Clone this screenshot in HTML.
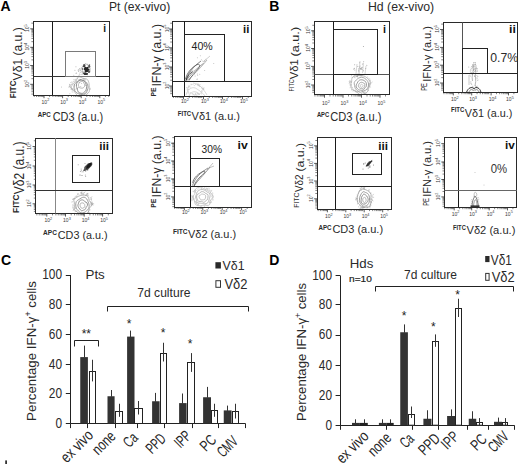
<!DOCTYPE html><html><head><meta charset="utf-8"><style>html,body{margin:0;padding:0;background:#fff;}svg{display:block;}text{font-family:"Liberation Sans",sans-serif;}</style></head><body>
<svg width="520" height="464" viewBox="0 0 520 464">
<rect width="520" height="464" fill="#fff"/>
<text x="0.40" y="10.90" font-size="14" font-weight="bold" fill="#000">A</text>
<text x="269.30" y="10.70" font-size="14" font-weight="bold" fill="#000">B</text>
<text x="0.90" y="264.70" font-size="14" font-weight="bold" fill="#000">C</text>
<text x="269.30" y="264.70" font-size="14" font-weight="bold" fill="#000">D</text>
<text x="109.00" y="11.20" font-size="12.4" textLength="61.20" lengthAdjust="spacingAndGlyphs" fill="#2a2a2a">Pt (ex-vivo)</text>
<text x="368.00" y="11.10" font-size="12.4" textLength="66.20" lengthAdjust="spacingAndGlyphs" fill="#2a2a2a">Hd (ex-vivo)</text>
<line x1="30.20" y1="28.80" x2="33.40" y2="28.80" stroke="#333" stroke-width="0.8"/>
<line x1="31.40" y1="23.17" x2="33.40" y2="23.17" stroke="#333" stroke-width="0.6"/>
<line x1="30.20" y1="47.30" x2="33.40" y2="47.30" stroke="#333" stroke-width="0.8"/>
<line x1="31.40" y1="41.67" x2="33.40" y2="41.67" stroke="#333" stroke-width="0.6"/>
<line x1="31.40" y1="38.38" x2="33.40" y2="38.38" stroke="#333" stroke-width="0.6"/>
<line x1="31.40" y1="36.04" x2="33.40" y2="36.04" stroke="#333" stroke-width="0.6"/>
<line x1="31.40" y1="34.23" x2="33.40" y2="34.23" stroke="#333" stroke-width="0.6"/>
<line x1="31.40" y1="32.75" x2="33.40" y2="32.75" stroke="#333" stroke-width="0.6"/>
<line x1="31.40" y1="31.50" x2="33.40" y2="31.50" stroke="#333" stroke-width="0.6"/>
<line x1="31.40" y1="30.41" x2="33.40" y2="30.41" stroke="#333" stroke-width="0.6"/>
<line x1="31.40" y1="29.46" x2="33.40" y2="29.46" stroke="#333" stroke-width="0.6"/>
<line x1="30.20" y1="65.50" x2="33.40" y2="65.50" stroke="#333" stroke-width="0.8"/>
<line x1="31.40" y1="59.87" x2="33.40" y2="59.87" stroke="#333" stroke-width="0.6"/>
<line x1="31.40" y1="56.58" x2="33.40" y2="56.58" stroke="#333" stroke-width="0.6"/>
<line x1="31.40" y1="54.24" x2="33.40" y2="54.24" stroke="#333" stroke-width="0.6"/>
<line x1="31.40" y1="52.43" x2="33.40" y2="52.43" stroke="#333" stroke-width="0.6"/>
<line x1="31.40" y1="50.95" x2="33.40" y2="50.95" stroke="#333" stroke-width="0.6"/>
<line x1="31.40" y1="49.70" x2="33.40" y2="49.70" stroke="#333" stroke-width="0.6"/>
<line x1="31.40" y1="48.61" x2="33.40" y2="48.61" stroke="#333" stroke-width="0.6"/>
<line x1="31.40" y1="47.66" x2="33.40" y2="47.66" stroke="#333" stroke-width="0.6"/>
<line x1="30.20" y1="84.30" x2="33.40" y2="84.30" stroke="#333" stroke-width="0.8"/>
<line x1="31.40" y1="78.67" x2="33.40" y2="78.67" stroke="#333" stroke-width="0.6"/>
<line x1="31.40" y1="75.38" x2="33.40" y2="75.38" stroke="#333" stroke-width="0.6"/>
<line x1="31.40" y1="73.04" x2="33.40" y2="73.04" stroke="#333" stroke-width="0.6"/>
<line x1="31.40" y1="71.23" x2="33.40" y2="71.23" stroke="#333" stroke-width="0.6"/>
<line x1="31.40" y1="69.75" x2="33.40" y2="69.75" stroke="#333" stroke-width="0.6"/>
<line x1="31.40" y1="68.50" x2="33.40" y2="68.50" stroke="#333" stroke-width="0.6"/>
<line x1="31.40" y1="67.41" x2="33.40" y2="67.41" stroke="#333" stroke-width="0.6"/>
<line x1="31.40" y1="66.46" x2="33.40" y2="66.46" stroke="#333" stroke-width="0.6"/>
<line x1="31.40" y1="94.08" x2="33.40" y2="94.08" stroke="#333" stroke-width="0.6"/>
<line x1="31.40" y1="91.74" x2="33.40" y2="91.74" stroke="#333" stroke-width="0.6"/>
<line x1="31.40" y1="89.93" x2="33.40" y2="89.93" stroke="#333" stroke-width="0.6"/>
<line x1="31.40" y1="88.45" x2="33.40" y2="88.45" stroke="#333" stroke-width="0.6"/>
<line x1="31.40" y1="87.20" x2="33.40" y2="87.20" stroke="#333" stroke-width="0.6"/>
<line x1="31.40" y1="86.11" x2="33.40" y2="86.11" stroke="#333" stroke-width="0.6"/>
<line x1="31.40" y1="85.16" x2="33.40" y2="85.16" stroke="#333" stroke-width="0.6"/>
<line x1="44.00" y1="95.00" x2="44.00" y2="98.20" stroke="#333" stroke-width="0.8"/>
<line x1="49.63" y1="95.00" x2="49.63" y2="97.00" stroke="#333" stroke-width="0.6"/>
<line x1="52.92" y1="95.00" x2="52.92" y2="97.00" stroke="#333" stroke-width="0.6"/>
<line x1="55.26" y1="95.00" x2="55.26" y2="97.00" stroke="#333" stroke-width="0.6"/>
<line x1="57.07" y1="95.00" x2="57.07" y2="97.00" stroke="#333" stroke-width="0.6"/>
<line x1="58.55" y1="95.00" x2="58.55" y2="97.00" stroke="#333" stroke-width="0.6"/>
<line x1="59.80" y1="95.00" x2="59.80" y2="97.00" stroke="#333" stroke-width="0.6"/>
<line x1="60.89" y1="95.00" x2="60.89" y2="97.00" stroke="#333" stroke-width="0.6"/>
<line x1="61.84" y1="95.00" x2="61.84" y2="97.00" stroke="#333" stroke-width="0.6"/>
<line x1="62.60" y1="95.00" x2="62.60" y2="98.20" stroke="#333" stroke-width="0.8"/>
<line x1="68.23" y1="95.00" x2="68.23" y2="97.00" stroke="#333" stroke-width="0.6"/>
<line x1="71.52" y1="95.00" x2="71.52" y2="97.00" stroke="#333" stroke-width="0.6"/>
<line x1="73.86" y1="95.00" x2="73.86" y2="97.00" stroke="#333" stroke-width="0.6"/>
<line x1="75.67" y1="95.00" x2="75.67" y2="97.00" stroke="#333" stroke-width="0.6"/>
<line x1="77.15" y1="95.00" x2="77.15" y2="97.00" stroke="#333" stroke-width="0.6"/>
<line x1="78.40" y1="95.00" x2="78.40" y2="97.00" stroke="#333" stroke-width="0.6"/>
<line x1="79.49" y1="95.00" x2="79.49" y2="97.00" stroke="#333" stroke-width="0.6"/>
<line x1="80.44" y1="95.00" x2="80.44" y2="97.00" stroke="#333" stroke-width="0.6"/>
<line x1="81.20" y1="95.00" x2="81.20" y2="98.20" stroke="#333" stroke-width="0.8"/>
<line x1="86.83" y1="95.00" x2="86.83" y2="97.00" stroke="#333" stroke-width="0.6"/>
<line x1="90.12" y1="95.00" x2="90.12" y2="97.00" stroke="#333" stroke-width="0.6"/>
<line x1="92.46" y1="95.00" x2="92.46" y2="97.00" stroke="#333" stroke-width="0.6"/>
<line x1="94.27" y1="95.00" x2="94.27" y2="97.00" stroke="#333" stroke-width="0.6"/>
<line x1="95.75" y1="95.00" x2="95.75" y2="97.00" stroke="#333" stroke-width="0.6"/>
<line x1="97.00" y1="95.00" x2="97.00" y2="97.00" stroke="#333" stroke-width="0.6"/>
<line x1="98.09" y1="95.00" x2="98.09" y2="97.00" stroke="#333" stroke-width="0.6"/>
<line x1="99.04" y1="95.00" x2="99.04" y2="97.00" stroke="#333" stroke-width="0.6"/>
<line x1="99.80" y1="95.00" x2="99.80" y2="98.20" stroke="#333" stroke-width="0.8"/>
<line x1="105.43" y1="95.00" x2="105.43" y2="97.00" stroke="#333" stroke-width="0.6"/>
<line x1="108.72" y1="95.00" x2="108.72" y2="97.00" stroke="#333" stroke-width="0.6"/>
<line x1="34.22" y1="95.00" x2="34.22" y2="97.00" stroke="#333" stroke-width="0.6"/>
<line x1="36.56" y1="95.00" x2="36.56" y2="97.00" stroke="#333" stroke-width="0.6"/>
<line x1="38.37" y1="95.00" x2="38.37" y2="97.00" stroke="#333" stroke-width="0.6"/>
<line x1="39.85" y1="95.00" x2="39.85" y2="97.00" stroke="#333" stroke-width="0.6"/>
<line x1="41.10" y1="95.00" x2="41.10" y2="97.00" stroke="#333" stroke-width="0.6"/>
<line x1="42.19" y1="95.00" x2="42.19" y2="97.00" stroke="#333" stroke-width="0.6"/>
<line x1="43.14" y1="95.00" x2="43.14" y2="97.00" stroke="#333" stroke-width="0.6"/>
<text x="41.60" y="103.60" font-size="5" fill="#3a3a3a">10<tspan font-size="3.8" dy="-2.2">2</tspan></text>
<text x="60.20" y="103.60" font-size="5" fill="#3a3a3a">10<tspan font-size="3.8" dy="-2.2">3</tspan></text>
<text x="78.80" y="103.60" font-size="5" fill="#3a3a3a">10<tspan font-size="3.8" dy="-2.2">4</tspan></text>
<text x="97.40" y="103.60" font-size="5" fill="#3a3a3a">10<tspan font-size="3.8" dy="-2.2">5</tspan></text>
<text transform="translate(28.90,32.10) rotate(-90)" font-size="5" fill="#3a3a3a">10<tspan font-size="3.8" dy="-2.2">5</tspan></text>
<text transform="translate(28.90,50.60) rotate(-90)" font-size="5" fill="#3a3a3a">10<tspan font-size="3.8" dy="-2.2">4</tspan></text>
<text transform="translate(28.90,68.80) rotate(-90)" font-size="5" fill="#3a3a3a">10<tspan font-size="3.8" dy="-2.2">3</tspan></text>
<text transform="translate(28.90,87.60) rotate(-90)" font-size="5" fill="#3a3a3a">10<tspan font-size="3.8" dy="-2.2">2</tspan></text>
<clipPath id="c1"><rect x="33.4" y="21.6" width="76.4" height="73.4"/></clipPath><g clip-path="url(#c1)">
<line x1="87.63" y1="92.99" x2="86.31" y2="94.21" stroke="#b4b4b4" stroke-width="0.55"/>
<line x1="79.56" y1="94.10" x2="79.84" y2="95.87" stroke="#b4b4b4" stroke-width="0.55"/>
<line x1="73.16" y1="79.65" x2="74.88" y2="80.18" stroke="#b4b4b4" stroke-width="0.55"/>
<line x1="90.10" y1="87.68" x2="90.48" y2="89.44" stroke="#b4b4b4" stroke-width="0.55"/>
<line x1="80.47" y1="79.33" x2="80.78" y2="81.10" stroke="#b4b4b4" stroke-width="0.55"/>
<line x1="79.33" y1="79.61" x2="77.56" y2="79.92" stroke="#b4b4b4" stroke-width="0.55"/>
<line x1="85.75" y1="82.94" x2="87.54" y2="83.08" stroke="#b4b4b4" stroke-width="0.55"/>
<line x1="69.28" y1="83.83" x2="69.94" y2="85.51" stroke="#b4b4b4" stroke-width="0.55"/>
<line x1="81.04" y1="94.56" x2="82.83" y2="94.72" stroke="#b4b4b4" stroke-width="0.55"/>
<line x1="81.64" y1="93.83" x2="81.66" y2="95.63" stroke="#b4b4b4" stroke-width="0.55"/>
<line x1="80.23" y1="93.74" x2="81.62" y2="94.88" stroke="#b4b4b4" stroke-width="0.55"/>
<line x1="70.49" y1="88.82" x2="72.28" y2="88.94" stroke="#b4b4b4" stroke-width="0.55"/>
<line x1="85.44" y1="79.25" x2="84.66" y2="80.88" stroke="#b4b4b4" stroke-width="0.55"/>
<line x1="85.09" y1="95.06" x2="83.46" y2="95.83" stroke="#b4b4b4" stroke-width="0.55"/>
<line x1="87.12" y1="91.54" x2="85.97" y2="92.92" stroke="#b4b4b4" stroke-width="0.55"/>
<line x1="77.19" y1="77.35" x2="77.62" y2="79.09" stroke="#b4b4b4" stroke-width="0.55"/>
<line x1="84.29" y1="78.90" x2="85.33" y2="80.37" stroke="#b4b4b4" stroke-width="0.55"/>
<line x1="71.77" y1="81.92" x2="70.18" y2="82.75" stroke="#b4b4b4" stroke-width="0.55"/>
<line x1="69.36" y1="86.63" x2="71.15" y2="86.82" stroke="#b4b4b4" stroke-width="0.55"/>
<line x1="80.23" y1="94.84" x2="80.71" y2="96.57" stroke="#b4b4b4" stroke-width="0.55"/>
<line x1="85.02" y1="93.46" x2="83.95" y2="94.91" stroke="#b4b4b4" stroke-width="0.55"/>
<line x1="75.65" y1="79.27" x2="75.99" y2="81.03" stroke="#b4b4b4" stroke-width="0.55"/>
<line x1="69.78" y1="85.64" x2="69.66" y2="87.44" stroke="#b4b4b4" stroke-width="0.55"/>
<line x1="71.68" y1="91.87" x2="73.48" y2="92.04" stroke="#b4b4b4" stroke-width="0.55"/>
<line x1="90.60" y1="89.24" x2="88.81" y2="89.34" stroke="#b4b4b4" stroke-width="0.55"/>
<line x1="71.56" y1="82.26" x2="73.11" y2="83.18" stroke="#b4b4b4" stroke-width="0.55"/>
<line x1="69.80" y1="86.28" x2="68.45" y2="87.47" stroke="#b4b4b4" stroke-width="0.55"/>
<line x1="69.13" y1="84.22" x2="70.47" y2="85.42" stroke="#b4b4b4" stroke-width="0.55"/>
<line x1="69.47" y1="85.34" x2="69.03" y2="87.09" stroke="#b4b4b4" stroke-width="0.55"/>
<line x1="71.58" y1="88.00" x2="71.31" y2="89.78" stroke="#b4b4b4" stroke-width="0.55"/>
<line x1="88.50" y1="84.62" x2="87.10" y2="85.75" stroke="#b4b4b4" stroke-width="0.55"/>
<line x1="85.16" y1="78.28" x2="83.93" y2="79.59" stroke="#b4b4b4" stroke-width="0.55"/>
<line x1="83.64" y1="78.62" x2="83.30" y2="80.39" stroke="#b4b4b4" stroke-width="0.55"/>
<line x1="73.46" y1="89.75" x2="71.81" y2="90.46" stroke="#b4b4b4" stroke-width="0.55"/>
<line x1="72.19" y1="83.00" x2="72.16" y2="84.80" stroke="#b4b4b4" stroke-width="0.55"/>
<line x1="70.53" y1="86.93" x2="71.37" y2="88.52" stroke="#b4b4b4" stroke-width="0.55"/>
<line x1="70.75" y1="84.17" x2="70.12" y2="85.86" stroke="#b4b4b4" stroke-width="0.55"/>
<line x1="71.45" y1="88.19" x2="72.80" y2="89.38" stroke="#b4b4b4" stroke-width="0.55"/>
<line x1="85.12" y1="93.98" x2="83.49" y2="94.74" stroke="#b4b4b4" stroke-width="0.55"/>
<line x1="83.86" y1="78.20" x2="82.35" y2="79.18" stroke="#b4b4b4" stroke-width="0.55"/>
<line x1="80.12" y1="95.05" x2="79.19" y2="96.59" stroke="#b4b4b4" stroke-width="0.55"/>
<line x1="86.14" y1="90.38" x2="87.94" y2="90.46" stroke="#b4b4b4" stroke-width="0.55"/>
<line x1="79.46" y1="79.30" x2="81.16" y2="79.91" stroke="#b4b4b4" stroke-width="0.55"/>
<line x1="72.71" y1="81.42" x2="74.47" y2="81.81" stroke="#b4b4b4" stroke-width="0.55"/>
<line x1="84.37" y1="93.35" x2="85.93" y2="94.25" stroke="#b4b4b4" stroke-width="0.55"/>
<circle cx="85.35" cy="85.35" r="0.5" fill="#bbb"/>
<circle cx="77.58" cy="88.59" r="0.5" fill="#bbb"/>
<circle cx="79.34" cy="82.39" r="0.5" fill="#bbb"/>
<circle cx="74.34" cy="84.99" r="0.5" fill="#bbb"/>
<circle cx="71.70" cy="84.62" r="0.5" fill="#bbb"/>
<circle cx="73.95" cy="86.85" r="0.5" fill="#bbb"/>
<circle cx="72.37" cy="89.69" r="0.5" fill="#bbb"/>
<circle cx="73.81" cy="75.21" r="0.5" fill="#bbb"/>
<circle cx="80.76" cy="86.43" r="0.5" fill="#bbb"/>
<circle cx="73.03" cy="89.07" r="0.5" fill="#bbb"/>
<circle cx="76.92" cy="88.21" r="0.5" fill="#bbb"/>
<circle cx="72.58" cy="88.77" r="0.5" fill="#bbb"/>
<circle cx="69.85" cy="93.77" r="0.5" fill="#bbb"/>
<circle cx="70.94" cy="87.17" r="0.5" fill="#bbb"/>
<circle cx="76.08" cy="88.88" r="0.5" fill="#bbb"/>
<circle cx="75.01" cy="89.93" r="0.5" fill="#bbb"/>
<circle cx="61.46" cy="87.06" r="0.5" fill="#bbb"/>
<circle cx="74.84" cy="85.75" r="0.5" fill="#bbb"/>
<circle cx="81.60" cy="83.57" r="0.5" fill="#bbb"/>
<circle cx="75.15" cy="79.33" r="0.5" fill="#bbb"/>
<circle cx="76.57" cy="80.96" r="0.5" fill="#bbb"/>
<circle cx="69.17" cy="96.95" r="0.5" fill="#bbb"/>
<circle cx="78.30" cy="87.44" r="0.5" fill="#bbb"/>
<circle cx="76.16" cy="81.66" r="0.5" fill="#bbb"/>
<circle cx="71.23" cy="89.18" r="0.5" fill="#bbb"/>
<path d="M89.29,87.50 C89.32,88.88 89.70,90.49 89.22,91.68 C88.73,92.87 87.42,93.74 86.39,94.64 C85.37,95.53 84.31,96.64 83.07,97.05 C81.82,97.46 80.08,97.63 78.92,97.11 C77.76,96.60 76.93,94.97 76.12,93.96 C75.31,92.94 74.91,92.10 74.08,91.02 C73.24,89.94 71.19,88.72 71.09,87.50 C70.99,86.28 72.69,84.81 73.48,83.68 C74.27,82.54 74.97,81.80 75.84,80.66 C76.71,79.53 77.51,77.25 78.70,76.86 C79.89,76.47 81.57,77.91 82.98,78.32 C84.40,78.73 86.17,78.48 87.18,79.32 C88.19,80.17 88.70,82.04 89.05,83.41 C89.40,84.77 89.26,86.12 89.29,87.50 Z" stroke="#a8a8a8" stroke-width="0.7" fill="none"/>
<path d="M88.13,87.00 C88.13,88.01 87.70,89.17 87.31,90.20 C86.91,91.22 86.50,92.45 85.77,93.12 C85.05,93.80 83.90,94.09 82.95,94.26 C82.00,94.43 81.03,94.31 80.08,94.12 C79.12,93.93 78.12,93.69 77.22,93.13 C76.32,92.57 75.19,91.78 74.67,90.76 C74.14,89.74 74.05,88.18 74.08,87.00 C74.11,85.82 74.31,84.60 74.86,83.71 C75.41,82.82 76.53,82.31 77.38,81.68 C78.22,81.05 79.00,80.16 79.93,79.93 C80.87,79.70 82.05,79.99 82.99,80.29 C83.93,80.60 84.86,81.10 85.58,81.74 C86.30,82.38 86.88,83.25 87.31,84.12 C87.74,85.00 88.13,85.99 88.13,87.00 Z" stroke="#8c8c8c" stroke-width="0.8" fill="none"/>
<path d="M86.60,86.50 C86.66,87.44 86.48,88.54 86.18,89.43 C85.87,90.32 85.35,91.18 84.76,91.82 C84.18,92.46 83.43,93.08 82.69,93.29 C81.95,93.50 81.10,93.31 80.34,93.08 C79.59,92.85 78.67,92.59 78.17,91.93 C77.67,91.26 77.61,90.01 77.33,89.11 C77.06,88.20 76.64,87.44 76.53,86.50 C76.42,85.56 76.38,84.35 76.68,83.48 C76.97,82.61 77.70,81.92 78.31,81.30 C78.91,80.68 79.61,79.88 80.32,79.76 C81.02,79.63 81.83,80.27 82.54,80.56 C83.26,80.84 84.06,80.90 84.60,81.44 C85.15,81.98 85.49,82.95 85.82,83.79 C86.15,84.64 86.54,85.56 86.60,86.50 Z" stroke="#7a7a7a" stroke-width="0.8" fill="none"/>
<path d="M84.71,85.00 C84.76,85.52 84.64,86.18 84.41,86.64 C84.19,87.09 83.74,87.46 83.36,87.73 C82.98,87.99 82.54,88.17 82.13,88.22 C81.72,88.26 81.34,88.07 80.91,88.00 C80.48,87.94 79.91,88.09 79.56,87.84 C79.21,87.59 79.02,86.98 78.82,86.51 C78.61,86.03 78.30,85.50 78.31,85.00 C78.32,84.50 78.68,84.01 78.88,83.53 C79.08,83.04 79.18,82.38 79.51,82.09 C79.84,81.79 80.42,81.90 80.87,81.77 C81.32,81.65 81.78,81.28 82.22,81.34 C82.65,81.40 83.15,81.75 83.47,82.11 C83.80,82.47 83.94,83.03 84.15,83.51 C84.35,83.99 84.67,84.48 84.71,85.00 Z" stroke="#999" stroke-width="0.7" fill="none"/>
<circle cx="80.23" cy="72.28" r="0.5" fill="#b0b0b0"/>
<circle cx="80.32" cy="70.21" r="0.5" fill="#b0b0b0"/>
<circle cx="78.21" cy="70.47" r="0.5" fill="#b0b0b0"/>
<circle cx="84.34" cy="72.06" r="0.5" fill="#b0b0b0"/>
<circle cx="84.11" cy="71.62" r="0.5" fill="#b0b0b0"/>
<circle cx="82.18" cy="71.46" r="0.5" fill="#b0b0b0"/>
<circle cx="76.00" cy="73.14" r="0.5" fill="#b0b0b0"/>
<circle cx="82.52" cy="72.25" r="0.5" fill="#b0b0b0"/>
<circle cx="75.93" cy="66.64" r="0.5" fill="#b0b0b0"/>
<circle cx="78.33" cy="69.83" r="0.5" fill="#b0b0b0"/>
<circle cx="81.92" cy="70.89" r="0.5" fill="#b0b0b0"/>
<circle cx="82.56" cy="69.39" r="0.5" fill="#b0b0b0"/>
<circle cx="81.93" cy="71.99" r="0.5" fill="#b0b0b0"/>
<circle cx="79.02" cy="75.29" r="0.5" fill="#b0b0b0"/>
<circle cx="82.67" cy="73.99" r="0.5" fill="#b0b0b0"/>
<circle cx="79.14" cy="69.15" r="0.5" fill="#b0b0b0"/>
<circle cx="79.97" cy="70.73" r="0.5" fill="#b0b0b0"/>
<circle cx="82.90" cy="71.62" r="0.5" fill="#b0b0b0"/>
<circle cx="79.66" cy="68.61" r="0.5" fill="#b0b0b0"/>
<circle cx="79.44" cy="74.05" r="0.5" fill="#b0b0b0"/>
<circle cx="78.58" cy="71.61" r="0.5" fill="#b0b0b0"/>
<circle cx="82.28" cy="67.28" r="0.5" fill="#b0b0b0"/>
<circle cx="81.15" cy="74.27" r="0.5" fill="#b0b0b0"/>
<circle cx="74.96" cy="70.20" r="0.5" fill="#b0b0b0"/>
<circle cx="80.68" cy="68.96" r="0.5" fill="#b0b0b0"/>
<circle cx="82.49" cy="70.84" r="0.5" fill="#b0b0b0"/>
<circle cx="76.61" cy="73.07" r="0.5" fill="#b0b0b0"/>
<circle cx="83.01" cy="73.36" r="0.5" fill="#b0b0b0"/>
<circle cx="85.32" cy="71.91" r="0.5" fill="#b0b0b0"/>
<circle cx="81.36" cy="67.75" r="0.5" fill="#b0b0b0"/>
<path d="M88.39,68.56 C88.69,69.03 89.71,69.38 89.76,69.75 C89.81,70.11 88.83,70.33 88.67,70.75 C88.52,71.18 89.03,72.08 88.83,72.28 C88.63,72.48 87.85,71.98 87.47,71.95 C87.09,71.93 86.95,72.06 86.56,72.15 C86.17,72.23 85.42,72.71 85.13,72.45 C84.84,72.20 85.04,71.12 84.82,70.63 C84.61,70.13 83.97,69.87 83.85,69.47 C83.73,69.07 83.98,68.59 84.11,68.21 C84.23,67.84 84.39,67.48 84.63,67.22 C84.86,66.96 85.17,66.65 85.51,66.64 C85.84,66.62 86.23,67.08 86.64,67.13 C87.05,67.18 87.68,66.70 87.97,66.94 C88.27,67.18 88.10,68.10 88.39,68.56 Z" stroke="none" stroke-width="0" fill="#262626"/>
<path d="M85.47,65.80 C85.46,66.05 85.39,66.34 85.28,66.52 C85.18,66.71 84.96,66.67 84.83,66.90 C84.71,67.14 84.69,67.92 84.55,67.94 C84.41,67.96 84.19,67.16 84.00,67.04 C83.80,66.91 83.60,67.25 83.39,67.21 C83.18,67.17 82.78,67.00 82.75,66.77 C82.72,66.53 83.19,66.10 83.23,65.80 C83.27,65.50 82.97,65.24 82.99,64.99 C83.01,64.74 83.17,64.37 83.33,64.29 C83.50,64.22 83.80,64.55 83.99,64.53 C84.18,64.51 84.28,64.22 84.47,64.17 C84.65,64.12 84.96,64.08 85.11,64.22 C85.25,64.37 85.28,64.78 85.34,65.04 C85.40,65.30 85.48,65.55 85.47,65.80 Z" stroke="none" stroke-width="0" fill="#404040"/>
<path d="M90.45,66.30 C90.49,66.49 90.31,66.75 90.24,66.96 C90.16,67.18 90.12,67.51 89.98,67.61 C89.85,67.71 89.60,67.49 89.42,67.58 C89.24,67.68 89.07,68.12 88.88,68.15 C88.70,68.19 88.45,67.98 88.31,67.79 C88.16,67.61 88.03,67.31 88.02,67.06 C88.01,66.81 88.23,66.54 88.24,66.30 C88.26,66.06 88.06,65.78 88.11,65.60 C88.15,65.41 88.38,65.28 88.53,65.18 C88.67,65.07 88.80,65.12 88.97,64.97 C89.14,64.83 89.34,64.37 89.54,64.32 C89.74,64.27 90.10,64.43 90.17,64.68 C90.25,64.92 89.94,65.52 89.99,65.80 C90.03,66.07 90.41,66.11 90.45,66.30 Z" stroke="none" stroke-width="0" fill="#555"/>
<path d="M87.83,73.80 C87.78,74.01 87.82,74.17 87.74,74.38 C87.66,74.60 87.66,74.97 87.38,75.08 C87.09,75.18 86.43,75.04 86.02,75.04 C85.62,75.04 85.31,75.10 84.96,75.07 C84.61,75.04 84.13,75.01 83.93,74.87 C83.72,74.73 83.89,74.44 83.75,74.26 C83.61,74.08 83.18,73.98 83.08,73.80 C82.99,73.62 83.06,73.39 83.17,73.19 C83.28,72.99 83.42,72.66 83.74,72.60 C84.06,72.55 84.72,72.83 85.10,72.84 C85.47,72.85 85.72,72.65 85.97,72.68 C86.23,72.71 86.28,72.96 86.63,73.03 C86.98,73.11 87.86,73.00 88.06,73.13 C88.26,73.26 87.89,73.59 87.83,73.80 Z" stroke="none" stroke-width="0" fill="#333"/>
<path d="M90.19,71.50 C90.20,71.68 90.19,71.88 90.12,72.04 C90.05,72.20 89.92,72.39 89.78,72.48 C89.63,72.56 89.41,72.56 89.24,72.57 C89.08,72.58 88.93,72.56 88.76,72.53 C88.60,72.51 88.41,72.50 88.27,72.41 C88.14,72.32 88.07,72.14 87.98,71.99 C87.88,71.84 87.73,71.67 87.71,71.50 C87.69,71.33 87.78,71.12 87.87,70.96 C87.96,70.80 88.09,70.65 88.23,70.54 C88.38,70.43 88.56,70.36 88.73,70.31 C88.90,70.27 89.12,70.23 89.28,70.28 C89.44,70.34 89.55,70.52 89.68,70.64 C89.82,70.76 89.98,70.84 90.07,70.99 C90.15,71.13 90.18,71.32 90.19,71.50 Z" stroke="none" stroke-width="0" fill="#555"/>
<path d="M83.44,69.00 C83.45,69.15 83.49,69.32 83.44,69.45 C83.39,69.59 83.27,69.72 83.15,69.82 C83.03,69.92 82.88,70.04 82.74,70.06 C82.60,70.07 82.43,69.96 82.29,69.90 C82.16,69.85 82.02,69.82 81.92,69.73 C81.81,69.65 81.73,69.52 81.68,69.40 C81.62,69.28 81.59,69.14 81.57,69.00 C81.54,68.86 81.49,68.66 81.55,68.54 C81.61,68.42 81.81,68.37 81.93,68.29 C82.05,68.20 82.15,68.05 82.28,68.02 C82.41,67.99 82.57,68.05 82.71,68.09 C82.84,68.13 82.98,68.18 83.09,68.26 C83.21,68.34 83.33,68.45 83.39,68.57 C83.44,68.70 83.43,68.85 83.44,69.00 Z" stroke="none" stroke-width="0" fill="#777"/>
<line x1="89.64" y1="71.68" x2="89.00" y2="72.92" stroke="#666" stroke-width="0.5"/>
<line x1="88.98" y1="66.79" x2="89.95" y2="67.80" stroke="#666" stroke-width="0.5"/>
<line x1="85.17" y1="63.22" x2="85.99" y2="64.36" stroke="#666" stroke-width="0.5"/>
<line x1="84.98" y1="64.11" x2="83.91" y2="65.01" stroke="#666" stroke-width="0.5"/>
<line x1="89.37" y1="71.89" x2="88.03" y2="72.32" stroke="#666" stroke-width="0.5"/>
<line x1="84.24" y1="72.21" x2="83.10" y2="73.02" stroke="#666" stroke-width="0.5"/>
<line x1="83.69" y1="65.02" x2="83.46" y2="66.40" stroke="#666" stroke-width="0.5"/>
<line x1="84.47" y1="64.52" x2="83.83" y2="65.77" stroke="#666" stroke-width="0.5"/>
<line x1="88.05" y1="72.14" x2="89.40" y2="72.50" stroke="#666" stroke-width="0.5"/>
<line x1="87.08" y1="73.82" x2="87.50" y2="75.15" stroke="#666" stroke-width="0.5"/>
<line x1="90.15" y1="68.04" x2="89.69" y2="69.37" stroke="#666" stroke-width="0.5"/>
<line x1="88.28" y1="64.97" x2="89.60" y2="65.45" stroke="#666" stroke-width="0.5"/>
<line x1="81.88" y1="65.86" x2="83.06" y2="66.62" stroke="#666" stroke-width="0.5"/>
<line x1="89.72" y1="71.42" x2="89.66" y2="72.82" stroke="#666" stroke-width="0.5"/>
<line x1="86.82" y1="73.18" x2="87.90" y2="74.07" stroke="#666" stroke-width="0.5"/>
<line x1="86.53" y1="64.01" x2="87.86" y2="64.45" stroke="#666" stroke-width="0.5"/>
<line x1="87.01" y1="64.47" x2="87.90" y2="65.55" stroke="#666" stroke-width="0.5"/>
<line x1="89.57" y1="69.69" x2="90.88" y2="70.18" stroke="#666" stroke-width="0.5"/>
</g>
<rect x="33.50" y="21.50" width="76.00" height="74.00" stroke="#2a2a2a" stroke-width="1" fill="none"/>
<line x1="52.50" y1="21.60" x2="52.50" y2="95.00" stroke="#1a1a1a" stroke-width="1"/>
<line x1="33.40" y1="76.50" x2="109.80" y2="76.50" stroke="#333" stroke-width="1"/>
<rect x="65.50" y="51.50" width="30.00" height="25.00" stroke="#7a7a7a" stroke-width="1" fill="none"/>
<text x="103.20" y="32.30" font-size="10.5" font-weight="bold" textLength="2.80" lengthAdjust="spacingAndGlyphs" fill="#111">i</text>
<text x="37.70" y="117.40" font-size="7.2" font-weight="bold" textLength="13.10" lengthAdjust="spacingAndGlyphs" fill="#2a2a2a">APC</text>
<text x="52.70" y="121.30" font-size="12.4" textLength="50.50" lengthAdjust="spacingAndGlyphs" fill="#2a2a2a">CD3 (a.u.)</text>
<text transform="translate(15.50,98.20) rotate(-90)" x="0" y="0" font-size="9.2" font-weight="bold" textLength="17.60" lengthAdjust="spacingAndGlyphs" fill="#2a2a2a">FITC</text>
<text transform="translate(21.50,80.40) rotate(-90)" x="0" y="0" font-size="13.5" textLength="53.10" lengthAdjust="spacingAndGlyphs" fill="#2a2a2a">Vδ1 (a.u.)</text>
<line x1="169.00" y1="29.00" x2="172.20" y2="29.00" stroke="#333" stroke-width="0.8"/>
<line x1="170.20" y1="23.22" x2="172.20" y2="23.22" stroke="#333" stroke-width="0.6"/>
<line x1="169.00" y1="47.80" x2="172.20" y2="47.80" stroke="#333" stroke-width="0.8"/>
<line x1="170.20" y1="42.02" x2="172.20" y2="42.02" stroke="#333" stroke-width="0.6"/>
<line x1="170.20" y1="38.64" x2="172.20" y2="38.64" stroke="#333" stroke-width="0.6"/>
<line x1="170.20" y1="36.24" x2="172.20" y2="36.24" stroke="#333" stroke-width="0.6"/>
<line x1="170.20" y1="34.38" x2="172.20" y2="34.38" stroke="#333" stroke-width="0.6"/>
<line x1="170.20" y1="32.86" x2="172.20" y2="32.86" stroke="#333" stroke-width="0.6"/>
<line x1="170.20" y1="31.57" x2="172.20" y2="31.57" stroke="#333" stroke-width="0.6"/>
<line x1="170.20" y1="30.46" x2="172.20" y2="30.46" stroke="#333" stroke-width="0.6"/>
<line x1="170.20" y1="29.48" x2="172.20" y2="29.48" stroke="#333" stroke-width="0.6"/>
<line x1="169.00" y1="67.00" x2="172.20" y2="67.00" stroke="#333" stroke-width="0.8"/>
<line x1="170.20" y1="61.22" x2="172.20" y2="61.22" stroke="#333" stroke-width="0.6"/>
<line x1="170.20" y1="57.84" x2="172.20" y2="57.84" stroke="#333" stroke-width="0.6"/>
<line x1="170.20" y1="55.44" x2="172.20" y2="55.44" stroke="#333" stroke-width="0.6"/>
<line x1="170.20" y1="53.58" x2="172.20" y2="53.58" stroke="#333" stroke-width="0.6"/>
<line x1="170.20" y1="52.06" x2="172.20" y2="52.06" stroke="#333" stroke-width="0.6"/>
<line x1="170.20" y1="50.77" x2="172.20" y2="50.77" stroke="#333" stroke-width="0.6"/>
<line x1="170.20" y1="49.66" x2="172.20" y2="49.66" stroke="#333" stroke-width="0.6"/>
<line x1="170.20" y1="48.68" x2="172.20" y2="48.68" stroke="#333" stroke-width="0.6"/>
<line x1="169.00" y1="86.00" x2="172.20" y2="86.00" stroke="#333" stroke-width="0.8"/>
<line x1="170.20" y1="80.22" x2="172.20" y2="80.22" stroke="#333" stroke-width="0.6"/>
<line x1="170.20" y1="76.84" x2="172.20" y2="76.84" stroke="#333" stroke-width="0.6"/>
<line x1="170.20" y1="74.44" x2="172.20" y2="74.44" stroke="#333" stroke-width="0.6"/>
<line x1="170.20" y1="72.58" x2="172.20" y2="72.58" stroke="#333" stroke-width="0.6"/>
<line x1="170.20" y1="71.06" x2="172.20" y2="71.06" stroke="#333" stroke-width="0.6"/>
<line x1="170.20" y1="69.77" x2="172.20" y2="69.77" stroke="#333" stroke-width="0.6"/>
<line x1="170.20" y1="68.66" x2="172.20" y2="68.66" stroke="#333" stroke-width="0.6"/>
<line x1="170.20" y1="67.68" x2="172.20" y2="67.68" stroke="#333" stroke-width="0.6"/>
<line x1="170.20" y1="93.64" x2="172.20" y2="93.64" stroke="#333" stroke-width="0.6"/>
<line x1="170.20" y1="91.78" x2="172.20" y2="91.78" stroke="#333" stroke-width="0.6"/>
<line x1="170.20" y1="90.26" x2="172.20" y2="90.26" stroke="#333" stroke-width="0.6"/>
<line x1="170.20" y1="88.97" x2="172.20" y2="88.97" stroke="#333" stroke-width="0.6"/>
<line x1="170.20" y1="87.86" x2="172.20" y2="87.86" stroke="#333" stroke-width="0.6"/>
<line x1="170.20" y1="86.88" x2="172.20" y2="86.88" stroke="#333" stroke-width="0.6"/>
<line x1="183.50" y1="96.00" x2="183.50" y2="99.20" stroke="#333" stroke-width="0.8"/>
<line x1="189.28" y1="96.00" x2="189.28" y2="98.00" stroke="#333" stroke-width="0.6"/>
<line x1="192.66" y1="96.00" x2="192.66" y2="98.00" stroke="#333" stroke-width="0.6"/>
<line x1="195.06" y1="96.00" x2="195.06" y2="98.00" stroke="#333" stroke-width="0.6"/>
<line x1="196.92" y1="96.00" x2="196.92" y2="98.00" stroke="#333" stroke-width="0.6"/>
<line x1="198.44" y1="96.00" x2="198.44" y2="98.00" stroke="#333" stroke-width="0.6"/>
<line x1="199.73" y1="96.00" x2="199.73" y2="98.00" stroke="#333" stroke-width="0.6"/>
<line x1="200.84" y1="96.00" x2="200.84" y2="98.00" stroke="#333" stroke-width="0.6"/>
<line x1="201.82" y1="96.00" x2="201.82" y2="98.00" stroke="#333" stroke-width="0.6"/>
<line x1="203.50" y1="96.00" x2="203.50" y2="99.20" stroke="#333" stroke-width="0.8"/>
<line x1="209.28" y1="96.00" x2="209.28" y2="98.00" stroke="#333" stroke-width="0.6"/>
<line x1="212.66" y1="96.00" x2="212.66" y2="98.00" stroke="#333" stroke-width="0.6"/>
<line x1="215.06" y1="96.00" x2="215.06" y2="98.00" stroke="#333" stroke-width="0.6"/>
<line x1="216.92" y1="96.00" x2="216.92" y2="98.00" stroke="#333" stroke-width="0.6"/>
<line x1="218.44" y1="96.00" x2="218.44" y2="98.00" stroke="#333" stroke-width="0.6"/>
<line x1="219.73" y1="96.00" x2="219.73" y2="98.00" stroke="#333" stroke-width="0.6"/>
<line x1="220.84" y1="96.00" x2="220.84" y2="98.00" stroke="#333" stroke-width="0.6"/>
<line x1="221.82" y1="96.00" x2="221.82" y2="98.00" stroke="#333" stroke-width="0.6"/>
<line x1="222.50" y1="96.00" x2="222.50" y2="99.20" stroke="#333" stroke-width="0.8"/>
<line x1="228.28" y1="96.00" x2="228.28" y2="98.00" stroke="#333" stroke-width="0.6"/>
<line x1="231.66" y1="96.00" x2="231.66" y2="98.00" stroke="#333" stroke-width="0.6"/>
<line x1="234.06" y1="96.00" x2="234.06" y2="98.00" stroke="#333" stroke-width="0.6"/>
<line x1="235.92" y1="96.00" x2="235.92" y2="98.00" stroke="#333" stroke-width="0.6"/>
<line x1="237.44" y1="96.00" x2="237.44" y2="98.00" stroke="#333" stroke-width="0.6"/>
<line x1="238.73" y1="96.00" x2="238.73" y2="98.00" stroke="#333" stroke-width="0.6"/>
<line x1="239.84" y1="96.00" x2="239.84" y2="98.00" stroke="#333" stroke-width="0.6"/>
<line x1="240.82" y1="96.00" x2="240.82" y2="98.00" stroke="#333" stroke-width="0.6"/>
<line x1="242.50" y1="96.00" x2="242.50" y2="99.20" stroke="#333" stroke-width="0.8"/>
<line x1="248.28" y1="96.00" x2="248.28" y2="98.00" stroke="#333" stroke-width="0.6"/>
<line x1="173.46" y1="96.00" x2="173.46" y2="98.00" stroke="#333" stroke-width="0.6"/>
<line x1="175.86" y1="96.00" x2="175.86" y2="98.00" stroke="#333" stroke-width="0.6"/>
<line x1="177.72" y1="96.00" x2="177.72" y2="98.00" stroke="#333" stroke-width="0.6"/>
<line x1="179.24" y1="96.00" x2="179.24" y2="98.00" stroke="#333" stroke-width="0.6"/>
<line x1="180.53" y1="96.00" x2="180.53" y2="98.00" stroke="#333" stroke-width="0.6"/>
<line x1="181.64" y1="96.00" x2="181.64" y2="98.00" stroke="#333" stroke-width="0.6"/>
<line x1="182.62" y1="96.00" x2="182.62" y2="98.00" stroke="#333" stroke-width="0.6"/>
<text x="181.10" y="103.00" font-size="5" fill="#3a3a3a">10<tspan font-size="3.8" dy="-2.2">2</tspan></text>
<text x="201.10" y="103.00" font-size="5" fill="#3a3a3a">10<tspan font-size="3.8" dy="-2.2">3</tspan></text>
<text x="220.10" y="103.00" font-size="5" fill="#3a3a3a">10<tspan font-size="3.8" dy="-2.2">4</tspan></text>
<text x="240.10" y="103.00" font-size="5" fill="#3a3a3a">10<tspan font-size="3.8" dy="-2.2">5</tspan></text>
<text transform="translate(168.60,32.30) rotate(-90)" font-size="5" fill="#3a3a3a">10<tspan font-size="3.8" dy="-2.2">5</tspan></text>
<text transform="translate(168.60,51.10) rotate(-90)" font-size="5" fill="#3a3a3a">10<tspan font-size="3.8" dy="-2.2">4</tspan></text>
<text transform="translate(168.60,70.30) rotate(-90)" font-size="5" fill="#3a3a3a">10<tspan font-size="3.8" dy="-2.2">3</tspan></text>
<text transform="translate(168.60,89.30) rotate(-90)" font-size="5" fill="#3a3a3a">10<tspan font-size="3.8" dy="-2.2">2</tspan></text>
<clipPath id="c2"><rect x="172.2" y="21.2" width="79.10000000000002" height="74.8"/></clipPath><g clip-path="url(#c2)">
<line x1="199.72" y1="93.14" x2="198.89" y2="94.96" stroke="#c4c4c4" stroke-width="0.55"/>
<line x1="188.54" y1="89.49" x2="186.95" y2="90.71" stroke="#c4c4c4" stroke-width="0.55"/>
<line x1="197.87" y1="83.81" x2="197.84" y2="85.81" stroke="#c4c4c4" stroke-width="0.55"/>
<line x1="195.20" y1="92.82" x2="195.99" y2="94.66" stroke="#c4c4c4" stroke-width="0.55"/>
<line x1="189.81" y1="86.67" x2="188.21" y2="87.88" stroke="#c4c4c4" stroke-width="0.55"/>
<line x1="194.83" y1="93.94" x2="196.81" y2="94.20" stroke="#c4c4c4" stroke-width="0.55"/>
<line x1="204.50" y1="89.04" x2="202.65" y2="89.80" stroke="#c4c4c4" stroke-width="0.55"/>
<line x1="189.35" y1="85.78" x2="190.38" y2="87.50" stroke="#c4c4c4" stroke-width="0.55"/>
<line x1="188.91" y1="89.42" x2="186.93" y2="89.72" stroke="#c4c4c4" stroke-width="0.55"/>
<line x1="190.98" y1="92.25" x2="189.30" y2="93.34" stroke="#c4c4c4" stroke-width="0.55"/>
<line x1="201.24" y1="92.50" x2="201.53" y2="94.48" stroke="#c4c4c4" stroke-width="0.55"/>
<line x1="187.73" y1="86.97" x2="187.83" y2="88.97" stroke="#c4c4c4" stroke-width="0.55"/>
<line x1="198.57" y1="93.06" x2="196.75" y2="93.88" stroke="#c4c4c4" stroke-width="0.55"/>
<line x1="195.03" y1="94.29" x2="196.62" y2="95.51" stroke="#c4c4c4" stroke-width="0.55"/>
<line x1="204.49" y1="87.71" x2="203.06" y2="89.11" stroke="#c4c4c4" stroke-width="0.55"/>
<line x1="196.32" y1="83.64" x2="195.00" y2="85.15" stroke="#c4c4c4" stroke-width="0.55"/>
<line x1="201.56" y1="92.44" x2="199.85" y2="93.47" stroke="#c4c4c4" stroke-width="0.55"/>
<line x1="198.67" y1="94.52" x2="196.79" y2="95.22" stroke="#c4c4c4" stroke-width="0.55"/>
<line x1="188.38" y1="91.09" x2="188.68" y2="93.07" stroke="#c4c4c4" stroke-width="0.55"/>
<line x1="187.73" y1="92.34" x2="188.43" y2="94.21" stroke="#c4c4c4" stroke-width="0.55"/>
<line x1="202.56" y1="89.46" x2="201.29" y2="91.01" stroke="#c4c4c4" stroke-width="0.55"/>
<line x1="202.96" y1="88.28" x2="203.01" y2="90.27" stroke="#c4c4c4" stroke-width="0.55"/>
<line x1="186.07" y1="87.18" x2="187.60" y2="88.47" stroke="#c4c4c4" stroke-width="0.55"/>
<line x1="189.07" y1="85.36" x2="188.32" y2="87.21" stroke="#c4c4c4" stroke-width="0.55"/>
<line x1="197.58" y1="92.70" x2="198.50" y2="94.47" stroke="#c4c4c4" stroke-width="0.55"/>
<line x1="202.15" y1="86.44" x2="201.54" y2="88.34" stroke="#c4c4c4" stroke-width="0.55"/>
<line x1="191.57" y1="93.42" x2="193.52" y2="93.83" stroke="#c4c4c4" stroke-width="0.55"/>
<line x1="197.99" y1="83.59" x2="198.76" y2="85.44" stroke="#c4c4c4" stroke-width="0.55"/>
<line x1="192.53" y1="84.38" x2="190.63" y2="85.00" stroke="#c4c4c4" stroke-width="0.55"/>
<line x1="203.51" y1="88.21" x2="201.51" y2="88.27" stroke="#c4c4c4" stroke-width="0.55"/>
<line x1="203.91" y1="87.91" x2="202.04" y2="88.63" stroke="#c4c4c4" stroke-width="0.55"/>
<line x1="186.60" y1="89.07" x2="188.02" y2="90.48" stroke="#c4c4c4" stroke-width="0.55"/>
<line x1="199.14" y1="86.13" x2="201.10" y2="86.56" stroke="#c4c4c4" stroke-width="0.55"/>
<line x1="197.89" y1="83.41" x2="198.00" y2="85.41" stroke="#c4c4c4" stroke-width="0.55"/>
<line x1="197.91" y1="85.08" x2="199.29" y2="86.53" stroke="#c4c4c4" stroke-width="0.55"/>
<line x1="192.20" y1="93.72" x2="193.92" y2="94.74" stroke="#c4c4c4" stroke-width="0.55"/>
<line x1="202.85" y1="91.20" x2="200.95" y2="91.82" stroke="#c4c4c4" stroke-width="0.55"/>
<line x1="203.48" y1="87.94" x2="203.61" y2="89.94" stroke="#c4c4c4" stroke-width="0.55"/>
<line x1="194.95" y1="94.19" x2="194.79" y2="96.18" stroke="#c4c4c4" stroke-width="0.55"/>
<line x1="193.29" y1="84.63" x2="194.87" y2="85.86" stroke="#c4c4c4" stroke-width="0.55"/>
<line x1="200.52" y1="84.51" x2="198.65" y2="85.24" stroke="#c4c4c4" stroke-width="0.55"/>
<line x1="188.96" y1="85.62" x2="188.46" y2="87.56" stroke="#c4c4c4" stroke-width="0.55"/>
<line x1="199.51" y1="84.68" x2="199.30" y2="86.67" stroke="#c4c4c4" stroke-width="0.55"/>
<line x1="192.60" y1="94.80" x2="194.59" y2="94.86" stroke="#c4c4c4" stroke-width="0.55"/>
<line x1="190.41" y1="84.21" x2="192.40" y2="84.36" stroke="#c4c4c4" stroke-width="0.55"/>
<path d="M186,95 C188,88 193,86 197,89 C200,91 203,93 205,96 M189,96 C191,91 196,90 200,95 M193,83 C199,84 203,88 207,95" stroke="#c0c0c0" stroke-width="0.6" fill="none"/>
<path d="M185.8,80.5 C188,73 193,67 201,61" stroke="#666" stroke-width="0.8" fill="none"/>
<path d="M186.5,80.5 C190,75 196,69 204,63" stroke="#7a7a7a" stroke-width="0.8" fill="none"/>
<path d="M187.5,80.5 C192,76 198,71 207,60" stroke="#999" stroke-width="0.7" fill="none"/>
<path d="M185.6,79 C187,73 191,68 197,64.5 C200,63.5 200.5,66 198,69 C195,72.5 191,76.5 189,80.5" stroke="#555" stroke-width="0.8" fill="none"/>
<path d="M186,80.5 C187.5,76.5 189.5,73.5 192.5,71.5" stroke="#3a3a3a" stroke-width="1.0" fill="none"/>
<path d="M203,62 L210,56" stroke="#b0b0b0" stroke-width="0.6" fill="none"/>
<circle cx="204.59" cy="61.57" r="0.5" fill="#bbb"/>
<circle cx="213.77" cy="63.61" r="0.5" fill="#bbb"/>
<circle cx="203.61" cy="63.39" r="0.5" fill="#bbb"/>
<circle cx="201.40" cy="59.75" r="0.5" fill="#bbb"/>
<circle cx="204.67" cy="60.61" r="0.5" fill="#bbb"/>
<circle cx="205.55" cy="61.34" r="0.5" fill="#bbb"/>
<circle cx="197.40" cy="57.87" r="0.5" fill="#bbb"/>
<circle cx="200.31" cy="55.75" r="0.5" fill="#bbb"/>
<circle cx="202.75" cy="61.09" r="0.5" fill="#bbb"/>
<circle cx="205.94" cy="59.28" r="0.5" fill="#bbb"/>
<circle cx="204.68" cy="70.57" r="0.5" fill="#bbb"/>
<circle cx="197.30" cy="73.95" r="0.5" fill="#bbb"/>
<circle cx="192.48" cy="72.70" r="0.5" fill="#bbb"/>
<circle cx="193.92" cy="74.60" r="0.5" fill="#bbb"/>
<circle cx="197.55" cy="79.05" r="0.5" fill="#bbb"/>
<circle cx="196.80" cy="79.33" r="0.5" fill="#bbb"/>
<circle cx="197.67" cy="75.26" r="0.5" fill="#bbb"/>
<circle cx="194.96" cy="70.95" r="0.5" fill="#bbb"/>
<circle cx="189.51" cy="74.48" r="0.5" fill="#bbb"/>
<circle cx="195.13" cy="76.07" r="0.5" fill="#bbb"/>
<circle cx="197.10" cy="69.78" r="0.5" fill="#bbb"/>
<circle cx="192.95" cy="70.34" r="0.5" fill="#bbb"/>
<circle cx="199.73" cy="74.31" r="0.5" fill="#bbb"/>
<circle cx="196.24" cy="71.17" r="0.5" fill="#bbb"/>
<circle cx="190.71" cy="72.43" r="0.5" fill="#bbb"/>
</g>
<rect x="172.50" y="21.50" width="79.00" height="75.00" stroke="#2a2a2a" stroke-width="1" fill="none"/>
<line x1="184.50" y1="21.20" x2="184.50" y2="96.00" stroke="#1a1a1a" stroke-width="1"/>
<line x1="172.20" y1="81.50" x2="251.30" y2="81.50" stroke="#222" stroke-width="1"/>
<rect x="184.50" y="34.50" width="40.00" height="47.00" stroke="#222" stroke-width="1" fill="none"/>
<text x="243.00" y="32.80" font-size="10.5" font-weight="bold" textLength="6.30" lengthAdjust="spacingAndGlyphs" fill="#111">ii</text>
<text x="191.50" y="49.90" font-size="11" textLength="21.20" lengthAdjust="spacingAndGlyphs" fill="#222">40%</text>
<text x="177.80" y="116.40" font-size="7.2" font-weight="bold" textLength="13.40" lengthAdjust="spacingAndGlyphs" fill="#2a2a2a">FITC</text>
<text x="191.60" y="119.80" font-size="11.6" textLength="48.40" lengthAdjust="spacingAndGlyphs" fill="#2a2a2a">Vδ1 (a.u.)</text>
<text transform="translate(156.40,96.60) rotate(-90)" x="0" y="0" font-size="8.0" font-weight="bold" textLength="9.00" lengthAdjust="spacingAndGlyphs" fill="#2a2a2a">PE</text>
<text transform="translate(160.80,86.60) rotate(-90)" x="0" y="0" font-size="12.2" textLength="62.70" lengthAdjust="spacingAndGlyphs" fill="#2a2a2a">IFN-γ (a.u.)</text>
<line x1="311.10" y1="30.80" x2="314.30" y2="30.80" stroke="#333" stroke-width="0.8"/>
<line x1="312.30" y1="25.29" x2="314.30" y2="25.29" stroke="#333" stroke-width="0.6"/>
<line x1="311.10" y1="48.50" x2="314.30" y2="48.50" stroke="#333" stroke-width="0.8"/>
<line x1="312.30" y1="42.99" x2="314.30" y2="42.99" stroke="#333" stroke-width="0.6"/>
<line x1="312.30" y1="39.77" x2="314.30" y2="39.77" stroke="#333" stroke-width="0.6"/>
<line x1="312.30" y1="37.48" x2="314.30" y2="37.48" stroke="#333" stroke-width="0.6"/>
<line x1="312.30" y1="35.71" x2="314.30" y2="35.71" stroke="#333" stroke-width="0.6"/>
<line x1="312.30" y1="34.26" x2="314.30" y2="34.26" stroke="#333" stroke-width="0.6"/>
<line x1="312.30" y1="33.03" x2="314.30" y2="33.03" stroke="#333" stroke-width="0.6"/>
<line x1="312.30" y1="31.97" x2="314.30" y2="31.97" stroke="#333" stroke-width="0.6"/>
<line x1="312.30" y1="31.04" x2="314.30" y2="31.04" stroke="#333" stroke-width="0.6"/>
<line x1="311.10" y1="66.40" x2="314.30" y2="66.40" stroke="#333" stroke-width="0.8"/>
<line x1="312.30" y1="60.89" x2="314.30" y2="60.89" stroke="#333" stroke-width="0.6"/>
<line x1="312.30" y1="57.67" x2="314.30" y2="57.67" stroke="#333" stroke-width="0.6"/>
<line x1="312.30" y1="55.38" x2="314.30" y2="55.38" stroke="#333" stroke-width="0.6"/>
<line x1="312.30" y1="53.61" x2="314.30" y2="53.61" stroke="#333" stroke-width="0.6"/>
<line x1="312.30" y1="52.16" x2="314.30" y2="52.16" stroke="#333" stroke-width="0.6"/>
<line x1="312.30" y1="50.93" x2="314.30" y2="50.93" stroke="#333" stroke-width="0.6"/>
<line x1="312.30" y1="49.87" x2="314.30" y2="49.87" stroke="#333" stroke-width="0.6"/>
<line x1="312.30" y1="48.94" x2="314.30" y2="48.94" stroke="#333" stroke-width="0.6"/>
<line x1="311.10" y1="85.00" x2="314.30" y2="85.00" stroke="#333" stroke-width="0.8"/>
<line x1="312.30" y1="79.49" x2="314.30" y2="79.49" stroke="#333" stroke-width="0.6"/>
<line x1="312.30" y1="76.27" x2="314.30" y2="76.27" stroke="#333" stroke-width="0.6"/>
<line x1="312.30" y1="73.98" x2="314.30" y2="73.98" stroke="#333" stroke-width="0.6"/>
<line x1="312.30" y1="72.21" x2="314.30" y2="72.21" stroke="#333" stroke-width="0.6"/>
<line x1="312.30" y1="70.76" x2="314.30" y2="70.76" stroke="#333" stroke-width="0.6"/>
<line x1="312.30" y1="69.53" x2="314.30" y2="69.53" stroke="#333" stroke-width="0.6"/>
<line x1="312.30" y1="68.47" x2="314.30" y2="68.47" stroke="#333" stroke-width="0.6"/>
<line x1="312.30" y1="67.54" x2="314.30" y2="67.54" stroke="#333" stroke-width="0.6"/>
<line x1="312.30" y1="92.28" x2="314.30" y2="92.28" stroke="#333" stroke-width="0.6"/>
<line x1="312.30" y1="90.51" x2="314.30" y2="90.51" stroke="#333" stroke-width="0.6"/>
<line x1="312.30" y1="89.06" x2="314.30" y2="89.06" stroke="#333" stroke-width="0.6"/>
<line x1="312.30" y1="87.83" x2="314.30" y2="87.83" stroke="#333" stroke-width="0.6"/>
<line x1="312.30" y1="86.77" x2="314.30" y2="86.77" stroke="#333" stroke-width="0.6"/>
<line x1="312.30" y1="85.84" x2="314.30" y2="85.84" stroke="#333" stroke-width="0.6"/>
<line x1="324.50" y1="94.50" x2="324.50" y2="97.70" stroke="#333" stroke-width="0.8"/>
<line x1="330.01" y1="94.50" x2="330.01" y2="96.50" stroke="#333" stroke-width="0.6"/>
<line x1="333.23" y1="94.50" x2="333.23" y2="96.50" stroke="#333" stroke-width="0.6"/>
<line x1="335.52" y1="94.50" x2="335.52" y2="96.50" stroke="#333" stroke-width="0.6"/>
<line x1="337.29" y1="94.50" x2="337.29" y2="96.50" stroke="#333" stroke-width="0.6"/>
<line x1="338.74" y1="94.50" x2="338.74" y2="96.50" stroke="#333" stroke-width="0.6"/>
<line x1="339.97" y1="94.50" x2="339.97" y2="96.50" stroke="#333" stroke-width="0.6"/>
<line x1="341.03" y1="94.50" x2="341.03" y2="96.50" stroke="#333" stroke-width="0.6"/>
<line x1="341.96" y1="94.50" x2="341.96" y2="96.50" stroke="#333" stroke-width="0.6"/>
<line x1="343.00" y1="94.50" x2="343.00" y2="97.70" stroke="#333" stroke-width="0.8"/>
<line x1="348.51" y1="94.50" x2="348.51" y2="96.50" stroke="#333" stroke-width="0.6"/>
<line x1="351.73" y1="94.50" x2="351.73" y2="96.50" stroke="#333" stroke-width="0.6"/>
<line x1="354.02" y1="94.50" x2="354.02" y2="96.50" stroke="#333" stroke-width="0.6"/>
<line x1="355.79" y1="94.50" x2="355.79" y2="96.50" stroke="#333" stroke-width="0.6"/>
<line x1="357.24" y1="94.50" x2="357.24" y2="96.50" stroke="#333" stroke-width="0.6"/>
<line x1="358.47" y1="94.50" x2="358.47" y2="96.50" stroke="#333" stroke-width="0.6"/>
<line x1="359.53" y1="94.50" x2="359.53" y2="96.50" stroke="#333" stroke-width="0.6"/>
<line x1="360.46" y1="94.50" x2="360.46" y2="96.50" stroke="#333" stroke-width="0.6"/>
<line x1="361.50" y1="94.50" x2="361.50" y2="97.70" stroke="#333" stroke-width="0.8"/>
<line x1="367.01" y1="94.50" x2="367.01" y2="96.50" stroke="#333" stroke-width="0.6"/>
<line x1="370.23" y1="94.50" x2="370.23" y2="96.50" stroke="#333" stroke-width="0.6"/>
<line x1="372.52" y1="94.50" x2="372.52" y2="96.50" stroke="#333" stroke-width="0.6"/>
<line x1="374.29" y1="94.50" x2="374.29" y2="96.50" stroke="#333" stroke-width="0.6"/>
<line x1="375.74" y1="94.50" x2="375.74" y2="96.50" stroke="#333" stroke-width="0.6"/>
<line x1="376.97" y1="94.50" x2="376.97" y2="96.50" stroke="#333" stroke-width="0.6"/>
<line x1="378.03" y1="94.50" x2="378.03" y2="96.50" stroke="#333" stroke-width="0.6"/>
<line x1="378.96" y1="94.50" x2="378.96" y2="96.50" stroke="#333" stroke-width="0.6"/>
<line x1="380.00" y1="94.50" x2="380.00" y2="97.70" stroke="#333" stroke-width="0.8"/>
<line x1="385.51" y1="94.50" x2="385.51" y2="96.50" stroke="#333" stroke-width="0.6"/>
<line x1="314.93" y1="94.50" x2="314.93" y2="96.50" stroke="#333" stroke-width="0.6"/>
<line x1="317.22" y1="94.50" x2="317.22" y2="96.50" stroke="#333" stroke-width="0.6"/>
<line x1="318.99" y1="94.50" x2="318.99" y2="96.50" stroke="#333" stroke-width="0.6"/>
<line x1="320.44" y1="94.50" x2="320.44" y2="96.50" stroke="#333" stroke-width="0.6"/>
<line x1="321.67" y1="94.50" x2="321.67" y2="96.50" stroke="#333" stroke-width="0.6"/>
<line x1="322.73" y1="94.50" x2="322.73" y2="96.50" stroke="#333" stroke-width="0.6"/>
<line x1="323.66" y1="94.50" x2="323.66" y2="96.50" stroke="#333" stroke-width="0.6"/>
<text x="322.10" y="104.90" font-size="5" fill="#3a3a3a">10<tspan font-size="3.8" dy="-2.2">2</tspan></text>
<text x="340.60" y="104.90" font-size="5" fill="#3a3a3a">10<tspan font-size="3.8" dy="-2.2">3</tspan></text>
<text x="359.10" y="104.90" font-size="5" fill="#3a3a3a">10<tspan font-size="3.8" dy="-2.2">4</tspan></text>
<text x="377.60" y="104.90" font-size="5" fill="#3a3a3a">10<tspan font-size="3.8" dy="-2.2">5</tspan></text>
<text transform="translate(309.80,34.10) rotate(-90)" font-size="5" fill="#3a3a3a">10<tspan font-size="3.8" dy="-2.2">5</tspan></text>
<text transform="translate(309.80,51.80) rotate(-90)" font-size="5" fill="#3a3a3a">10<tspan font-size="3.8" dy="-2.2">4</tspan></text>
<text transform="translate(309.80,69.70) rotate(-90)" font-size="5" fill="#3a3a3a">10<tspan font-size="3.8" dy="-2.2">3</tspan></text>
<text transform="translate(309.80,88.30) rotate(-90)" font-size="5" fill="#3a3a3a">10<tspan font-size="3.8" dy="-2.2">2</tspan></text>
<clipPath id="c3"><rect x="314.3" y="21.8" width="75.09999999999997" height="72.7"/></clipPath><g clip-path="url(#c3)">
<line x1="369.01" y1="83.76" x2="369.61" y2="85.46" stroke="#b0b0b0" stroke-width="0.55"/>
<line x1="356.06" y1="76.35" x2="357.75" y2="76.97" stroke="#b0b0b0" stroke-width="0.55"/>
<line x1="360.92" y1="93.23" x2="362.53" y2="94.03" stroke="#b0b0b0" stroke-width="0.55"/>
<line x1="359.07" y1="74.20" x2="360.70" y2="74.95" stroke="#b0b0b0" stroke-width="0.55"/>
<line x1="350.66" y1="81.17" x2="351.15" y2="82.90" stroke="#b0b0b0" stroke-width="0.55"/>
<line x1="368.38" y1="83.76" x2="370.18" y2="83.88" stroke="#b0b0b0" stroke-width="0.55"/>
<line x1="368.79" y1="80.25" x2="370.25" y2="81.30" stroke="#b0b0b0" stroke-width="0.55"/>
<line x1="356.75" y1="91.43" x2="354.97" y2="91.69" stroke="#b0b0b0" stroke-width="0.55"/>
<line x1="362.99" y1="91.11" x2="362.52" y2="92.85" stroke="#b0b0b0" stroke-width="0.55"/>
<line x1="350.43" y1="80.56" x2="348.85" y2="81.44" stroke="#b0b0b0" stroke-width="0.55"/>
<line x1="355.68" y1="90.02" x2="354.11" y2="90.91" stroke="#b0b0b0" stroke-width="0.55"/>
<line x1="369.68" y1="82.80" x2="368.46" y2="84.13" stroke="#b0b0b0" stroke-width="0.55"/>
<line x1="366.88" y1="76.51" x2="368.27" y2="77.65" stroke="#b0b0b0" stroke-width="0.55"/>
<line x1="362.85" y1="74.27" x2="364.32" y2="75.30" stroke="#b0b0b0" stroke-width="0.55"/>
<line x1="353.81" y1="77.50" x2="355.59" y2="77.74" stroke="#b0b0b0" stroke-width="0.55"/>
<line x1="355.32" y1="90.48" x2="355.90" y2="92.19" stroke="#b0b0b0" stroke-width="0.55"/>
<line x1="354.74" y1="76.00" x2="352.96" y2="76.21" stroke="#b0b0b0" stroke-width="0.55"/>
<line x1="372.57" y1="81.92" x2="371.14" y2="83.03" stroke="#b0b0b0" stroke-width="0.55"/>
<line x1="357.71" y1="90.79" x2="357.03" y2="92.46" stroke="#b0b0b0" stroke-width="0.55"/>
<line x1="349.55" y1="81.05" x2="351.27" y2="81.57" stroke="#b0b0b0" stroke-width="0.55"/>
<line x1="364.74" y1="92.63" x2="364.18" y2="94.34" stroke="#b0b0b0" stroke-width="0.55"/>
<line x1="357.26" y1="75.70" x2="357.82" y2="77.41" stroke="#b0b0b0" stroke-width="0.55"/>
<line x1="370.22" y1="78.94" x2="368.43" y2="78.99" stroke="#b0b0b0" stroke-width="0.55"/>
<line x1="364.46" y1="91.86" x2="363.00" y2="92.92" stroke="#b0b0b0" stroke-width="0.55"/>
<line x1="350.46" y1="86.45" x2="350.11" y2="88.21" stroke="#b0b0b0" stroke-width="0.55"/>
<line x1="367.88" y1="89.30" x2="366.09" y2="89.40" stroke="#b0b0b0" stroke-width="0.55"/>
<line x1="366.70" y1="88.79" x2="367.59" y2="90.35" stroke="#b0b0b0" stroke-width="0.55"/>
<line x1="357.91" y1="73.41" x2="358.05" y2="75.20" stroke="#b0b0b0" stroke-width="0.55"/>
<line x1="349.06" y1="83.42" x2="350.21" y2="84.80" stroke="#b0b0b0" stroke-width="0.55"/>
<line x1="353.68" y1="89.87" x2="352.94" y2="91.50" stroke="#b0b0b0" stroke-width="0.55"/>
<line x1="368.27" y1="85.51" x2="369.90" y2="86.26" stroke="#b0b0b0" stroke-width="0.55"/>
<line x1="359.75" y1="74.52" x2="357.96" y2="74.67" stroke="#b0b0b0" stroke-width="0.55"/>
<line x1="362.19" y1="75.11" x2="360.85" y2="76.32" stroke="#b0b0b0" stroke-width="0.55"/>
<line x1="369.10" y1="83.16" x2="370.90" y2="83.22" stroke="#b0b0b0" stroke-width="0.55"/>
<line x1="353.12" y1="89.47" x2="354.65" y2="90.41" stroke="#b0b0b0" stroke-width="0.55"/>
<line x1="369.84" y1="85.86" x2="368.20" y2="86.60" stroke="#b0b0b0" stroke-width="0.55"/>
<line x1="369.62" y1="86.33" x2="371.05" y2="87.42" stroke="#b0b0b0" stroke-width="0.55"/>
<line x1="363.79" y1="92.52" x2="364.85" y2="93.97" stroke="#b0b0b0" stroke-width="0.55"/>
<line x1="365.00" y1="91.39" x2="363.97" y2="92.86" stroke="#b0b0b0" stroke-width="0.55"/>
<line x1="349.28" y1="81.62" x2="349.82" y2="83.34" stroke="#b0b0b0" stroke-width="0.55"/>
<line x1="349.86" y1="81.66" x2="350.08" y2="83.45" stroke="#b0b0b0" stroke-width="0.55"/>
<line x1="357.64" y1="74.91" x2="359.28" y2="75.65" stroke="#b0b0b0" stroke-width="0.55"/>
<line x1="368.87" y1="90.19" x2="367.62" y2="91.48" stroke="#b0b0b0" stroke-width="0.55"/>
<line x1="370.62" y1="79.78" x2="370.17" y2="81.52" stroke="#b0b0b0" stroke-width="0.55"/>
<line x1="365.22" y1="92.28" x2="366.90" y2="92.93" stroke="#b0b0b0" stroke-width="0.55"/>
<line x1="352.22" y1="86.81" x2="352.88" y2="88.49" stroke="#b0b0b0" stroke-width="0.55"/>
<line x1="357.62" y1="91.53" x2="356.51" y2="92.95" stroke="#b0b0b0" stroke-width="0.55"/>
<line x1="352.28" y1="81.28" x2="350.89" y2="82.43" stroke="#b0b0b0" stroke-width="0.55"/>
<line x1="358.58" y1="74.07" x2="360.37" y2="74.25" stroke="#b0b0b0" stroke-width="0.55"/>
<line x1="351.48" y1="76.70" x2="352.71" y2="78.01" stroke="#b0b0b0" stroke-width="0.55"/>
<line x1="363.37" y1="92.59" x2="364.11" y2="94.22" stroke="#b0b0b0" stroke-width="0.55"/>
<line x1="351.27" y1="88.89" x2="351.91" y2="90.57" stroke="#b0b0b0" stroke-width="0.55"/>
<line x1="362.99" y1="91.00" x2="363.83" y2="92.60" stroke="#b0b0b0" stroke-width="0.55"/>
<line x1="358.09" y1="75.22" x2="356.73" y2="76.41" stroke="#b0b0b0" stroke-width="0.55"/>
<line x1="369.31" y1="86.52" x2="368.62" y2="88.18" stroke="#b0b0b0" stroke-width="0.55"/>
<line x1="351.46" y1="84.97" x2="349.70" y2="85.34" stroke="#b0b0b0" stroke-width="0.55"/>
<line x1="358.06" y1="91.93" x2="359.85" y2="92.12" stroke="#b0b0b0" stroke-width="0.55"/>
<line x1="351.09" y1="84.03" x2="351.24" y2="85.83" stroke="#b0b0b0" stroke-width="0.55"/>
<line x1="368.66" y1="83.43" x2="369.33" y2="85.10" stroke="#b0b0b0" stroke-width="0.55"/>
<line x1="361.82" y1="75.30" x2="360.08" y2="75.79" stroke="#b0b0b0" stroke-width="0.55"/>
<circle cx="362.14" cy="69.30" r="0.5" fill="#a0a0a0"/>
<circle cx="357.54" cy="76.11" r="0.5" fill="#a0a0a0"/>
<circle cx="354.42" cy="68.15" r="0.5" fill="#a0a0a0"/>
<circle cx="363.37" cy="70.81" r="0.5" fill="#a0a0a0"/>
<circle cx="362.35" cy="63.94" r="0.5" fill="#a0a0a0"/>
<circle cx="366.80" cy="65.19" r="0.5" fill="#a0a0a0"/>
<circle cx="359.91" cy="68.11" r="0.5" fill="#a0a0a0"/>
<circle cx="360.06" cy="65.92" r="0.5" fill="#a0a0a0"/>
<circle cx="365.66" cy="68.38" r="0.5" fill="#a0a0a0"/>
<circle cx="363.67" cy="61.65" r="0.5" fill="#a0a0a0"/>
<circle cx="362.25" cy="67.23" r="0.5" fill="#a0a0a0"/>
<circle cx="361.55" cy="68.99" r="0.5" fill="#a0a0a0"/>
<circle cx="361.69" cy="67.73" r="0.5" fill="#a0a0a0"/>
<circle cx="360.38" cy="68.68" r="0.5" fill="#a0a0a0"/>
<circle cx="360.93" cy="68.34" r="0.5" fill="#a0a0a0"/>
<circle cx="358.74" cy="69.91" r="0.5" fill="#a0a0a0"/>
<circle cx="357.05" cy="76.56" r="0.5" fill="#a0a0a0"/>
<circle cx="363.18" cy="74.38" r="0.5" fill="#a0a0a0"/>
<circle cx="359.67" cy="62.83" r="0.5" fill="#a0a0a0"/>
<circle cx="354.66" cy="64.86" r="0.5" fill="#a0a0a0"/>
<circle cx="357.84" cy="66.50" r="0.5" fill="#a0a0a0"/>
<circle cx="358.75" cy="70.63" r="0.5" fill="#a0a0a0"/>
<circle cx="351.61" cy="74.91" r="0.5" fill="#a0a0a0"/>
<circle cx="358.81" cy="68.68" r="0.5" fill="#a0a0a0"/>
<circle cx="353.66" cy="69.07" r="0.5" fill="#a0a0a0"/>
<circle cx="354.87" cy="70.09" r="0.5" fill="#a0a0a0"/>
<circle cx="361.06" cy="68.78" r="0.5" fill="#a0a0a0"/>
<circle cx="359.42" cy="66.93" r="0.5" fill="#a0a0a0"/>
<circle cx="358.89" cy="71.73" r="0.5" fill="#a0a0a0"/>
<circle cx="360.33" cy="69.02" r="0.5" fill="#a0a0a0"/>
<path d="M356,74 L357,64 M359,74 L360,61 M362.5,73 L363.5,63 M365,74 L366,66" stroke="#bbb" stroke-width="0.6" fill="none"/>
<path d="M354,74.6 L363,74.6" stroke="#666" stroke-width="1.2" fill="none"/>
<path d="M365.09,76.54 C366.34,77.17 367.51,78.22 368.43,79.34 C369.35,80.46 370.53,81.93 370.62,83.25 C370.70,84.56 369.38,85.88 368.92,87.20 C368.46,88.52 368.57,90.01 367.84,91.16 C367.11,92.30 365.87,93.49 364.55,94.08 C363.24,94.67 361.31,95.12 359.96,94.70 C358.60,94.28 357.66,92.40 356.42,91.56 C355.19,90.73 353.44,90.67 352.53,89.69 C351.61,88.71 351.11,87.03 350.94,85.69 C350.76,84.34 351.21,83.01 351.47,81.60 C351.73,80.19 351.60,78.20 352.50,77.24 C353.39,76.29 355.43,76.13 356.84,75.85 C358.26,75.57 359.60,75.45 360.98,75.57 C362.35,75.68 363.85,75.91 365.09,76.54 Z" stroke="#a8a8a8" stroke-width="0.7" fill="none"/>
<path d="M364.62,78.23 C365.51,78.75 366.33,79.49 366.97,80.33 C367.61,81.17 368.25,82.21 368.46,83.27 C368.68,84.33 368.57,85.62 368.25,86.69 C367.92,87.75 367.30,88.96 366.50,89.67 C365.70,90.38 364.46,90.51 363.43,90.94 C362.40,91.38 361.33,92.33 360.33,92.28 C359.34,92.23 358.28,91.28 357.45,90.64 C356.63,90.00 355.83,89.29 355.35,88.44 C354.88,87.59 354.76,86.55 354.58,85.56 C354.40,84.56 354.00,83.39 354.27,82.47 C354.55,81.55 355.52,80.75 356.24,80.03 C356.97,79.32 357.72,78.65 358.62,78.17 C359.51,77.70 360.63,77.20 361.63,77.21 C362.63,77.21 363.73,77.71 364.62,78.23 Z" stroke="#959595" stroke-width="0.8" fill="none"/>
<path d="M363.93,80.45 C364.56,80.79 365.24,81.24 365.65,81.83 C366.07,82.43 366.31,83.26 366.41,84.02 C366.51,84.79 366.57,85.74 366.27,86.44 C365.97,87.13 365.16,87.58 364.63,88.20 C364.09,88.81 363.73,89.79 363.08,90.12 C362.44,90.45 361.51,90.23 360.75,90.17 C360.00,90.10 359.21,90.06 358.57,89.73 C357.94,89.39 357.37,88.79 356.94,88.17 C356.52,87.55 356.02,86.75 356.01,86.01 C356.00,85.27 356.56,84.43 356.88,83.72 C357.20,83.01 357.46,82.35 357.92,81.75 C358.37,81.15 358.95,80.43 359.60,80.11 C360.26,79.79 361.13,79.76 361.85,79.81 C362.57,79.87 363.29,80.12 363.93,80.45 Z" stroke="#858585" stroke-width="0.8" fill="none"/>
<path d="M363.03,82.84 C363.46,83.03 364.06,83.10 364.37,83.44 C364.67,83.78 364.81,84.39 364.86,84.88 C364.91,85.38 364.85,85.96 364.68,86.43 C364.51,86.90 364.17,87.35 363.83,87.72 C363.49,88.10 363.06,88.57 362.63,88.66 C362.19,88.75 361.69,88.32 361.22,88.27 C360.76,88.22 360.21,88.53 359.85,88.36 C359.50,88.18 359.34,87.61 359.09,87.23 C358.83,86.86 358.38,86.51 358.30,86.09 C358.23,85.66 358.49,85.12 358.66,84.67 C358.82,84.22 358.99,83.74 359.29,83.39 C359.59,83.04 360.03,82.75 360.46,82.57 C360.88,82.39 361.39,82.25 361.82,82.29 C362.25,82.34 362.61,82.65 363.03,82.84 Z" stroke="#8a8a8a" stroke-width="0.7" fill="none"/>
<path d="M363.17,85.80 C363.15,85.99 362.92,86.16 362.82,86.35 C362.72,86.54 362.70,86.77 362.56,86.93 C362.42,87.08 362.18,87.22 361.96,87.28 C361.74,87.34 361.46,87.34 361.24,87.27 C361.02,87.21 360.83,87.04 360.66,86.90 C360.49,86.76 360.29,86.61 360.21,86.43 C360.12,86.24 360.14,86.01 360.15,85.80 C360.15,85.59 360.14,85.35 360.24,85.19 C360.34,85.02 360.58,84.94 360.75,84.81 C360.92,84.67 361.05,84.44 361.25,84.38 C361.45,84.31 361.74,84.34 361.94,84.40 C362.15,84.47 362.32,84.63 362.49,84.76 C362.65,84.90 362.80,85.04 362.91,85.21 C363.03,85.38 363.18,85.61 363.17,85.80 Z" stroke="#aaa" stroke-width="0.6" fill="none"/>
<circle cx="363.5" cy="46.5" r="0.6" fill="#aaa"/>
</g>
<rect x="314.50" y="21.50" width="75.00" height="73.00" stroke="#2a2a2a" stroke-width="1" fill="none"/>
<line x1="333.50" y1="21.80" x2="333.50" y2="94.50" stroke="#1a1a1a" stroke-width="1"/>
<line x1="314.30" y1="74.50" x2="389.40" y2="74.50" stroke="#555" stroke-width="1"/>
<rect x="333.50" y="29.50" width="44.00" height="45.00" stroke="#222" stroke-width="1" fill="none"/>
<text x="383.00" y="33.40" font-size="10.5" font-weight="bold" textLength="3.00" lengthAdjust="spacingAndGlyphs" fill="#111">i</text>
<text x="316.90" y="117.30" font-size="6.8" font-weight="bold" textLength="12.30" lengthAdjust="spacingAndGlyphs" fill="#2a2a2a">APC</text>
<text x="330.20" y="121.20" font-size="12.2" textLength="51.30" lengthAdjust="spacingAndGlyphs" fill="#2a2a2a">CD3 (a.u.)</text>
<text transform="translate(294.30,91.40) rotate(-90)" x="0" y="0" font-size="7.6" textLength="12.00" lengthAdjust="spacingAndGlyphs" fill="#2a2a2a">FITC</text>
<text transform="translate(298.40,79.20) rotate(-90)" x="0" y="0" font-size="10.5" textLength="20.00" lengthAdjust="spacingAndGlyphs" fill="#2a2a2a">Vδ1</text>
<text transform="translate(299.40,56.40) rotate(-90)" x="0" y="0" font-size="11.2" textLength="29.50" lengthAdjust="spacingAndGlyphs" fill="#2a2a2a">(a.u.)</text>
<line x1="440.00" y1="29.50" x2="443.20" y2="29.50" stroke="#333" stroke-width="0.8"/>
<line x1="441.20" y1="24.11" x2="443.20" y2="24.11" stroke="#333" stroke-width="0.6"/>
<line x1="440.00" y1="47.40" x2="443.20" y2="47.40" stroke="#333" stroke-width="0.8"/>
<line x1="441.20" y1="42.01" x2="443.20" y2="42.01" stroke="#333" stroke-width="0.6"/>
<line x1="441.20" y1="38.86" x2="443.20" y2="38.86" stroke="#333" stroke-width="0.6"/>
<line x1="441.20" y1="36.62" x2="443.20" y2="36.62" stroke="#333" stroke-width="0.6"/>
<line x1="441.20" y1="34.89" x2="443.20" y2="34.89" stroke="#333" stroke-width="0.6"/>
<line x1="441.20" y1="33.47" x2="443.20" y2="33.47" stroke="#333" stroke-width="0.6"/>
<line x1="441.20" y1="32.27" x2="443.20" y2="32.27" stroke="#333" stroke-width="0.6"/>
<line x1="441.20" y1="31.23" x2="443.20" y2="31.23" stroke="#333" stroke-width="0.6"/>
<line x1="441.20" y1="30.32" x2="443.20" y2="30.32" stroke="#333" stroke-width="0.6"/>
<line x1="440.00" y1="65.20" x2="443.20" y2="65.20" stroke="#333" stroke-width="0.8"/>
<line x1="441.20" y1="59.81" x2="443.20" y2="59.81" stroke="#333" stroke-width="0.6"/>
<line x1="441.20" y1="56.66" x2="443.20" y2="56.66" stroke="#333" stroke-width="0.6"/>
<line x1="441.20" y1="54.42" x2="443.20" y2="54.42" stroke="#333" stroke-width="0.6"/>
<line x1="441.20" y1="52.69" x2="443.20" y2="52.69" stroke="#333" stroke-width="0.6"/>
<line x1="441.20" y1="51.27" x2="443.20" y2="51.27" stroke="#333" stroke-width="0.6"/>
<line x1="441.20" y1="50.07" x2="443.20" y2="50.07" stroke="#333" stroke-width="0.6"/>
<line x1="441.20" y1="49.03" x2="443.20" y2="49.03" stroke="#333" stroke-width="0.6"/>
<line x1="441.20" y1="48.12" x2="443.20" y2="48.12" stroke="#333" stroke-width="0.6"/>
<line x1="440.00" y1="83.00" x2="443.20" y2="83.00" stroke="#333" stroke-width="0.8"/>
<line x1="441.20" y1="77.61" x2="443.20" y2="77.61" stroke="#333" stroke-width="0.6"/>
<line x1="441.20" y1="74.46" x2="443.20" y2="74.46" stroke="#333" stroke-width="0.6"/>
<line x1="441.20" y1="72.22" x2="443.20" y2="72.22" stroke="#333" stroke-width="0.6"/>
<line x1="441.20" y1="70.49" x2="443.20" y2="70.49" stroke="#333" stroke-width="0.6"/>
<line x1="441.20" y1="69.07" x2="443.20" y2="69.07" stroke="#333" stroke-width="0.6"/>
<line x1="441.20" y1="67.87" x2="443.20" y2="67.87" stroke="#333" stroke-width="0.6"/>
<line x1="441.20" y1="66.83" x2="443.20" y2="66.83" stroke="#333" stroke-width="0.6"/>
<line x1="441.20" y1="65.92" x2="443.20" y2="65.92" stroke="#333" stroke-width="0.6"/>
<line x1="441.20" y1="90.12" x2="443.20" y2="90.12" stroke="#333" stroke-width="0.6"/>
<line x1="441.20" y1="88.39" x2="443.20" y2="88.39" stroke="#333" stroke-width="0.6"/>
<line x1="441.20" y1="86.97" x2="443.20" y2="86.97" stroke="#333" stroke-width="0.6"/>
<line x1="441.20" y1="85.77" x2="443.20" y2="85.77" stroke="#333" stroke-width="0.6"/>
<line x1="441.20" y1="84.73" x2="443.20" y2="84.73" stroke="#333" stroke-width="0.6"/>
<line x1="441.20" y1="83.82" x2="443.20" y2="83.82" stroke="#333" stroke-width="0.6"/>
<line x1="453.30" y1="92.20" x2="453.30" y2="95.40" stroke="#333" stroke-width="0.8"/>
<line x1="458.69" y1="92.20" x2="458.69" y2="94.20" stroke="#333" stroke-width="0.6"/>
<line x1="461.84" y1="92.20" x2="461.84" y2="94.20" stroke="#333" stroke-width="0.6"/>
<line x1="464.08" y1="92.20" x2="464.08" y2="94.20" stroke="#333" stroke-width="0.6"/>
<line x1="465.81" y1="92.20" x2="465.81" y2="94.20" stroke="#333" stroke-width="0.6"/>
<line x1="467.23" y1="92.20" x2="467.23" y2="94.20" stroke="#333" stroke-width="0.6"/>
<line x1="468.43" y1="92.20" x2="468.43" y2="94.20" stroke="#333" stroke-width="0.6"/>
<line x1="469.47" y1="92.20" x2="469.47" y2="94.20" stroke="#333" stroke-width="0.6"/>
<line x1="470.38" y1="92.20" x2="470.38" y2="94.20" stroke="#333" stroke-width="0.6"/>
<line x1="471.70" y1="92.20" x2="471.70" y2="95.40" stroke="#333" stroke-width="0.8"/>
<line x1="477.09" y1="92.20" x2="477.09" y2="94.20" stroke="#333" stroke-width="0.6"/>
<line x1="480.24" y1="92.20" x2="480.24" y2="94.20" stroke="#333" stroke-width="0.6"/>
<line x1="482.48" y1="92.20" x2="482.48" y2="94.20" stroke="#333" stroke-width="0.6"/>
<line x1="484.21" y1="92.20" x2="484.21" y2="94.20" stroke="#333" stroke-width="0.6"/>
<line x1="485.63" y1="92.20" x2="485.63" y2="94.20" stroke="#333" stroke-width="0.6"/>
<line x1="486.83" y1="92.20" x2="486.83" y2="94.20" stroke="#333" stroke-width="0.6"/>
<line x1="487.87" y1="92.20" x2="487.87" y2="94.20" stroke="#333" stroke-width="0.6"/>
<line x1="488.78" y1="92.20" x2="488.78" y2="94.20" stroke="#333" stroke-width="0.6"/>
<line x1="491.10" y1="92.20" x2="491.10" y2="95.40" stroke="#333" stroke-width="0.8"/>
<line x1="496.49" y1="92.20" x2="496.49" y2="94.20" stroke="#333" stroke-width="0.6"/>
<line x1="499.64" y1="92.20" x2="499.64" y2="94.20" stroke="#333" stroke-width="0.6"/>
<line x1="501.88" y1="92.20" x2="501.88" y2="94.20" stroke="#333" stroke-width="0.6"/>
<line x1="503.61" y1="92.20" x2="503.61" y2="94.20" stroke="#333" stroke-width="0.6"/>
<line x1="505.03" y1="92.20" x2="505.03" y2="94.20" stroke="#333" stroke-width="0.6"/>
<line x1="506.23" y1="92.20" x2="506.23" y2="94.20" stroke="#333" stroke-width="0.6"/>
<line x1="507.27" y1="92.20" x2="507.27" y2="94.20" stroke="#333" stroke-width="0.6"/>
<line x1="508.18" y1="92.20" x2="508.18" y2="94.20" stroke="#333" stroke-width="0.6"/>
<line x1="508.50" y1="92.20" x2="508.50" y2="95.40" stroke="#333" stroke-width="0.8"/>
<line x1="513.89" y1="92.20" x2="513.89" y2="94.20" stroke="#333" stroke-width="0.6"/>
<line x1="443.94" y1="92.20" x2="443.94" y2="94.20" stroke="#333" stroke-width="0.6"/>
<line x1="446.18" y1="92.20" x2="446.18" y2="94.20" stroke="#333" stroke-width="0.6"/>
<line x1="447.91" y1="92.20" x2="447.91" y2="94.20" stroke="#333" stroke-width="0.6"/>
<line x1="449.33" y1="92.20" x2="449.33" y2="94.20" stroke="#333" stroke-width="0.6"/>
<line x1="450.53" y1="92.20" x2="450.53" y2="94.20" stroke="#333" stroke-width="0.6"/>
<line x1="451.57" y1="92.20" x2="451.57" y2="94.20" stroke="#333" stroke-width="0.6"/>
<line x1="452.48" y1="92.20" x2="452.48" y2="94.20" stroke="#333" stroke-width="0.6"/>
<text x="450.90" y="101.40" font-size="5" fill="#3a3a3a">10<tspan font-size="3.8" dy="-2.2">2</tspan></text>
<text x="469.30" y="101.40" font-size="5" fill="#3a3a3a">10<tspan font-size="3.8" dy="-2.2">3</tspan></text>
<text x="488.70" y="101.40" font-size="5" fill="#3a3a3a">10<tspan font-size="3.8" dy="-2.2">4</tspan></text>
<text x="506.10" y="101.40" font-size="5" fill="#3a3a3a">10<tspan font-size="3.8" dy="-2.2">5</tspan></text>
<text transform="translate(439.00,32.80) rotate(-90)" font-size="5" fill="#3a3a3a">10<tspan font-size="3.8" dy="-2.2">5</tspan></text>
<text transform="translate(439.00,50.70) rotate(-90)" font-size="5" fill="#3a3a3a">10<tspan font-size="3.8" dy="-2.2">4</tspan></text>
<text transform="translate(439.00,68.50) rotate(-90)" font-size="5" fill="#3a3a3a">10<tspan font-size="3.8" dy="-2.2">3</tspan></text>
<text transform="translate(439.00,86.30) rotate(-90)" font-size="5" fill="#3a3a3a">10<tspan font-size="3.8" dy="-2.2">2</tspan></text>
<clipPath id="c4"><rect x="443.2" y="22.4" width="74.00000000000006" height="69.80000000000001"/></clipPath><g clip-path="url(#c4)">
<line x1="470.95" y1="84.10" x2="472.33" y2="84.90" stroke="#a0a0a0" stroke-width="0.55"/>
<line x1="477.52" y1="70.01" x2="476.62" y2="71.33" stroke="#a0a0a0" stroke-width="0.55"/>
<line x1="471.34" y1="72.61" x2="470.28" y2="73.81" stroke="#a0a0a0" stroke-width="0.55"/>
<line x1="471.02" y1="70.29" x2="470.25" y2="71.69" stroke="#a0a0a0" stroke-width="0.55"/>
<line x1="475.12" y1="66.65" x2="476.54" y2="67.40" stroke="#a0a0a0" stroke-width="0.55"/>
<line x1="475.51" y1="86.95" x2="476.89" y2="87.75" stroke="#a0a0a0" stroke-width="0.55"/>
<line x1="471.17" y1="66.58" x2="472.74" y2="66.88" stroke="#a0a0a0" stroke-width="0.55"/>
<line x1="475.37" y1="66.60" x2="473.91" y2="67.24" stroke="#a0a0a0" stroke-width="0.55"/>
<line x1="476.26" y1="67.16" x2="475.21" y2="68.38" stroke="#a0a0a0" stroke-width="0.55"/>
<line x1="474.06" y1="65.73" x2="473.25" y2="67.10" stroke="#a0a0a0" stroke-width="0.55"/>
<line x1="477.25" y1="85.80" x2="476.36" y2="87.13" stroke="#a0a0a0" stroke-width="0.55"/>
<line x1="476.57" y1="75.03" x2="477.44" y2="76.37" stroke="#a0a0a0" stroke-width="0.55"/>
<line x1="470.69" y1="68.09" x2="472.04" y2="68.96" stroke="#a0a0a0" stroke-width="0.55"/>
<line x1="476.48" y1="67.76" x2="477.41" y2="69.06" stroke="#a0a0a0" stroke-width="0.55"/>
<line x1="476.01" y1="86.24" x2="476.47" y2="87.77" stroke="#a0a0a0" stroke-width="0.55"/>
<line x1="471.93" y1="66.00" x2="472.45" y2="67.51" stroke="#a0a0a0" stroke-width="0.55"/>
<line x1="476.98" y1="77.66" x2="477.19" y2="79.24" stroke="#a0a0a0" stroke-width="0.55"/>
<line x1="474.09" y1="64.80" x2="472.98" y2="65.95" stroke="#a0a0a0" stroke-width="0.55"/>
<line x1="470.60" y1="72.99" x2="469.85" y2="74.40" stroke="#a0a0a0" stroke-width="0.55"/>
<line x1="471.86" y1="86.46" x2="473.42" y2="86.79" stroke="#a0a0a0" stroke-width="0.55"/>
<line x1="478.50" y1="79.97" x2="477.02" y2="80.58" stroke="#a0a0a0" stroke-width="0.55"/>
<line x1="474.41" y1="65.71" x2="473.64" y2="67.11" stroke="#a0a0a0" stroke-width="0.55"/>
<line x1="477.09" y1="85.93" x2="476.34" y2="87.34" stroke="#a0a0a0" stroke-width="0.55"/>
<line x1="473.79" y1="63.83" x2="474.19" y2="65.38" stroke="#a0a0a0" stroke-width="0.55"/>
<line x1="475.73" y1="65.32" x2="476.89" y2="66.42" stroke="#a0a0a0" stroke-width="0.55"/>
<line x1="470.97" y1="81.25" x2="470.11" y2="82.60" stroke="#a0a0a0" stroke-width="0.55"/>
<line x1="471.88" y1="83.21" x2="470.29" y2="83.38" stroke="#a0a0a0" stroke-width="0.55"/>
<line x1="473.92" y1="87.15" x2="473.04" y2="88.48" stroke="#a0a0a0" stroke-width="0.55"/>
<line x1="472.92" y1="89.56" x2="473.76" y2="90.92" stroke="#a0a0a0" stroke-width="0.55"/>
<line x1="477.75" y1="71.44" x2="476.25" y2="72.01" stroke="#a0a0a0" stroke-width="0.55"/>
<line x1="473.40" y1="63.67" x2="474.65" y2="64.66" stroke="#a0a0a0" stroke-width="0.55"/>
<line x1="474.87" y1="85.42" x2="476.22" y2="86.28" stroke="#a0a0a0" stroke-width="0.55"/>
<line x1="471.89" y1="67.43" x2="473.06" y2="68.51" stroke="#a0a0a0" stroke-width="0.55"/>
<line x1="470.73" y1="71.91" x2="471.55" y2="73.29" stroke="#a0a0a0" stroke-width="0.55"/>
<line x1="473.75" y1="89.23" x2="475.24" y2="89.81" stroke="#a0a0a0" stroke-width="0.55"/>
<line x1="478.10" y1="76.18" x2="477.11" y2="77.44" stroke="#a0a0a0" stroke-width="0.55"/>
<line x1="471.49" y1="73.04" x2="469.89" y2="73.19" stroke="#a0a0a0" stroke-width="0.55"/>
<line x1="476.22" y1="68.78" x2="477.81" y2="68.93" stroke="#a0a0a0" stroke-width="0.55"/>
<line x1="470.98" y1="69.03" x2="470.31" y2="70.48" stroke="#a0a0a0" stroke-width="0.55"/>
<line x1="469.68" y1="75.56" x2="471.03" y2="76.40" stroke="#a0a0a0" stroke-width="0.55"/>
<circle cx="473.71" cy="69.14" r="0.5" fill="#aaa"/>
<circle cx="473.78" cy="73.51" r="0.5" fill="#aaa"/>
<circle cx="473.74" cy="62.51" r="0.5" fill="#aaa"/>
<circle cx="474.66" cy="68.66" r="0.5" fill="#aaa"/>
<circle cx="473.57" cy="70.58" r="0.5" fill="#aaa"/>
<circle cx="474.46" cy="75.82" r="0.5" fill="#aaa"/>
<circle cx="475.31" cy="70.55" r="0.5" fill="#aaa"/>
<circle cx="472.52" cy="64.93" r="0.5" fill="#aaa"/>
<circle cx="474.49" cy="76.56" r="0.5" fill="#aaa"/>
<circle cx="474.08" cy="69.47" r="0.5" fill="#aaa"/>
<circle cx="475.06" cy="62.73" r="0.5" fill="#aaa"/>
<circle cx="473.38" cy="72.45" r="0.5" fill="#aaa"/>
<circle cx="475.75" cy="68.80" r="0.5" fill="#aaa"/>
<circle cx="474.75" cy="71.24" r="0.5" fill="#aaa"/>
<circle cx="475.56" cy="64.43" r="0.5" fill="#aaa"/>
<circle cx="475.14" cy="62.43" r="0.5" fill="#aaa"/>
<circle cx="468.76" cy="66.97" r="0.5" fill="#aaa"/>
<circle cx="472.17" cy="74.38" r="0.5" fill="#aaa"/>
<circle cx="475.33" cy="63.90" r="0.5" fill="#aaa"/>
<circle cx="475.69" cy="64.99" r="0.5" fill="#aaa"/>
<path d="M469,85 L469,75" stroke="#bbb" stroke-width="0.8" fill="none"/>
<path d="M466.5,92.5 C468,87 473,86.5 474,89 C475,86.5 480,87 481,92.5" stroke="#333" stroke-width="1.0" fill="none"/>
<path d="M469,92 C470,89 472.5,89 473.5,91 M474.5,91 C475.5,89 478,89 479,92" stroke="#666" stroke-width="0.7" fill="none"/>
<path d="M475,86 C477,80 474,74 476,68 M472.5,81 C471,76 474.5,71 473,64" stroke="#999" stroke-width="0.7" fill="none"/>
</g>
<rect x="443.50" y="22.50" width="74.00" height="70.00" stroke="#2a2a2a" stroke-width="1" fill="none"/>
<line x1="462.50" y1="22.40" x2="462.50" y2="92.20" stroke="#555" stroke-width="1"/>
<line x1="443.20" y1="73.50" x2="517.20" y2="73.50" stroke="#222" stroke-width="1"/>
<rect x="462.50" y="48.50" width="25.00" height="25.00" stroke="#222" stroke-width="1" fill="none"/>
<text x="509.00" y="33.40" font-size="10.5" font-weight="bold" textLength="6.80" lengthAdjust="spacingAndGlyphs" fill="#111">ii</text>
<text x="490.30" y="61.50" font-size="13" textLength="27.90" lengthAdjust="spacingAndGlyphs" fill="#2a2a2a">0.7%</text>
<text x="451.00" y="112.00" font-size="6.5" font-weight="bold" textLength="13.40" lengthAdjust="spacingAndGlyphs" fill="#2a2a2a">FITC</text>
<text x="464.80" y="117.20" font-size="11.2" textLength="47.50" lengthAdjust="spacingAndGlyphs" fill="#2a2a2a">Vδ1 (a.u.)</text>
<text transform="translate(426.60,90.80) rotate(-90)" x="0" y="0" font-size="8.5" textLength="7.80" lengthAdjust="spacingAndGlyphs" fill="#2a2a2a">PE</text>
<text transform="translate(430.80,81.80) rotate(-90)" x="0" y="0" font-size="11" textLength="55.80" lengthAdjust="spacingAndGlyphs" fill="#2a2a2a">IFN-γ (a.u.)</text>
<line x1="32.60" y1="146.50" x2="35.80" y2="146.50" stroke="#333" stroke-width="0.8"/>
<line x1="33.80" y1="140.78" x2="35.80" y2="140.78" stroke="#333" stroke-width="0.6"/>
<line x1="32.60" y1="166.00" x2="35.80" y2="166.00" stroke="#333" stroke-width="0.8"/>
<line x1="33.80" y1="160.28" x2="35.80" y2="160.28" stroke="#333" stroke-width="0.6"/>
<line x1="33.80" y1="156.93" x2="35.80" y2="156.93" stroke="#333" stroke-width="0.6"/>
<line x1="33.80" y1="154.56" x2="35.80" y2="154.56" stroke="#333" stroke-width="0.6"/>
<line x1="33.80" y1="152.72" x2="35.80" y2="152.72" stroke="#333" stroke-width="0.6"/>
<line x1="33.80" y1="151.22" x2="35.80" y2="151.22" stroke="#333" stroke-width="0.6"/>
<line x1="33.80" y1="149.94" x2="35.80" y2="149.94" stroke="#333" stroke-width="0.6"/>
<line x1="33.80" y1="148.84" x2="35.80" y2="148.84" stroke="#333" stroke-width="0.6"/>
<line x1="33.80" y1="147.87" x2="35.80" y2="147.87" stroke="#333" stroke-width="0.6"/>
<line x1="32.60" y1="185.00" x2="35.80" y2="185.00" stroke="#333" stroke-width="0.8"/>
<line x1="33.80" y1="179.28" x2="35.80" y2="179.28" stroke="#333" stroke-width="0.6"/>
<line x1="33.80" y1="175.93" x2="35.80" y2="175.93" stroke="#333" stroke-width="0.6"/>
<line x1="33.80" y1="173.56" x2="35.80" y2="173.56" stroke="#333" stroke-width="0.6"/>
<line x1="33.80" y1="171.72" x2="35.80" y2="171.72" stroke="#333" stroke-width="0.6"/>
<line x1="33.80" y1="170.22" x2="35.80" y2="170.22" stroke="#333" stroke-width="0.6"/>
<line x1="33.80" y1="168.94" x2="35.80" y2="168.94" stroke="#333" stroke-width="0.6"/>
<line x1="33.80" y1="167.84" x2="35.80" y2="167.84" stroke="#333" stroke-width="0.6"/>
<line x1="33.80" y1="166.87" x2="35.80" y2="166.87" stroke="#333" stroke-width="0.6"/>
<line x1="32.60" y1="203.80" x2="35.80" y2="203.80" stroke="#333" stroke-width="0.8"/>
<line x1="33.80" y1="198.08" x2="35.80" y2="198.08" stroke="#333" stroke-width="0.6"/>
<line x1="33.80" y1="194.73" x2="35.80" y2="194.73" stroke="#333" stroke-width="0.6"/>
<line x1="33.80" y1="192.36" x2="35.80" y2="192.36" stroke="#333" stroke-width="0.6"/>
<line x1="33.80" y1="190.52" x2="35.80" y2="190.52" stroke="#333" stroke-width="0.6"/>
<line x1="33.80" y1="189.02" x2="35.80" y2="189.02" stroke="#333" stroke-width="0.6"/>
<line x1="33.80" y1="187.74" x2="35.80" y2="187.74" stroke="#333" stroke-width="0.6"/>
<line x1="33.80" y1="186.64" x2="35.80" y2="186.64" stroke="#333" stroke-width="0.6"/>
<line x1="33.80" y1="185.67" x2="35.80" y2="185.67" stroke="#333" stroke-width="0.6"/>
<line x1="33.80" y1="211.36" x2="35.80" y2="211.36" stroke="#333" stroke-width="0.6"/>
<line x1="33.80" y1="209.52" x2="35.80" y2="209.52" stroke="#333" stroke-width="0.6"/>
<line x1="33.80" y1="208.02" x2="35.80" y2="208.02" stroke="#333" stroke-width="0.6"/>
<line x1="33.80" y1="206.74" x2="35.80" y2="206.74" stroke="#333" stroke-width="0.6"/>
<line x1="33.80" y1="205.64" x2="35.80" y2="205.64" stroke="#333" stroke-width="0.6"/>
<line x1="33.80" y1="204.67" x2="35.80" y2="204.67" stroke="#333" stroke-width="0.6"/>
<line x1="46.80" y1="213.40" x2="46.80" y2="216.60" stroke="#333" stroke-width="0.8"/>
<line x1="52.52" y1="213.40" x2="52.52" y2="215.40" stroke="#333" stroke-width="0.6"/>
<line x1="55.87" y1="213.40" x2="55.87" y2="215.40" stroke="#333" stroke-width="0.6"/>
<line x1="58.24" y1="213.40" x2="58.24" y2="215.40" stroke="#333" stroke-width="0.6"/>
<line x1="60.08" y1="213.40" x2="60.08" y2="215.40" stroke="#333" stroke-width="0.6"/>
<line x1="61.58" y1="213.40" x2="61.58" y2="215.40" stroke="#333" stroke-width="0.6"/>
<line x1="62.86" y1="213.40" x2="62.86" y2="215.40" stroke="#333" stroke-width="0.6"/>
<line x1="63.96" y1="213.40" x2="63.96" y2="215.40" stroke="#333" stroke-width="0.6"/>
<line x1="64.93" y1="213.40" x2="64.93" y2="215.40" stroke="#333" stroke-width="0.6"/>
<line x1="65.50" y1="213.40" x2="65.50" y2="216.60" stroke="#333" stroke-width="0.8"/>
<line x1="71.22" y1="213.40" x2="71.22" y2="215.40" stroke="#333" stroke-width="0.6"/>
<line x1="74.57" y1="213.40" x2="74.57" y2="215.40" stroke="#333" stroke-width="0.6"/>
<line x1="76.94" y1="213.40" x2="76.94" y2="215.40" stroke="#333" stroke-width="0.6"/>
<line x1="78.78" y1="213.40" x2="78.78" y2="215.40" stroke="#333" stroke-width="0.6"/>
<line x1="80.28" y1="213.40" x2="80.28" y2="215.40" stroke="#333" stroke-width="0.6"/>
<line x1="81.56" y1="213.40" x2="81.56" y2="215.40" stroke="#333" stroke-width="0.6"/>
<line x1="82.66" y1="213.40" x2="82.66" y2="215.40" stroke="#333" stroke-width="0.6"/>
<line x1="83.63" y1="213.40" x2="83.63" y2="215.40" stroke="#333" stroke-width="0.6"/>
<line x1="84.20" y1="213.40" x2="84.20" y2="216.60" stroke="#333" stroke-width="0.8"/>
<line x1="89.92" y1="213.40" x2="89.92" y2="215.40" stroke="#333" stroke-width="0.6"/>
<line x1="93.27" y1="213.40" x2="93.27" y2="215.40" stroke="#333" stroke-width="0.6"/>
<line x1="95.64" y1="213.40" x2="95.64" y2="215.40" stroke="#333" stroke-width="0.6"/>
<line x1="97.48" y1="213.40" x2="97.48" y2="215.40" stroke="#333" stroke-width="0.6"/>
<line x1="98.98" y1="213.40" x2="98.98" y2="215.40" stroke="#333" stroke-width="0.6"/>
<line x1="100.26" y1="213.40" x2="100.26" y2="215.40" stroke="#333" stroke-width="0.6"/>
<line x1="101.36" y1="213.40" x2="101.36" y2="215.40" stroke="#333" stroke-width="0.6"/>
<line x1="102.33" y1="213.40" x2="102.33" y2="215.40" stroke="#333" stroke-width="0.6"/>
<line x1="102.60" y1="213.40" x2="102.60" y2="216.60" stroke="#333" stroke-width="0.8"/>
<line x1="108.32" y1="213.40" x2="108.32" y2="215.40" stroke="#333" stroke-width="0.6"/>
<line x1="36.87" y1="213.40" x2="36.87" y2="215.40" stroke="#333" stroke-width="0.6"/>
<line x1="39.24" y1="213.40" x2="39.24" y2="215.40" stroke="#333" stroke-width="0.6"/>
<line x1="41.08" y1="213.40" x2="41.08" y2="215.40" stroke="#333" stroke-width="0.6"/>
<line x1="42.58" y1="213.40" x2="42.58" y2="215.40" stroke="#333" stroke-width="0.6"/>
<line x1="43.86" y1="213.40" x2="43.86" y2="215.40" stroke="#333" stroke-width="0.6"/>
<line x1="44.96" y1="213.40" x2="44.96" y2="215.40" stroke="#333" stroke-width="0.6"/>
<line x1="45.93" y1="213.40" x2="45.93" y2="215.40" stroke="#333" stroke-width="0.6"/>
<text x="44.40" y="222.30" font-size="5" fill="#3a3a3a">10<tspan font-size="3.8" dy="-2.2">2</tspan></text>
<text x="63.10" y="222.30" font-size="5" fill="#3a3a3a">10<tspan font-size="3.8" dy="-2.2">3</tspan></text>
<text x="81.80" y="222.30" font-size="5" fill="#3a3a3a">10<tspan font-size="3.8" dy="-2.2">4</tspan></text>
<text x="100.20" y="222.30" font-size="5" fill="#3a3a3a">10<tspan font-size="3.8" dy="-2.2">5</tspan></text>
<text transform="translate(31.20,149.80) rotate(-90)" font-size="5" fill="#3a3a3a">10<tspan font-size="3.8" dy="-2.2">5</tspan></text>
<text transform="translate(31.20,169.30) rotate(-90)" font-size="5" fill="#3a3a3a">10<tspan font-size="3.8" dy="-2.2">4</tspan></text>
<text transform="translate(31.20,188.30) rotate(-90)" font-size="5" fill="#3a3a3a">10<tspan font-size="3.8" dy="-2.2">3</tspan></text>
<text transform="translate(31.20,207.10) rotate(-90)" font-size="5" fill="#3a3a3a">10<tspan font-size="3.8" dy="-2.2">2</tspan></text>
<clipPath id="c5"><rect x="35.8" y="138.2" width="76.2" height="75.20000000000002"/></clipPath><g clip-path="url(#c5)">
<line x1="82.10" y1="213.06" x2="83.67" y2="213.94" stroke="#a8a8a8" stroke-width="0.55"/>
<line x1="86.43" y1="194.32" x2="86.13" y2="196.10" stroke="#a8a8a8" stroke-width="0.55"/>
<line x1="91.63" y1="199.08" x2="89.84" y2="199.26" stroke="#a8a8a8" stroke-width="0.55"/>
<line x1="81.74" y1="192.60" x2="81.03" y2="194.25" stroke="#a8a8a8" stroke-width="0.55"/>
<line x1="75.60" y1="198.56" x2="73.80" y2="198.58" stroke="#a8a8a8" stroke-width="0.55"/>
<line x1="74.35" y1="209.60" x2="72.74" y2="210.40" stroke="#a8a8a8" stroke-width="0.55"/>
<line x1="91.11" y1="204.25" x2="91.23" y2="206.04" stroke="#a8a8a8" stroke-width="0.55"/>
<line x1="86.21" y1="194.36" x2="85.57" y2="196.04" stroke="#a8a8a8" stroke-width="0.55"/>
<line x1="76.45" y1="211.34" x2="74.70" y2="211.75" stroke="#a8a8a8" stroke-width="0.55"/>
<line x1="83.81" y1="193.83" x2="82.50" y2="195.06" stroke="#a8a8a8" stroke-width="0.55"/>
<line x1="72.73" y1="206.78" x2="72.90" y2="208.57" stroke="#a8a8a8" stroke-width="0.55"/>
<line x1="92.33" y1="196.69" x2="90.80" y2="197.63" stroke="#a8a8a8" stroke-width="0.55"/>
<line x1="87.55" y1="192.91" x2="87.03" y2="194.63" stroke="#a8a8a8" stroke-width="0.55"/>
<line x1="87.35" y1="212.81" x2="87.55" y2="214.60" stroke="#a8a8a8" stroke-width="0.55"/>
<line x1="91.53" y1="203.63" x2="92.00" y2="205.36" stroke="#a8a8a8" stroke-width="0.55"/>
<line x1="84.94" y1="214.03" x2="86.63" y2="214.65" stroke="#a8a8a8" stroke-width="0.55"/>
<line x1="89.68" y1="197.27" x2="91.21" y2="198.23" stroke="#a8a8a8" stroke-width="0.55"/>
<line x1="75.77" y1="210.83" x2="77.45" y2="211.48" stroke="#a8a8a8" stroke-width="0.55"/>
<line x1="84.21" y1="193.03" x2="82.41" y2="193.13" stroke="#a8a8a8" stroke-width="0.55"/>
<line x1="88.36" y1="193.97" x2="86.56" y2="193.99" stroke="#a8a8a8" stroke-width="0.55"/>
<line x1="91.63" y1="198.28" x2="91.41" y2="200.06" stroke="#a8a8a8" stroke-width="0.55"/>
<line x1="73.10" y1="201.67" x2="71.35" y2="202.08" stroke="#a8a8a8" stroke-width="0.55"/>
<line x1="86.67" y1="193.78" x2="88.47" y2="193.94" stroke="#a8a8a8" stroke-width="0.55"/>
<line x1="75.43" y1="206.82" x2="74.95" y2="208.56" stroke="#a8a8a8" stroke-width="0.55"/>
<line x1="74.84" y1="198.20" x2="73.21" y2="198.98" stroke="#a8a8a8" stroke-width="0.55"/>
<line x1="84.34" y1="213.19" x2="83.85" y2="214.92" stroke="#a8a8a8" stroke-width="0.55"/>
<line x1="84.11" y1="214.48" x2="85.88" y2="214.78" stroke="#a8a8a8" stroke-width="0.55"/>
<line x1="73.40" y1="204.85" x2="72.87" y2="206.57" stroke="#a8a8a8" stroke-width="0.55"/>
<line x1="92.93" y1="202.04" x2="91.24" y2="202.67" stroke="#a8a8a8" stroke-width="0.55"/>
<line x1="79.09" y1="212.66" x2="80.70" y2="213.46" stroke="#a8a8a8" stroke-width="0.55"/>
<line x1="77.27" y1="195.42" x2="75.87" y2="196.55" stroke="#a8a8a8" stroke-width="0.55"/>
<line x1="90.54" y1="209.81" x2="88.76" y2="210.04" stroke="#a8a8a8" stroke-width="0.55"/>
<line x1="92.91" y1="203.48" x2="91.96" y2="205.00" stroke="#a8a8a8" stroke-width="0.55"/>
<line x1="81.04" y1="192.54" x2="81.04" y2="194.34" stroke="#a8a8a8" stroke-width="0.55"/>
<line x1="91.63" y1="200.42" x2="90.56" y2="201.87" stroke="#a8a8a8" stroke-width="0.55"/>
<line x1="77.46" y1="193.29" x2="77.59" y2="195.08" stroke="#a8a8a8" stroke-width="0.55"/>
<line x1="92.15" y1="203.95" x2="93.30" y2="205.33" stroke="#a8a8a8" stroke-width="0.55"/>
<line x1="85.38" y1="191.69" x2="84.01" y2="192.86" stroke="#a8a8a8" stroke-width="0.55"/>
<line x1="73.56" y1="209.00" x2="74.20" y2="210.69" stroke="#a8a8a8" stroke-width="0.55"/>
<line x1="78.79" y1="211.94" x2="77.95" y2="213.54" stroke="#a8a8a8" stroke-width="0.55"/>
<line x1="78.46" y1="193.29" x2="78.97" y2="195.02" stroke="#a8a8a8" stroke-width="0.55"/>
<line x1="82.38" y1="193.19" x2="81.79" y2="194.89" stroke="#a8a8a8" stroke-width="0.55"/>
<line x1="91.77" y1="203.44" x2="90.12" y2="204.17" stroke="#a8a8a8" stroke-width="0.55"/>
<line x1="83.60" y1="212.86" x2="85.38" y2="213.16" stroke="#a8a8a8" stroke-width="0.55"/>
<line x1="82.46" y1="193.92" x2="84.24" y2="194.19" stroke="#a8a8a8" stroke-width="0.55"/>
<line x1="81.54" y1="214.04" x2="80.25" y2="215.29" stroke="#a8a8a8" stroke-width="0.55"/>
<line x1="92.41" y1="203.52" x2="94.17" y2="203.92" stroke="#a8a8a8" stroke-width="0.55"/>
<line x1="73.65" y1="203.94" x2="72.25" y2="205.07" stroke="#a8a8a8" stroke-width="0.55"/>
<line x1="88.49" y1="211.34" x2="89.66" y2="212.70" stroke="#a8a8a8" stroke-width="0.55"/>
<line x1="81.96" y1="191.39" x2="81.45" y2="193.11" stroke="#a8a8a8" stroke-width="0.55"/>
<line x1="92.29" y1="202.74" x2="92.66" y2="204.50" stroke="#a8a8a8" stroke-width="0.55"/>
<line x1="80.39" y1="192.43" x2="82.09" y2="193.03" stroke="#a8a8a8" stroke-width="0.55"/>
<line x1="74.35" y1="198.98" x2="72.60" y2="199.39" stroke="#a8a8a8" stroke-width="0.55"/>
<line x1="75.75" y1="196.12" x2="74.41" y2="197.32" stroke="#a8a8a8" stroke-width="0.55"/>
<line x1="88.37" y1="211.98" x2="87.92" y2="213.72" stroke="#a8a8a8" stroke-width="0.55"/>
<line x1="76.98" y1="195.84" x2="76.85" y2="197.63" stroke="#a8a8a8" stroke-width="0.55"/>
<line x1="76.09" y1="208.25" x2="74.32" y2="208.58" stroke="#a8a8a8" stroke-width="0.55"/>
<line x1="86.96" y1="195.16" x2="88.71" y2="195.58" stroke="#a8a8a8" stroke-width="0.55"/>
<line x1="90.89" y1="201.70" x2="90.85" y2="203.50" stroke="#a8a8a8" stroke-width="0.55"/>
<line x1="73.28" y1="198.30" x2="72.43" y2="199.88" stroke="#a8a8a8" stroke-width="0.55"/>
<path d="M91.98,204.50 C91.98,205.79 89.99,207.00 89.34,208.37 C88.69,209.75 88.91,211.77 88.09,212.74 C87.26,213.71 85.66,213.79 84.38,214.21 C83.10,214.64 81.59,215.63 80.41,215.28 C79.23,214.94 78.37,213.14 77.32,212.14 C76.26,211.14 74.51,210.55 74.07,209.28 C73.63,208.00 74.72,206.10 74.70,204.50 C74.67,202.90 73.50,200.92 73.93,199.65 C74.37,198.37 76.17,197.54 77.31,196.84 C78.45,196.15 79.58,195.78 80.75,195.49 C81.92,195.20 83.12,194.95 84.32,195.11 C85.52,195.27 87.14,195.51 87.97,196.44 C88.80,197.36 88.63,199.30 89.30,200.65 C89.97,201.99 91.97,203.21 91.98,204.50 Z" stroke="#999" stroke-width="0.7" fill="none"/>
<path d="M89.12,205.00 C89.22,206.10 89.15,207.49 88.72,208.46 C88.29,209.43 87.31,210.14 86.52,210.82 C85.74,211.51 84.92,212.23 84.00,212.56 C83.07,212.89 81.88,213.10 80.95,212.82 C80.03,212.54 79.19,211.62 78.43,210.88 C77.68,210.14 76.87,209.36 76.42,208.38 C75.98,207.40 75.78,206.14 75.76,205.00 C75.74,203.86 75.81,202.46 76.31,201.56 C76.81,200.65 77.94,200.15 78.75,199.57 C79.55,198.99 80.24,198.49 81.13,198.07 C82.02,197.66 83.13,196.97 84.06,197.11 C84.99,197.24 86.03,198.11 86.71,198.90 C87.39,199.70 87.73,200.85 88.13,201.87 C88.53,202.89 89.02,203.90 89.12,205.00 Z" stroke="#888" stroke-width="0.8" fill="none"/>
<path d="M87.45,205.30 C87.31,206.03 86.55,206.62 86.20,207.28 C85.85,207.94 85.79,208.78 85.34,209.26 C84.89,209.74 84.16,209.91 83.50,210.15 C82.84,210.40 82.01,210.89 81.39,210.71 C80.77,210.54 80.26,209.64 79.77,209.10 C79.29,208.55 78.81,208.07 78.50,207.44 C78.19,206.81 77.91,206.01 77.92,205.30 C77.93,204.59 78.31,203.91 78.56,203.19 C78.81,202.48 78.94,201.54 79.42,201.00 C79.89,200.47 80.72,200.12 81.41,199.98 C82.10,199.84 82.96,199.86 83.56,200.16 C84.15,200.47 84.43,201.36 85.01,201.81 C85.59,202.26 86.62,202.29 87.03,202.88 C87.44,203.46 87.58,204.57 87.45,205.30 Z" stroke="#777" stroke-width="0.8" fill="none"/>
<path d="M84.75,205.50 C84.80,205.89 85.13,206.44 85.00,206.75 C84.86,207.06 84.25,207.12 83.93,207.36 C83.61,207.60 83.43,208.03 83.09,208.18 C82.75,208.33 82.27,208.33 81.90,208.24 C81.52,208.15 81.11,207.93 80.85,207.65 C80.59,207.38 80.48,206.93 80.35,206.57 C80.23,206.22 80.13,205.88 80.09,205.50 C80.05,205.12 80.01,204.69 80.13,204.31 C80.24,203.94 80.47,203.48 80.77,203.24 C81.07,203.00 81.54,202.92 81.92,202.87 C82.30,202.82 82.71,202.83 83.06,202.94 C83.41,203.05 83.74,203.28 84.02,203.52 C84.29,203.76 84.58,204.07 84.70,204.40 C84.82,204.73 84.71,205.11 84.75,205.50 Z" stroke="#999" stroke-width="0.7" fill="none"/>
<circle cx="87.76" cy="170.32" r="0.5" fill="#999"/>
<circle cx="80.40" cy="171.50" r="0.5" fill="#999"/>
<circle cx="84.99" cy="163.57" r="0.5" fill="#999"/>
<circle cx="82.09" cy="171.87" r="0.5" fill="#999"/>
<circle cx="83.21" cy="171.66" r="0.5" fill="#999"/>
<circle cx="78.16" cy="164.87" r="0.5" fill="#999"/>
<circle cx="85.34" cy="175.07" r="0.5" fill="#999"/>
<circle cx="85.68" cy="176.59" r="0.5" fill="#999"/>
<circle cx="81.23" cy="170.14" r="0.5" fill="#999"/>
<circle cx="85.71" cy="171.28" r="0.5" fill="#999"/>
<circle cx="85.57" cy="170.07" r="0.5" fill="#999"/>
<circle cx="81.12" cy="168.89" r="0.5" fill="#999"/>
<path d="M89.40,168.20 C88.85,168.79 88.27,169.72 87.74,170.07 C87.21,170.42 86.76,170.16 86.22,170.32 C85.68,170.48 84.99,170.96 84.49,171.04 C83.98,171.12 83.23,171.18 83.17,170.80 C83.12,170.42 83.95,169.37 84.15,168.75 C84.35,168.13 84.00,167.70 84.36,167.09 C84.72,166.48 85.65,165.75 86.31,165.11 C86.96,164.47 87.70,163.55 88.28,163.25 C88.86,162.95 89.20,163.44 89.78,163.28 C90.36,163.12 91.34,162.28 91.75,162.28 C92.16,162.28 92.16,162.89 92.24,163.28 C92.33,163.68 92.43,164.11 92.24,164.65 C92.04,165.20 91.54,165.96 91.07,166.56 C90.59,167.15 89.96,167.62 89.40,168.20 Z" stroke="none" stroke-width="0" fill="#555"/>
<path d="M89.89,166.89 C89.56,167.22 89.08,167.40 88.66,167.68 C88.25,167.96 87.82,168.36 87.41,168.56 C87.01,168.77 86.41,169.02 86.25,168.88 C86.09,168.74 86.47,168.03 86.46,167.74 C86.45,167.44 86.13,167.41 86.19,167.11 C86.25,166.81 86.56,166.33 86.83,165.94 C87.10,165.56 87.45,165.21 87.81,164.81 C88.16,164.40 88.55,163.85 88.97,163.51 C89.38,163.17 89.93,162.89 90.31,162.78 C90.70,162.67 91.06,162.70 91.25,162.83 C91.44,162.97 91.37,163.36 91.45,163.61 C91.53,163.86 91.89,163.98 91.75,164.32 C91.61,164.67 90.93,165.24 90.62,165.67 C90.31,166.10 90.21,166.55 89.89,166.89 Z" stroke="none" stroke-width="0" fill="#1a1a1a"/>
<circle cx="80" cy="175" r="0.6" fill="#777"/><circle cx="82" cy="175.5" r="0.6" fill="#888"/>
</g>
<rect x="35.50" y="138.50" width="77.00" height="75.00" stroke="#2a2a2a" stroke-width="1" fill="none"/>
<line x1="55.50" y1="138.20" x2="55.50" y2="213.40" stroke="#888" stroke-width="1"/>
<line x1="35.80" y1="190.50" x2="112.00" y2="190.50" stroke="#333" stroke-width="1"/>
<rect x="72.50" y="155.50" width="27.00" height="27.00" stroke="#222" stroke-width="1" fill="none"/>
<text x="99.30" y="150.40" font-size="10.5" font-weight="bold" textLength="9.70" lengthAdjust="spacingAndGlyphs" fill="#111">iii</text>
<text x="43.10" y="235.10" font-size="6.8" font-weight="bold" textLength="13.80" lengthAdjust="spacingAndGlyphs" fill="#2a2a2a">APC</text>
<text x="57.80" y="238.60" font-size="11.4" textLength="49.90" lengthAdjust="spacingAndGlyphs" fill="#2a2a2a">CD3 (a.u.)</text>
<text transform="translate(19.20,212.90) rotate(-90)" x="0" y="0" font-size="8.7" font-weight="bold" textLength="18.30" lengthAdjust="spacingAndGlyphs" fill="#2a2a2a">FITC</text>
<text transform="translate(23.50,194.20) rotate(-90)" x="0" y="0" font-size="14" textLength="52.70" lengthAdjust="spacingAndGlyphs" fill="#2a2a2a">Vδ2 (a.u.)</text>
<line x1="171.10" y1="143.20" x2="174.30" y2="143.20" stroke="#333" stroke-width="0.8"/>
<line x1="172.30" y1="137.60" x2="174.30" y2="137.60" stroke="#333" stroke-width="0.6"/>
<line x1="171.10" y1="161.00" x2="174.30" y2="161.00" stroke="#333" stroke-width="0.8"/>
<line x1="172.30" y1="155.40" x2="174.30" y2="155.40" stroke="#333" stroke-width="0.6"/>
<line x1="172.30" y1="152.13" x2="174.30" y2="152.13" stroke="#333" stroke-width="0.6"/>
<line x1="172.30" y1="149.80" x2="174.30" y2="149.80" stroke="#333" stroke-width="0.6"/>
<line x1="172.30" y1="148.00" x2="174.30" y2="148.00" stroke="#333" stroke-width="0.6"/>
<line x1="172.30" y1="146.53" x2="174.30" y2="146.53" stroke="#333" stroke-width="0.6"/>
<line x1="172.30" y1="145.28" x2="174.30" y2="145.28" stroke="#333" stroke-width="0.6"/>
<line x1="172.30" y1="144.20" x2="174.30" y2="144.20" stroke="#333" stroke-width="0.6"/>
<line x1="172.30" y1="143.25" x2="174.30" y2="143.25" stroke="#333" stroke-width="0.6"/>
<line x1="171.10" y1="179.00" x2="174.30" y2="179.00" stroke="#333" stroke-width="0.8"/>
<line x1="172.30" y1="173.40" x2="174.30" y2="173.40" stroke="#333" stroke-width="0.6"/>
<line x1="172.30" y1="170.13" x2="174.30" y2="170.13" stroke="#333" stroke-width="0.6"/>
<line x1="172.30" y1="167.80" x2="174.30" y2="167.80" stroke="#333" stroke-width="0.6"/>
<line x1="172.30" y1="166.00" x2="174.30" y2="166.00" stroke="#333" stroke-width="0.6"/>
<line x1="172.30" y1="164.53" x2="174.30" y2="164.53" stroke="#333" stroke-width="0.6"/>
<line x1="172.30" y1="163.28" x2="174.30" y2="163.28" stroke="#333" stroke-width="0.6"/>
<line x1="172.30" y1="162.20" x2="174.30" y2="162.20" stroke="#333" stroke-width="0.6"/>
<line x1="172.30" y1="161.25" x2="174.30" y2="161.25" stroke="#333" stroke-width="0.6"/>
<line x1="171.10" y1="196.90" x2="174.30" y2="196.90" stroke="#333" stroke-width="0.8"/>
<line x1="172.30" y1="191.30" x2="174.30" y2="191.30" stroke="#333" stroke-width="0.6"/>
<line x1="172.30" y1="188.03" x2="174.30" y2="188.03" stroke="#333" stroke-width="0.6"/>
<line x1="172.30" y1="185.70" x2="174.30" y2="185.70" stroke="#333" stroke-width="0.6"/>
<line x1="172.30" y1="183.90" x2="174.30" y2="183.90" stroke="#333" stroke-width="0.6"/>
<line x1="172.30" y1="182.43" x2="174.30" y2="182.43" stroke="#333" stroke-width="0.6"/>
<line x1="172.30" y1="181.18" x2="174.30" y2="181.18" stroke="#333" stroke-width="0.6"/>
<line x1="172.30" y1="180.10" x2="174.30" y2="180.10" stroke="#333" stroke-width="0.6"/>
<line x1="172.30" y1="179.15" x2="174.30" y2="179.15" stroke="#333" stroke-width="0.6"/>
<line x1="172.30" y1="206.63" x2="174.30" y2="206.63" stroke="#333" stroke-width="0.6"/>
<line x1="172.30" y1="204.30" x2="174.30" y2="204.30" stroke="#333" stroke-width="0.6"/>
<line x1="172.30" y1="202.50" x2="174.30" y2="202.50" stroke="#333" stroke-width="0.6"/>
<line x1="172.30" y1="201.03" x2="174.30" y2="201.03" stroke="#333" stroke-width="0.6"/>
<line x1="172.30" y1="199.78" x2="174.30" y2="199.78" stroke="#333" stroke-width="0.6"/>
<line x1="172.30" y1="198.70" x2="174.30" y2="198.70" stroke="#333" stroke-width="0.6"/>
<line x1="172.30" y1="197.75" x2="174.30" y2="197.75" stroke="#333" stroke-width="0.6"/>
<line x1="184.40" y1="207.00" x2="184.40" y2="210.20" stroke="#333" stroke-width="0.8"/>
<line x1="190.00" y1="207.00" x2="190.00" y2="209.00" stroke="#333" stroke-width="0.6"/>
<line x1="193.27" y1="207.00" x2="193.27" y2="209.00" stroke="#333" stroke-width="0.6"/>
<line x1="195.60" y1="207.00" x2="195.60" y2="209.00" stroke="#333" stroke-width="0.6"/>
<line x1="197.40" y1="207.00" x2="197.40" y2="209.00" stroke="#333" stroke-width="0.6"/>
<line x1="198.87" y1="207.00" x2="198.87" y2="209.00" stroke="#333" stroke-width="0.6"/>
<line x1="200.12" y1="207.00" x2="200.12" y2="209.00" stroke="#333" stroke-width="0.6"/>
<line x1="201.20" y1="207.00" x2="201.20" y2="209.00" stroke="#333" stroke-width="0.6"/>
<line x1="202.15" y1="207.00" x2="202.15" y2="209.00" stroke="#333" stroke-width="0.6"/>
<line x1="202.80" y1="207.00" x2="202.80" y2="210.20" stroke="#333" stroke-width="0.8"/>
<line x1="208.40" y1="207.00" x2="208.40" y2="209.00" stroke="#333" stroke-width="0.6"/>
<line x1="211.67" y1="207.00" x2="211.67" y2="209.00" stroke="#333" stroke-width="0.6"/>
<line x1="214.00" y1="207.00" x2="214.00" y2="209.00" stroke="#333" stroke-width="0.6"/>
<line x1="215.80" y1="207.00" x2="215.80" y2="209.00" stroke="#333" stroke-width="0.6"/>
<line x1="217.27" y1="207.00" x2="217.27" y2="209.00" stroke="#333" stroke-width="0.6"/>
<line x1="218.52" y1="207.00" x2="218.52" y2="209.00" stroke="#333" stroke-width="0.6"/>
<line x1="219.60" y1="207.00" x2="219.60" y2="209.00" stroke="#333" stroke-width="0.6"/>
<line x1="220.55" y1="207.00" x2="220.55" y2="209.00" stroke="#333" stroke-width="0.6"/>
<line x1="222.20" y1="207.00" x2="222.20" y2="210.20" stroke="#333" stroke-width="0.8"/>
<line x1="227.80" y1="207.00" x2="227.80" y2="209.00" stroke="#333" stroke-width="0.6"/>
<line x1="231.07" y1="207.00" x2="231.07" y2="209.00" stroke="#333" stroke-width="0.6"/>
<line x1="233.40" y1="207.00" x2="233.40" y2="209.00" stroke="#333" stroke-width="0.6"/>
<line x1="235.20" y1="207.00" x2="235.20" y2="209.00" stroke="#333" stroke-width="0.6"/>
<line x1="236.67" y1="207.00" x2="236.67" y2="209.00" stroke="#333" stroke-width="0.6"/>
<line x1="237.92" y1="207.00" x2="237.92" y2="209.00" stroke="#333" stroke-width="0.6"/>
<line x1="239.00" y1="207.00" x2="239.00" y2="209.00" stroke="#333" stroke-width="0.6"/>
<line x1="239.95" y1="207.00" x2="239.95" y2="209.00" stroke="#333" stroke-width="0.6"/>
<line x1="241.60" y1="207.00" x2="241.60" y2="210.20" stroke="#333" stroke-width="0.8"/>
<line x1="247.20" y1="207.00" x2="247.20" y2="209.00" stroke="#333" stroke-width="0.6"/>
<line x1="174.67" y1="207.00" x2="174.67" y2="209.00" stroke="#333" stroke-width="0.6"/>
<line x1="177.00" y1="207.00" x2="177.00" y2="209.00" stroke="#333" stroke-width="0.6"/>
<line x1="178.80" y1="207.00" x2="178.80" y2="209.00" stroke="#333" stroke-width="0.6"/>
<line x1="180.27" y1="207.00" x2="180.27" y2="209.00" stroke="#333" stroke-width="0.6"/>
<line x1="181.52" y1="207.00" x2="181.52" y2="209.00" stroke="#333" stroke-width="0.6"/>
<line x1="182.60" y1="207.00" x2="182.60" y2="209.00" stroke="#333" stroke-width="0.6"/>
<line x1="183.55" y1="207.00" x2="183.55" y2="209.00" stroke="#333" stroke-width="0.6"/>
<text x="182.00" y="214.00" font-size="5" fill="#3a3a3a">10<tspan font-size="3.8" dy="-2.2">2</tspan></text>
<text x="200.40" y="214.00" font-size="5" fill="#3a3a3a">10<tspan font-size="3.8" dy="-2.2">3</tspan></text>
<text x="219.80" y="214.00" font-size="5" fill="#3a3a3a">10<tspan font-size="3.8" dy="-2.2">4</tspan></text>
<text x="239.20" y="214.00" font-size="5" fill="#3a3a3a">10<tspan font-size="3.8" dy="-2.2">5</tspan></text>
<text transform="translate(169.50,146.50) rotate(-90)" font-size="5" fill="#3a3a3a">10<tspan font-size="3.8" dy="-2.2">5</tspan></text>
<text transform="translate(169.50,164.30) rotate(-90)" font-size="5" fill="#3a3a3a">10<tspan font-size="3.8" dy="-2.2">4</tspan></text>
<text transform="translate(169.50,182.30) rotate(-90)" font-size="5" fill="#3a3a3a">10<tspan font-size="3.8" dy="-2.2">3</tspan></text>
<text transform="translate(169.50,200.20) rotate(-90)" font-size="5" fill="#3a3a3a">10<tspan font-size="3.8" dy="-2.2">2</tspan></text>
<clipPath id="c6"><rect x="174.3" y="136.2" width="77.0" height="70.80000000000001"/></clipPath><g clip-path="url(#c6)">
<line x1="193.16" y1="196.75" x2="191.51" y2="197.88" stroke="#c0c0c0" stroke-width="0.55"/>
<line x1="199.01" y1="203.87" x2="197.87" y2="205.51" stroke="#c0c0c0" stroke-width="0.55"/>
<line x1="192.67" y1="196.79" x2="193.25" y2="198.70" stroke="#c0c0c0" stroke-width="0.55"/>
<line x1="198.58" y1="203.19" x2="197.77" y2="205.02" stroke="#c0c0c0" stroke-width="0.55"/>
<line x1="211.21" y1="190.20" x2="210.39" y2="192.03" stroke="#c0c0c0" stroke-width="0.55"/>
<line x1="196.48" y1="204.08" x2="198.28" y2="204.96" stroke="#c0c0c0" stroke-width="0.55"/>
<line x1="200.64" y1="187.83" x2="201.86" y2="189.42" stroke="#c0c0c0" stroke-width="0.55"/>
<line x1="212.95" y1="195.90" x2="210.95" y2="196.03" stroke="#c0c0c0" stroke-width="0.55"/>
<line x1="194.94" y1="189.53" x2="194.15" y2="191.37" stroke="#c0c0c0" stroke-width="0.55"/>
<line x1="206.42" y1="204.90" x2="207.80" y2="206.36" stroke="#c0c0c0" stroke-width="0.55"/>
<line x1="194.08" y1="201.20" x2="196.05" y2="201.57" stroke="#c0c0c0" stroke-width="0.55"/>
<line x1="196.40" y1="201.75" x2="197.10" y2="203.62" stroke="#c0c0c0" stroke-width="0.55"/>
<line x1="209.03" y1="187.66" x2="209.50" y2="189.61" stroke="#c0c0c0" stroke-width="0.55"/>
<line x1="208.95" y1="202.19" x2="210.91" y2="202.58" stroke="#c0c0c0" stroke-width="0.55"/>
<line x1="204.96" y1="205.20" x2="204.24" y2="207.07" stroke="#c0c0c0" stroke-width="0.55"/>
<line x1="212.03" y1="197.79" x2="212.51" y2="199.73" stroke="#c0c0c0" stroke-width="0.55"/>
<line x1="195.04" y1="200.85" x2="195.70" y2="202.74" stroke="#c0c0c0" stroke-width="0.55"/>
<line x1="211.41" y1="201.80" x2="210.50" y2="203.59" stroke="#c0c0c0" stroke-width="0.55"/>
<line x1="196.78" y1="190.53" x2="194.80" y2="190.80" stroke="#c0c0c0" stroke-width="0.55"/>
<line x1="195.93" y1="202.10" x2="196.70" y2="203.94" stroke="#c0c0c0" stroke-width="0.55"/>
<line x1="210.89" y1="192.11" x2="209.42" y2="193.47" stroke="#c0c0c0" stroke-width="0.55"/>
<line x1="212.62" y1="192.24" x2="212.84" y2="194.23" stroke="#c0c0c0" stroke-width="0.55"/>
<line x1="192.54" y1="199.30" x2="191.31" y2="200.88" stroke="#c0c0c0" stroke-width="0.55"/>
<line x1="205.99" y1="188.44" x2="205.32" y2="190.32" stroke="#c0c0c0" stroke-width="0.55"/>
<line x1="201.02" y1="188.12" x2="202.61" y2="189.34" stroke="#c0c0c0" stroke-width="0.55"/>
<line x1="207.75" y1="188.32" x2="208.31" y2="190.24" stroke="#c0c0c0" stroke-width="0.55"/>
<line x1="192.55" y1="197.04" x2="193.98" y2="198.44" stroke="#c0c0c0" stroke-width="0.55"/>
<line x1="209.22" y1="201.98" x2="211.01" y2="202.86" stroke="#c0c0c0" stroke-width="0.55"/>
<line x1="211.84" y1="189.86" x2="211.28" y2="191.78" stroke="#c0c0c0" stroke-width="0.55"/>
<line x1="210.30" y1="201.51" x2="212.07" y2="202.45" stroke="#c0c0c0" stroke-width="0.55"/>
<line x1="196.35" y1="201.78" x2="196.36" y2="203.78" stroke="#c0c0c0" stroke-width="0.55"/>
<line x1="210.07" y1="200.16" x2="211.56" y2="201.50" stroke="#c0c0c0" stroke-width="0.55"/>
<line x1="191.71" y1="198.18" x2="191.22" y2="200.12" stroke="#c0c0c0" stroke-width="0.55"/>
<line x1="204.76" y1="186.60" x2="204.56" y2="188.59" stroke="#c0c0c0" stroke-width="0.55"/>
<line x1="209.49" y1="199.82" x2="211.31" y2="200.64" stroke="#c0c0c0" stroke-width="0.55"/>
<line x1="194.01" y1="195.91" x2="192.05" y2="196.34" stroke="#c0c0c0" stroke-width="0.55"/>
<line x1="205.70" y1="203.70" x2="204.84" y2="205.51" stroke="#c0c0c0" stroke-width="0.55"/>
<line x1="195.25" y1="191.27" x2="196.19" y2="193.04" stroke="#c0c0c0" stroke-width="0.55"/>
<line x1="192.96" y1="199.74" x2="191.43" y2="201.02" stroke="#c0c0c0" stroke-width="0.55"/>
<line x1="210.56" y1="190.31" x2="208.60" y2="190.70" stroke="#c0c0c0" stroke-width="0.55"/>
<line x1="192.39" y1="198.14" x2="194.20" y2="198.99" stroke="#c0c0c0" stroke-width="0.55"/>
<line x1="208.00" y1="187.88" x2="207.29" y2="189.75" stroke="#c0c0c0" stroke-width="0.55"/>
<line x1="212.24" y1="194.89" x2="213.36" y2="196.55" stroke="#c0c0c0" stroke-width="0.55"/>
<line x1="197.83" y1="186.92" x2="199.52" y2="187.98" stroke="#c0c0c0" stroke-width="0.55"/>
<line x1="210.71" y1="193.61" x2="212.58" y2="194.30" stroke="#c0c0c0" stroke-width="0.55"/>
<line x1="191.64" y1="195.50" x2="191.70" y2="197.50" stroke="#c0c0c0" stroke-width="0.55"/>
<line x1="200.25" y1="206.34" x2="202.14" y2="206.97" stroke="#c0c0c0" stroke-width="0.55"/>
<line x1="198.29" y1="188.47" x2="197.60" y2="190.35" stroke="#c0c0c0" stroke-width="0.55"/>
<line x1="192.37" y1="196.04" x2="193.97" y2="197.24" stroke="#c0c0c0" stroke-width="0.55"/>
<line x1="206.10" y1="188.20" x2="207.36" y2="189.75" stroke="#c0c0c0" stroke-width="0.55"/>
<line x1="192.50" y1="191.40" x2="194.42" y2="191.95" stroke="#c0c0c0" stroke-width="0.55"/>
<line x1="194.60" y1="198.42" x2="193.10" y2="199.75" stroke="#c0c0c0" stroke-width="0.55"/>
<line x1="213.24" y1="198.80" x2="212.87" y2="200.77" stroke="#c0c0c0" stroke-width="0.55"/>
<line x1="191.80" y1="195.31" x2="193.08" y2="196.84" stroke="#c0c0c0" stroke-width="0.55"/>
<line x1="193.46" y1="198.50" x2="194.33" y2="200.30" stroke="#c0c0c0" stroke-width="0.55"/>
<line x1="193.46" y1="190.88" x2="194.51" y2="192.58" stroke="#c0c0c0" stroke-width="0.55"/>
<line x1="195.17" y1="189.84" x2="193.64" y2="191.14" stroke="#c0c0c0" stroke-width="0.55"/>
<line x1="211.64" y1="196.67" x2="213.36" y2="197.69" stroke="#c0c0c0" stroke-width="0.55"/>
<line x1="206.64" y1="187.65" x2="207.00" y2="189.62" stroke="#c0c0c0" stroke-width="0.55"/>
<line x1="193.96" y1="190.65" x2="195.55" y2="191.86" stroke="#c0c0c0" stroke-width="0.55"/>
<path d="M213.22,197.00 C213.09,198.23 210.88,199.18 210.22,200.52 C209.56,201.86 210.22,204.27 209.26,205.03 C208.30,205.79 205.92,204.98 204.45,205.08 C202.97,205.19 201.84,205.72 200.41,205.68 C198.98,205.65 196.89,205.70 195.87,204.88 C194.85,204.05 194.79,202.05 194.31,200.74 C193.83,199.42 192.89,198.21 192.98,197.00 C193.06,195.79 194.35,194.83 194.81,193.49 C195.27,192.16 194.88,190.08 195.76,188.99 C196.64,187.90 198.64,186.93 200.08,186.95 C201.52,186.96 203.13,188.45 204.41,189.09 C205.68,189.73 206.66,190.09 207.75,190.76 C208.85,191.43 210.08,192.09 210.99,193.13 C211.90,194.17 213.35,195.77 213.22,197.00 Z" stroke="#b8b8b8" stroke-width="0.7" fill="none"/>
<path d="M209.90,197.00 C209.75,198.03 209.30,198.89 208.92,199.89 C208.55,200.89 208.43,202.36 207.64,203.01 C206.84,203.66 205.27,203.78 204.16,203.80 C203.06,203.82 202.10,203.31 201.00,203.15 C199.89,202.98 198.30,203.37 197.54,202.80 C196.78,202.23 196.77,200.69 196.43,199.73 C196.10,198.76 195.54,197.91 195.54,197.00 C195.54,196.09 196.08,195.21 196.43,194.27 C196.79,193.33 196.97,192.14 197.68,191.36 C198.39,190.58 199.60,189.84 200.69,189.61 C201.78,189.39 203.18,189.61 204.21,189.99 C205.24,190.37 205.93,191.27 206.86,191.89 C207.80,192.51 209.31,192.86 209.82,193.71 C210.32,194.56 210.05,195.97 209.90,197.00 Z" stroke="#a8a8a8" stroke-width="0.7" fill="none"/>
<path d="M207.97,197.00 C207.92,197.77 207.96,198.60 207.61,199.24 C207.26,199.87 206.48,200.30 205.85,200.82 C205.22,201.34 204.59,202.28 203.85,202.37 C203.11,202.45 202.28,201.48 201.42,201.31 C200.56,201.14 199.36,201.71 198.67,201.37 C197.98,201.03 197.65,200.00 197.30,199.28 C196.96,198.55 196.62,197.77 196.60,197.00 C196.58,196.23 196.73,195.28 197.18,194.67 C197.64,194.07 198.65,193.86 199.32,193.37 C199.98,192.88 200.44,191.99 201.18,191.75 C201.92,191.51 203.03,191.67 203.77,191.95 C204.51,192.22 204.95,192.97 205.64,193.42 C206.33,193.87 207.50,194.05 207.89,194.64 C208.27,195.24 208.01,196.23 207.97,197.00 Z" stroke="#9a9a9a" stroke-width="0.7" fill="none"/>
<path d="M205.73,197.00 C205.69,197.43 205.49,197.81 205.32,198.24 C205.15,198.66 205.08,199.26 204.73,199.54 C204.38,199.81 203.72,199.82 203.22,199.89 C202.73,199.95 202.23,200.03 201.76,199.94 C201.29,199.86 200.77,199.66 200.42,199.37 C200.06,199.09 199.86,198.65 199.64,198.25 C199.42,197.86 199.16,197.45 199.09,197.00 C199.02,196.55 198.98,195.92 199.24,195.57 C199.50,195.22 200.23,195.15 200.65,194.90 C201.07,194.64 201.33,194.14 201.75,194.03 C202.18,193.92 202.71,194.15 203.19,194.24 C203.67,194.33 204.24,194.33 204.63,194.57 C205.03,194.80 205.38,195.25 205.56,195.66 C205.74,196.07 205.77,196.57 205.73,197.00 Z" stroke="#aaa" stroke-width="0.7" fill="none"/>
<path d="M192.5,185.5 C195,178 200,173 208,168 M194,186 C198,180 203,176 210,167" stroke="#777" stroke-width="0.8" fill="none"/>
<path d="M192.8,183 C193,178 199,173 204,171 C206,171 204,174 200,177 C197,180 195,183 194,186" stroke="#555" stroke-width="0.8" fill="none"/>
<path d="M207,170 L213,163 M209,168 L214,166" stroke="#999" stroke-width="0.6" fill="none"/>
</g>
<rect x="174.50" y="136.50" width="77.00" height="71.00" stroke="#2a2a2a" stroke-width="1" fill="none"/>
<line x1="190.50" y1="136.20" x2="190.50" y2="207.00" stroke="#1a1a1a" stroke-width="1"/>
<line x1="174.30" y1="186.50" x2="251.30" y2="186.50" stroke="#222" stroke-width="1"/>
<rect x="190.50" y="158.50" width="29.00" height="28.00" stroke="#222" stroke-width="1" fill="none"/>
<text x="237.50" y="148.60" font-size="10.5" font-weight="bold" textLength="10.20" lengthAdjust="spacingAndGlyphs" fill="#111">iv</text>
<text x="201.60" y="153.30" font-size="10.6" textLength="20.40" lengthAdjust="spacingAndGlyphs" fill="#222">30%</text>
<text x="173.00" y="234.00" font-size="7.0" font-weight="bold" textLength="14.60" lengthAdjust="spacingAndGlyphs" fill="#2a2a2a">FITC</text>
<text x="188.00" y="237.80" font-size="11.4" textLength="48.10" lengthAdjust="spacingAndGlyphs" fill="#2a2a2a">Vδ2 (a.u.)</text>
<text transform="translate(156.20,207.80) rotate(-90)" x="0" y="0" font-size="8.0" font-weight="bold" textLength="9.10" lengthAdjust="spacingAndGlyphs" fill="#2a2a2a">PE</text>
<text transform="translate(161.40,197.40) rotate(-90)" x="0" y="0" font-size="12" textLength="62.00" lengthAdjust="spacingAndGlyphs" fill="#2a2a2a">IFN-γ (a.u.)</text>
<line x1="314.10" y1="145.80" x2="317.30" y2="145.80" stroke="#333" stroke-width="0.8"/>
<line x1="315.30" y1="140.47" x2="317.30" y2="140.47" stroke="#333" stroke-width="0.6"/>
<line x1="314.10" y1="163.40" x2="317.30" y2="163.40" stroke="#333" stroke-width="0.8"/>
<line x1="315.30" y1="158.07" x2="317.30" y2="158.07" stroke="#333" stroke-width="0.6"/>
<line x1="315.30" y1="154.95" x2="317.30" y2="154.95" stroke="#333" stroke-width="0.6"/>
<line x1="315.30" y1="152.74" x2="317.30" y2="152.74" stroke="#333" stroke-width="0.6"/>
<line x1="315.30" y1="151.03" x2="317.30" y2="151.03" stroke="#333" stroke-width="0.6"/>
<line x1="315.30" y1="149.63" x2="317.30" y2="149.63" stroke="#333" stroke-width="0.6"/>
<line x1="315.30" y1="148.44" x2="317.30" y2="148.44" stroke="#333" stroke-width="0.6"/>
<line x1="315.30" y1="147.42" x2="317.30" y2="147.42" stroke="#333" stroke-width="0.6"/>
<line x1="315.30" y1="146.51" x2="317.30" y2="146.51" stroke="#333" stroke-width="0.6"/>
<line x1="314.10" y1="181.00" x2="317.30" y2="181.00" stroke="#333" stroke-width="0.8"/>
<line x1="315.30" y1="175.67" x2="317.30" y2="175.67" stroke="#333" stroke-width="0.6"/>
<line x1="315.30" y1="172.55" x2="317.30" y2="172.55" stroke="#333" stroke-width="0.6"/>
<line x1="315.30" y1="170.34" x2="317.30" y2="170.34" stroke="#333" stroke-width="0.6"/>
<line x1="315.30" y1="168.63" x2="317.30" y2="168.63" stroke="#333" stroke-width="0.6"/>
<line x1="315.30" y1="167.23" x2="317.30" y2="167.23" stroke="#333" stroke-width="0.6"/>
<line x1="315.30" y1="166.04" x2="317.30" y2="166.04" stroke="#333" stroke-width="0.6"/>
<line x1="315.30" y1="165.02" x2="317.30" y2="165.02" stroke="#333" stroke-width="0.6"/>
<line x1="315.30" y1="164.11" x2="317.30" y2="164.11" stroke="#333" stroke-width="0.6"/>
<line x1="314.10" y1="198.80" x2="317.30" y2="198.80" stroke="#333" stroke-width="0.8"/>
<line x1="315.30" y1="193.47" x2="317.30" y2="193.47" stroke="#333" stroke-width="0.6"/>
<line x1="315.30" y1="190.35" x2="317.30" y2="190.35" stroke="#333" stroke-width="0.6"/>
<line x1="315.30" y1="188.14" x2="317.30" y2="188.14" stroke="#333" stroke-width="0.6"/>
<line x1="315.30" y1="186.43" x2="317.30" y2="186.43" stroke="#333" stroke-width="0.6"/>
<line x1="315.30" y1="185.03" x2="317.30" y2="185.03" stroke="#333" stroke-width="0.6"/>
<line x1="315.30" y1="183.84" x2="317.30" y2="183.84" stroke="#333" stroke-width="0.6"/>
<line x1="315.30" y1="182.82" x2="317.30" y2="182.82" stroke="#333" stroke-width="0.6"/>
<line x1="315.30" y1="181.91" x2="317.30" y2="181.91" stroke="#333" stroke-width="0.6"/>
<line x1="315.30" y1="208.05" x2="317.30" y2="208.05" stroke="#333" stroke-width="0.6"/>
<line x1="315.30" y1="205.84" x2="317.30" y2="205.84" stroke="#333" stroke-width="0.6"/>
<line x1="315.30" y1="204.13" x2="317.30" y2="204.13" stroke="#333" stroke-width="0.6"/>
<line x1="315.30" y1="202.73" x2="317.30" y2="202.73" stroke="#333" stroke-width="0.6"/>
<line x1="315.30" y1="201.54" x2="317.30" y2="201.54" stroke="#333" stroke-width="0.6"/>
<line x1="315.30" y1="200.52" x2="317.30" y2="200.52" stroke="#333" stroke-width="0.6"/>
<line x1="315.30" y1="199.61" x2="317.30" y2="199.61" stroke="#333" stroke-width="0.6"/>
<line x1="327.40" y1="209.10" x2="327.40" y2="212.30" stroke="#333" stroke-width="0.8"/>
<line x1="332.73" y1="209.10" x2="332.73" y2="211.10" stroke="#333" stroke-width="0.6"/>
<line x1="335.85" y1="209.10" x2="335.85" y2="211.10" stroke="#333" stroke-width="0.6"/>
<line x1="338.06" y1="209.10" x2="338.06" y2="211.10" stroke="#333" stroke-width="0.6"/>
<line x1="339.77" y1="209.10" x2="339.77" y2="211.10" stroke="#333" stroke-width="0.6"/>
<line x1="341.17" y1="209.10" x2="341.17" y2="211.10" stroke="#333" stroke-width="0.6"/>
<line x1="342.36" y1="209.10" x2="342.36" y2="211.10" stroke="#333" stroke-width="0.6"/>
<line x1="343.38" y1="209.10" x2="343.38" y2="211.10" stroke="#333" stroke-width="0.6"/>
<line x1="344.29" y1="209.10" x2="344.29" y2="211.10" stroke="#333" stroke-width="0.6"/>
<line x1="345.80" y1="209.10" x2="345.80" y2="212.30" stroke="#333" stroke-width="0.8"/>
<line x1="351.13" y1="209.10" x2="351.13" y2="211.10" stroke="#333" stroke-width="0.6"/>
<line x1="354.25" y1="209.10" x2="354.25" y2="211.10" stroke="#333" stroke-width="0.6"/>
<line x1="356.46" y1="209.10" x2="356.46" y2="211.10" stroke="#333" stroke-width="0.6"/>
<line x1="358.17" y1="209.10" x2="358.17" y2="211.10" stroke="#333" stroke-width="0.6"/>
<line x1="359.57" y1="209.10" x2="359.57" y2="211.10" stroke="#333" stroke-width="0.6"/>
<line x1="360.76" y1="209.10" x2="360.76" y2="211.10" stroke="#333" stroke-width="0.6"/>
<line x1="361.78" y1="209.10" x2="361.78" y2="211.10" stroke="#333" stroke-width="0.6"/>
<line x1="362.69" y1="209.10" x2="362.69" y2="211.10" stroke="#333" stroke-width="0.6"/>
<line x1="364.20" y1="209.10" x2="364.20" y2="212.30" stroke="#333" stroke-width="0.8"/>
<line x1="369.53" y1="209.10" x2="369.53" y2="211.10" stroke="#333" stroke-width="0.6"/>
<line x1="372.65" y1="209.10" x2="372.65" y2="211.10" stroke="#333" stroke-width="0.6"/>
<line x1="374.86" y1="209.10" x2="374.86" y2="211.10" stroke="#333" stroke-width="0.6"/>
<line x1="376.57" y1="209.10" x2="376.57" y2="211.10" stroke="#333" stroke-width="0.6"/>
<line x1="377.97" y1="209.10" x2="377.97" y2="211.10" stroke="#333" stroke-width="0.6"/>
<line x1="379.16" y1="209.10" x2="379.16" y2="211.10" stroke="#333" stroke-width="0.6"/>
<line x1="380.18" y1="209.10" x2="380.18" y2="211.10" stroke="#333" stroke-width="0.6"/>
<line x1="381.09" y1="209.10" x2="381.09" y2="211.10" stroke="#333" stroke-width="0.6"/>
<line x1="382.70" y1="209.10" x2="382.70" y2="212.30" stroke="#333" stroke-width="0.8"/>
<line x1="388.03" y1="209.10" x2="388.03" y2="211.10" stroke="#333" stroke-width="0.6"/>
<line x1="318.15" y1="209.10" x2="318.15" y2="211.10" stroke="#333" stroke-width="0.6"/>
<line x1="320.36" y1="209.10" x2="320.36" y2="211.10" stroke="#333" stroke-width="0.6"/>
<line x1="322.07" y1="209.10" x2="322.07" y2="211.10" stroke="#333" stroke-width="0.6"/>
<line x1="323.47" y1="209.10" x2="323.47" y2="211.10" stroke="#333" stroke-width="0.6"/>
<line x1="324.66" y1="209.10" x2="324.66" y2="211.10" stroke="#333" stroke-width="0.6"/>
<line x1="325.68" y1="209.10" x2="325.68" y2="211.10" stroke="#333" stroke-width="0.6"/>
<line x1="326.59" y1="209.10" x2="326.59" y2="211.10" stroke="#333" stroke-width="0.6"/>
<text x="325.00" y="217.80" font-size="5" fill="#3a3a3a">10<tspan font-size="3.8" dy="-2.2">2</tspan></text>
<text x="343.40" y="217.80" font-size="5" fill="#3a3a3a">10<tspan font-size="3.8" dy="-2.2">3</tspan></text>
<text x="361.80" y="217.80" font-size="5" fill="#3a3a3a">10<tspan font-size="3.8" dy="-2.2">4</tspan></text>
<text x="380.30" y="217.80" font-size="5" fill="#3a3a3a">10<tspan font-size="3.8" dy="-2.2">5</tspan></text>
<text transform="translate(312.60,149.10) rotate(-90)" font-size="5" fill="#3a3a3a">10<tspan font-size="3.8" dy="-2.2">5</tspan></text>
<text transform="translate(312.60,166.70) rotate(-90)" font-size="5" fill="#3a3a3a">10<tspan font-size="3.8" dy="-2.2">4</tspan></text>
<text transform="translate(312.60,184.30) rotate(-90)" font-size="5" fill="#3a3a3a">10<tspan font-size="3.8" dy="-2.2">3</tspan></text>
<text transform="translate(312.60,202.10) rotate(-90)" font-size="5" fill="#3a3a3a">10<tspan font-size="3.8" dy="-2.2">2</tspan></text>
<clipPath id="c7"><rect x="317.3" y="137.4" width="74.09999999999997" height="71.69999999999999"/></clipPath><g clip-path="url(#c7)">
<line x1="359.90" y1="207.74" x2="361.69" y2="207.79" stroke="#aaa" stroke-width="0.55"/>
<line x1="374.12" y1="197.32" x2="372.32" y2="197.32" stroke="#aaa" stroke-width="0.55"/>
<line x1="363.00" y1="207.41" x2="364.78" y2="207.72" stroke="#aaa" stroke-width="0.55"/>
<line x1="367.38" y1="205.80" x2="366.36" y2="207.29" stroke="#aaa" stroke-width="0.55"/>
<line x1="359.34" y1="206.07" x2="358.02" y2="207.30" stroke="#aaa" stroke-width="0.55"/>
<line x1="359.88" y1="205.00" x2="360.71" y2="206.60" stroke="#aaa" stroke-width="0.55"/>
<line x1="371.96" y1="199.97" x2="373.45" y2="200.98" stroke="#aaa" stroke-width="0.55"/>
<line x1="369.63" y1="206.60" x2="369.98" y2="208.36" stroke="#aaa" stroke-width="0.55"/>
<line x1="373.58" y1="193.91" x2="372.69" y2="195.48" stroke="#aaa" stroke-width="0.55"/>
<line x1="363.87" y1="206.81" x2="365.16" y2="208.07" stroke="#aaa" stroke-width="0.55"/>
<line x1="363.29" y1="187.78" x2="364.36" y2="189.22" stroke="#aaa" stroke-width="0.55"/>
<line x1="371.80" y1="198.69" x2="372.39" y2="200.39" stroke="#aaa" stroke-width="0.55"/>
<line x1="370.67" y1="201.68" x2="371.75" y2="203.12" stroke="#aaa" stroke-width="0.55"/>
<line x1="357.79" y1="202.65" x2="357.42" y2="204.41" stroke="#aaa" stroke-width="0.55"/>
<line x1="368.04" y1="190.63" x2="369.76" y2="191.16" stroke="#aaa" stroke-width="0.55"/>
<line x1="362.31" y1="206.27" x2="361.89" y2="208.02" stroke="#aaa" stroke-width="0.55"/>
<line x1="356.15" y1="199.64" x2="357.87" y2="200.17" stroke="#aaa" stroke-width="0.55"/>
<line x1="364.89" y1="187.29" x2="364.21" y2="188.96" stroke="#aaa" stroke-width="0.55"/>
<line x1="361.03" y1="187.82" x2="362.82" y2="188.01" stroke="#aaa" stroke-width="0.55"/>
<line x1="368.01" y1="206.96" x2="366.95" y2="208.42" stroke="#aaa" stroke-width="0.55"/>
<line x1="355.98" y1="197.50" x2="357.00" y2="198.98" stroke="#aaa" stroke-width="0.55"/>
<line x1="365.75" y1="209.56" x2="363.95" y2="209.66" stroke="#aaa" stroke-width="0.55"/>
<line x1="355.75" y1="198.16" x2="357.41" y2="198.87" stroke="#aaa" stroke-width="0.55"/>
<line x1="358.97" y1="192.24" x2="358.27" y2="193.91" stroke="#aaa" stroke-width="0.55"/>
<line x1="363.91" y1="207.87" x2="362.27" y2="208.61" stroke="#aaa" stroke-width="0.55"/>
<line x1="360.96" y1="207.10" x2="361.93" y2="208.61" stroke="#aaa" stroke-width="0.55"/>
<line x1="355.63" y1="198.60" x2="355.68" y2="200.40" stroke="#aaa" stroke-width="0.55"/>
<line x1="371.96" y1="195.47" x2="372.22" y2="197.25" stroke="#aaa" stroke-width="0.55"/>
<line x1="360.06" y1="189.82" x2="359.13" y2="191.37" stroke="#aaa" stroke-width="0.55"/>
<line x1="362.56" y1="205.89" x2="362.99" y2="207.64" stroke="#aaa" stroke-width="0.55"/>
<line x1="371.57" y1="201.28" x2="371.03" y2="203.00" stroke="#aaa" stroke-width="0.55"/>
<line x1="361.69" y1="187.29" x2="360.73" y2="188.81" stroke="#aaa" stroke-width="0.55"/>
<line x1="357.26" y1="194.36" x2="357.39" y2="196.15" stroke="#aaa" stroke-width="0.55"/>
<line x1="362.93" y1="206.16" x2="362.73" y2="207.95" stroke="#aaa" stroke-width="0.55"/>
<line x1="359.99" y1="190.94" x2="358.75" y2="192.25" stroke="#aaa" stroke-width="0.55"/>
<line x1="357.89" y1="196.33" x2="356.29" y2="197.14" stroke="#aaa" stroke-width="0.55"/>
<line x1="371.39" y1="199.03" x2="372.35" y2="200.55" stroke="#aaa" stroke-width="0.55"/>
<line x1="361.94" y1="190.26" x2="360.15" y2="190.36" stroke="#aaa" stroke-width="0.55"/>
<line x1="370.64" y1="203.65" x2="370.81" y2="205.44" stroke="#aaa" stroke-width="0.55"/>
<line x1="363.45" y1="188.80" x2="365.03" y2="189.68" stroke="#aaa" stroke-width="0.55"/>
<line x1="364.39" y1="186.77" x2="363.97" y2="188.52" stroke="#aaa" stroke-width="0.55"/>
<line x1="370.71" y1="192.07" x2="371.00" y2="193.85" stroke="#aaa" stroke-width="0.55"/>
<line x1="358.17" y1="198.11" x2="356.62" y2="199.04" stroke="#aaa" stroke-width="0.55"/>
<line x1="371.83" y1="201.55" x2="370.10" y2="202.05" stroke="#aaa" stroke-width="0.55"/>
<line x1="358.52" y1="200.85" x2="356.83" y2="201.47" stroke="#aaa" stroke-width="0.55"/>
<line x1="366.52" y1="207.62" x2="368.32" y2="207.70" stroke="#aaa" stroke-width="0.55"/>
<line x1="369.98" y1="205.56" x2="368.91" y2="207.02" stroke="#aaa" stroke-width="0.55"/>
<line x1="370.83" y1="205.52" x2="370.04" y2="207.14" stroke="#aaa" stroke-width="0.55"/>
<line x1="360.19" y1="187.52" x2="360.30" y2="189.32" stroke="#aaa" stroke-width="0.55"/>
<line x1="372.26" y1="198.41" x2="370.60" y2="199.12" stroke="#aaa" stroke-width="0.55"/>
<line x1="370.71" y1="203.57" x2="369.88" y2="205.16" stroke="#aaa" stroke-width="0.55"/>
<line x1="363.97" y1="186.89" x2="363.64" y2="188.66" stroke="#aaa" stroke-width="0.55"/>
<line x1="359.44" y1="208.37" x2="361.24" y2="208.48" stroke="#aaa" stroke-width="0.55"/>
<line x1="363.33" y1="209.45" x2="364.82" y2="210.45" stroke="#aaa" stroke-width="0.55"/>
<line x1="369.35" y1="189.03" x2="368.62" y2="190.68" stroke="#aaa" stroke-width="0.55"/>
<path d="M370.78,198.50 C370.77,199.87 371.18,201.24 370.95,202.58 C370.72,203.92 370.20,205.78 369.38,206.54 C368.55,207.30 367.07,206.96 366.00,207.13 C364.92,207.30 363.88,207.84 362.93,207.56 C361.97,207.29 361.12,206.28 360.27,205.48 C359.42,204.67 358.34,203.88 357.83,202.72 C357.32,201.56 357.15,199.88 357.19,198.50 C357.22,197.12 357.64,195.75 358.04,194.41 C358.45,193.08 358.83,191.37 359.64,190.49 C360.44,189.60 361.81,189.20 362.87,189.09 C363.93,188.99 365.02,189.47 366.00,189.87 C366.98,190.27 367.90,190.76 368.74,191.51 C369.57,192.27 370.67,193.22 371.01,194.38 C371.35,195.54 370.79,197.13 370.78,198.50 Z" stroke="#999" stroke-width="0.7" fill="none"/>
<path d="M369.52,199.00 C369.53,200.04 369.48,201.18 369.19,202.13 C368.90,203.07 368.36,204.05 367.78,204.69 C367.19,205.33 366.39,205.74 365.65,205.98 C364.91,206.21 364.06,206.34 363.33,206.12 C362.60,205.89 361.85,205.28 361.26,204.62 C360.68,203.95 360.09,203.07 359.80,202.13 C359.52,201.20 359.50,200.01 359.55,199.00 C359.60,197.99 359.80,196.97 360.11,196.07 C360.41,195.17 360.85,194.33 361.38,193.59 C361.92,192.86 362.59,191.85 363.29,191.67 C363.99,191.49 364.84,192.21 365.57,192.51 C366.30,192.82 367.07,192.94 367.67,193.50 C368.26,194.07 368.82,195.00 369.13,195.91 C369.44,196.83 369.51,197.96 369.52,199.00 Z" stroke="#858585" stroke-width="0.8" fill="none"/>
<path d="M368.19,199.50 C368.20,200.22 367.87,201.09 367.57,201.68 C367.28,202.27 366.82,202.67 366.42,203.05 C366.03,203.42 365.63,203.75 365.19,203.93 C364.75,204.11 364.28,204.18 363.78,204.15 C363.28,204.12 362.63,204.14 362.19,203.76 C361.75,203.39 361.28,202.61 361.12,201.90 C360.96,201.18 361.16,200.26 361.22,199.50 C361.28,198.74 361.28,198.01 361.48,197.36 C361.68,196.72 362.04,196.17 362.40,195.63 C362.77,195.09 363.19,194.29 363.67,194.13 C364.14,193.97 364.77,194.42 365.25,194.69 C365.72,194.96 366.14,195.33 366.52,195.77 C366.91,196.21 367.29,196.71 367.57,197.33 C367.84,197.95 368.19,198.78 368.19,199.50 Z" stroke="#777" stroke-width="0.8" fill="none"/>
<path d="M366.18,200.00 C366.20,200.35 366.13,200.81 366.01,201.11 C365.89,201.41 365.63,201.54 365.44,201.81 C365.26,202.07 365.13,202.56 364.90,202.70 C364.68,202.84 364.36,202.74 364.11,202.64 C363.85,202.54 363.58,202.37 363.40,202.12 C363.21,201.86 363.09,201.47 362.98,201.12 C362.87,200.77 362.75,200.39 362.73,200.00 C362.70,199.61 362.72,199.12 362.83,198.77 C362.94,198.41 363.17,198.08 363.39,197.87 C363.61,197.67 363.88,197.67 364.14,197.56 C364.39,197.45 364.68,197.14 364.91,197.22 C365.14,197.31 365.35,197.76 365.51,198.06 C365.67,198.35 365.77,198.66 365.88,198.98 C365.99,199.31 366.16,199.65 366.18,200.00 Z" stroke="#999" stroke-width="0.7" fill="none"/>
<path d="M369.87,164.37 C369.45,164.89 368.75,165.83 368.31,166.14 C367.88,166.45 367.61,166.17 367.27,166.24 C366.93,166.32 366.53,166.58 366.27,166.60 C366.02,166.62 365.75,166.59 365.73,166.37 C365.72,166.15 366.01,165.65 366.21,165.26 C366.41,164.87 366.65,164.50 366.94,164.04 C367.23,163.57 367.52,162.92 367.96,162.46 C368.40,161.99 369.13,161.53 369.58,161.27 C370.03,161.01 370.18,161.17 370.64,160.90 C371.11,160.63 372.15,159.66 372.38,159.66 C372.61,159.65 371.99,160.58 372.01,160.86 C372.02,161.13 372.67,160.94 372.48,161.30 C372.28,161.66 371.28,162.51 370.85,163.02 C370.41,163.53 370.29,163.85 369.87,164.37 Z" stroke="none" stroke-width="0" fill="#333"/>
<circle cx="368.59" cy="162.14" r="0.5" fill="#777"/>
<circle cx="368.24" cy="168.08" r="0.5" fill="#777"/>
<circle cx="369.88" cy="165.66" r="0.5" fill="#777"/>
<circle cx="365.17" cy="162.92" r="0.5" fill="#777"/>
<circle cx="369.90" cy="166.46" r="0.5" fill="#777"/>
<circle cx="363.71" cy="163.98" r="0.5" fill="#777"/>
<circle cx="373.44" cy="164.98" r="0.5" fill="#777"/>
<circle cx="369.88" cy="167.56" r="0.5" fill="#777"/>
<circle cx="363.82" cy="163.81" r="0.5" fill="#777"/>
<circle cx="368.79" cy="165.77" r="0.5" fill="#777"/>
<circle cx="363" cy="169" r="0.6" fill="#888"/>
</g>
<rect x="317.50" y="137.50" width="74.00" height="72.00" stroke="#2a2a2a" stroke-width="1" fill="none"/>
<line x1="335.50" y1="137.40" x2="335.50" y2="209.10" stroke="#1a1a1a" stroke-width="1"/>
<line x1="317.30" y1="186.50" x2="391.40" y2="186.50" stroke="#222" stroke-width="1"/>
<rect x="352.50" y="153.50" width="29.00" height="21.00" stroke="#222" stroke-width="1" fill="none"/>
<text x="378.30" y="149.50" font-size="10.5" font-weight="bold" textLength="9.80" lengthAdjust="spacingAndGlyphs" fill="#111">iii</text>
<text x="318.50" y="229.50" font-size="6.8" font-weight="bold" textLength="13.00" lengthAdjust="spacingAndGlyphs" fill="#2a2a2a">APC</text>
<text x="332.40" y="233.40" font-size="11.6" textLength="50.70" lengthAdjust="spacingAndGlyphs" fill="#2a2a2a">CD3 (a.u.)</text>
<text transform="translate(299.20,207.80) rotate(-90)" x="0" y="0" font-size="7.0" textLength="15.30" lengthAdjust="spacingAndGlyphs" fill="#2a2a2a">FITC</text>
<text transform="translate(303.30,192.00) rotate(-90)" x="0" y="0" font-size="10" textLength="17.60" lengthAdjust="spacingAndGlyphs" fill="#2a2a2a">Vδ2</text>
<text transform="translate(304.00,171.60) rotate(-90)" x="0" y="0" font-size="11" textLength="28.80" lengthAdjust="spacingAndGlyphs" fill="#2a2a2a">(a.u.)</text>
<line x1="441.30" y1="143.60" x2="444.50" y2="143.60" stroke="#333" stroke-width="0.8"/>
<line x1="441.30" y1="162.00" x2="444.50" y2="162.00" stroke="#333" stroke-width="0.8"/>
<line x1="442.50" y1="156.58" x2="444.50" y2="156.58" stroke="#333" stroke-width="0.6"/>
<line x1="442.50" y1="153.41" x2="444.50" y2="153.41" stroke="#333" stroke-width="0.6"/>
<line x1="442.50" y1="151.16" x2="444.50" y2="151.16" stroke="#333" stroke-width="0.6"/>
<line x1="442.50" y1="149.42" x2="444.50" y2="149.42" stroke="#333" stroke-width="0.6"/>
<line x1="442.50" y1="147.99" x2="444.50" y2="147.99" stroke="#333" stroke-width="0.6"/>
<line x1="442.50" y1="146.79" x2="444.50" y2="146.79" stroke="#333" stroke-width="0.6"/>
<line x1="442.50" y1="145.74" x2="444.50" y2="145.74" stroke="#333" stroke-width="0.6"/>
<line x1="442.50" y1="144.82" x2="444.50" y2="144.82" stroke="#333" stroke-width="0.6"/>
<line x1="441.30" y1="179.50" x2="444.50" y2="179.50" stroke="#333" stroke-width="0.8"/>
<line x1="442.50" y1="174.08" x2="444.50" y2="174.08" stroke="#333" stroke-width="0.6"/>
<line x1="442.50" y1="170.91" x2="444.50" y2="170.91" stroke="#333" stroke-width="0.6"/>
<line x1="442.50" y1="168.66" x2="444.50" y2="168.66" stroke="#333" stroke-width="0.6"/>
<line x1="442.50" y1="166.92" x2="444.50" y2="166.92" stroke="#333" stroke-width="0.6"/>
<line x1="442.50" y1="165.49" x2="444.50" y2="165.49" stroke="#333" stroke-width="0.6"/>
<line x1="442.50" y1="164.29" x2="444.50" y2="164.29" stroke="#333" stroke-width="0.6"/>
<line x1="442.50" y1="163.24" x2="444.50" y2="163.24" stroke="#333" stroke-width="0.6"/>
<line x1="442.50" y1="162.32" x2="444.50" y2="162.32" stroke="#333" stroke-width="0.6"/>
<line x1="441.30" y1="196.90" x2="444.50" y2="196.90" stroke="#333" stroke-width="0.8"/>
<line x1="442.50" y1="191.48" x2="444.50" y2="191.48" stroke="#333" stroke-width="0.6"/>
<line x1="442.50" y1="188.31" x2="444.50" y2="188.31" stroke="#333" stroke-width="0.6"/>
<line x1="442.50" y1="186.06" x2="444.50" y2="186.06" stroke="#333" stroke-width="0.6"/>
<line x1="442.50" y1="184.32" x2="444.50" y2="184.32" stroke="#333" stroke-width="0.6"/>
<line x1="442.50" y1="182.89" x2="444.50" y2="182.89" stroke="#333" stroke-width="0.6"/>
<line x1="442.50" y1="181.69" x2="444.50" y2="181.69" stroke="#333" stroke-width="0.6"/>
<line x1="442.50" y1="180.64" x2="444.50" y2="180.64" stroke="#333" stroke-width="0.6"/>
<line x1="442.50" y1="179.72" x2="444.50" y2="179.72" stroke="#333" stroke-width="0.6"/>
<line x1="442.50" y1="206.31" x2="444.50" y2="206.31" stroke="#333" stroke-width="0.6"/>
<line x1="442.50" y1="204.06" x2="444.50" y2="204.06" stroke="#333" stroke-width="0.6"/>
<line x1="442.50" y1="202.32" x2="444.50" y2="202.32" stroke="#333" stroke-width="0.6"/>
<line x1="442.50" y1="200.89" x2="444.50" y2="200.89" stroke="#333" stroke-width="0.6"/>
<line x1="442.50" y1="199.69" x2="444.50" y2="199.69" stroke="#333" stroke-width="0.6"/>
<line x1="442.50" y1="198.64" x2="444.50" y2="198.64" stroke="#333" stroke-width="0.6"/>
<line x1="442.50" y1="197.72" x2="444.50" y2="197.72" stroke="#333" stroke-width="0.6"/>
<line x1="454.20" y1="207.20" x2="454.20" y2="210.40" stroke="#333" stroke-width="0.8"/>
<line x1="459.62" y1="207.20" x2="459.62" y2="209.20" stroke="#333" stroke-width="0.6"/>
<line x1="462.79" y1="207.20" x2="462.79" y2="209.20" stroke="#333" stroke-width="0.6"/>
<line x1="465.04" y1="207.20" x2="465.04" y2="209.20" stroke="#333" stroke-width="0.6"/>
<line x1="466.78" y1="207.20" x2="466.78" y2="209.20" stroke="#333" stroke-width="0.6"/>
<line x1="468.21" y1="207.20" x2="468.21" y2="209.20" stroke="#333" stroke-width="0.6"/>
<line x1="469.41" y1="207.20" x2="469.41" y2="209.20" stroke="#333" stroke-width="0.6"/>
<line x1="470.46" y1="207.20" x2="470.46" y2="209.20" stroke="#333" stroke-width="0.6"/>
<line x1="471.38" y1="207.20" x2="471.38" y2="209.20" stroke="#333" stroke-width="0.6"/>
<line x1="471.70" y1="207.20" x2="471.70" y2="210.40" stroke="#333" stroke-width="0.8"/>
<line x1="477.12" y1="207.20" x2="477.12" y2="209.20" stroke="#333" stroke-width="0.6"/>
<line x1="480.29" y1="207.20" x2="480.29" y2="209.20" stroke="#333" stroke-width="0.6"/>
<line x1="482.54" y1="207.20" x2="482.54" y2="209.20" stroke="#333" stroke-width="0.6"/>
<line x1="484.28" y1="207.20" x2="484.28" y2="209.20" stroke="#333" stroke-width="0.6"/>
<line x1="485.71" y1="207.20" x2="485.71" y2="209.20" stroke="#333" stroke-width="0.6"/>
<line x1="486.91" y1="207.20" x2="486.91" y2="209.20" stroke="#333" stroke-width="0.6"/>
<line x1="487.96" y1="207.20" x2="487.96" y2="209.20" stroke="#333" stroke-width="0.6"/>
<line x1="488.88" y1="207.20" x2="488.88" y2="209.20" stroke="#333" stroke-width="0.6"/>
<line x1="489.20" y1="207.20" x2="489.20" y2="210.40" stroke="#333" stroke-width="0.8"/>
<line x1="494.62" y1="207.20" x2="494.62" y2="209.20" stroke="#333" stroke-width="0.6"/>
<line x1="497.79" y1="207.20" x2="497.79" y2="209.20" stroke="#333" stroke-width="0.6"/>
<line x1="500.04" y1="207.20" x2="500.04" y2="209.20" stroke="#333" stroke-width="0.6"/>
<line x1="501.78" y1="207.20" x2="501.78" y2="209.20" stroke="#333" stroke-width="0.6"/>
<line x1="503.21" y1="207.20" x2="503.21" y2="209.20" stroke="#333" stroke-width="0.6"/>
<line x1="504.41" y1="207.20" x2="504.41" y2="209.20" stroke="#333" stroke-width="0.6"/>
<line x1="505.46" y1="207.20" x2="505.46" y2="209.20" stroke="#333" stroke-width="0.6"/>
<line x1="506.38" y1="207.20" x2="506.38" y2="209.20" stroke="#333" stroke-width="0.6"/>
<line x1="507.50" y1="207.20" x2="507.50" y2="210.40" stroke="#333" stroke-width="0.8"/>
<line x1="512.92" y1="207.20" x2="512.92" y2="209.20" stroke="#333" stroke-width="0.6"/>
<line x1="444.79" y1="207.20" x2="444.79" y2="209.20" stroke="#333" stroke-width="0.6"/>
<line x1="447.04" y1="207.20" x2="447.04" y2="209.20" stroke="#333" stroke-width="0.6"/>
<line x1="448.78" y1="207.20" x2="448.78" y2="209.20" stroke="#333" stroke-width="0.6"/>
<line x1="450.21" y1="207.20" x2="450.21" y2="209.20" stroke="#333" stroke-width="0.6"/>
<line x1="451.41" y1="207.20" x2="451.41" y2="209.20" stroke="#333" stroke-width="0.6"/>
<line x1="452.46" y1="207.20" x2="452.46" y2="209.20" stroke="#333" stroke-width="0.6"/>
<line x1="453.38" y1="207.20" x2="453.38" y2="209.20" stroke="#333" stroke-width="0.6"/>
<text x="451.80" y="215.50" font-size="5" fill="#3a3a3a">10<tspan font-size="3.8" dy="-2.2">2</tspan></text>
<text x="469.30" y="215.50" font-size="5" fill="#3a3a3a">10<tspan font-size="3.8" dy="-2.2">3</tspan></text>
<text x="486.80" y="215.50" font-size="5" fill="#3a3a3a">10<tspan font-size="3.8" dy="-2.2">4</tspan></text>
<text x="505.10" y="215.50" font-size="5" fill="#3a3a3a">10<tspan font-size="3.8" dy="-2.2">5</tspan></text>
<text transform="translate(440.00,146.90) rotate(-90)" font-size="5" fill="#3a3a3a">10<tspan font-size="3.8" dy="-2.2">5</tspan></text>
<text transform="translate(440.00,165.30) rotate(-90)" font-size="5" fill="#3a3a3a">10<tspan font-size="3.8" dy="-2.2">4</tspan></text>
<text transform="translate(440.00,182.80) rotate(-90)" font-size="5" fill="#3a3a3a">10<tspan font-size="3.8" dy="-2.2">3</tspan></text>
<text transform="translate(440.00,200.20) rotate(-90)" font-size="5" fill="#3a3a3a">10<tspan font-size="3.8" dy="-2.2">2</tspan></text>
<clipPath id="c8"><rect x="444.5" y="137.8" width="72.29999999999995" height="69.39999999999998"/></clipPath><g clip-path="url(#c8)">
<path d="M472,207.5 C472,202 473,199 475,196 C477,198 478,202 478.5,207.5" stroke="#555" stroke-width="0.8" fill="none"/>
<path d="M473.5,206 C474,201 475,199 476,200 C477,202 477,204 477,206" stroke="#777" stroke-width="0.7" fill="none"/>
<path d="M476.80,194.50 C476.82,194.80 476.74,195.15 476.66,195.44 C476.58,195.73 476.47,196.05 476.32,196.24 C476.18,196.43 475.97,196.49 475.78,196.59 C475.59,196.68 475.36,196.90 475.19,196.82 C475.02,196.73 474.90,196.31 474.76,196.08 C474.61,195.85 474.45,195.71 474.34,195.44 C474.24,195.18 474.13,194.82 474.12,194.50 C474.11,194.18 474.22,193.84 474.30,193.52 C474.38,193.21 474.46,192.79 474.61,192.61 C474.76,192.44 475.03,192.49 475.23,192.46 C475.42,192.43 475.60,192.36 475.78,192.43 C475.95,192.49 476.14,192.66 476.27,192.86 C476.40,193.06 476.48,193.36 476.57,193.63 C476.66,193.90 476.79,194.20 476.80,194.50 Z" stroke="#999" stroke-width="0.6" fill="none"/>
<line x1="477.16" y1="204.97" x2="477.13" y2="206.47" stroke="#aaa" stroke-width="0.5"/>
<line x1="479.35" y1="199.26" x2="478.16" y2="200.18" stroke="#aaa" stroke-width="0.5"/>
<line x1="474.39" y1="195.93" x2="472.94" y2="196.33" stroke="#aaa" stroke-width="0.5"/>
<line x1="471.01" y1="203.27" x2="472.44" y2="203.73" stroke="#aaa" stroke-width="0.5"/>
<line x1="472.95" y1="206.91" x2="474.34" y2="207.48" stroke="#aaa" stroke-width="0.5"/>
<line x1="477.51" y1="203.24" x2="478.19" y2="204.57" stroke="#aaa" stroke-width="0.5"/>
<line x1="470.89" y1="200.92" x2="472.15" y2="201.73" stroke="#aaa" stroke-width="0.5"/>
<line x1="477.92" y1="200.45" x2="478.78" y2="201.67" stroke="#aaa" stroke-width="0.5"/>
<line x1="472.01" y1="198.94" x2="471.07" y2="200.11" stroke="#aaa" stroke-width="0.5"/>
<line x1="472.18" y1="202.42" x2="471.52" y2="203.76" stroke="#aaa" stroke-width="0.5"/>
<line x1="477.31" y1="197.45" x2="478.80" y2="197.58" stroke="#aaa" stroke-width="0.5"/>
<line x1="474.54" y1="207.43" x2="473.05" y2="207.60" stroke="#aaa" stroke-width="0.5"/>
<line x1="473.29" y1="206.22" x2="474.79" y2="206.24" stroke="#aaa" stroke-width="0.5"/>
<line x1="477.93" y1="204.62" x2="476.43" y2="204.71" stroke="#aaa" stroke-width="0.5"/>
<line x1="477.40" y1="199.05" x2="478.89" y2="199.18" stroke="#aaa" stroke-width="0.5"/>
<rect x="470.5" y="205.4" width="9" height="1.8" fill="#333"/>
<circle cx="475" cy="172.5" r="0.5" fill="#bbb"/><circle cx="484" cy="185" r="0.5" fill="#bbb"/>
</g>
<rect x="444.50" y="137.50" width="72.00" height="70.00" stroke="#2a2a2a" stroke-width="1" fill="none"/>
<line x1="458.50" y1="137.80" x2="458.50" y2="207.20" stroke="#1a1a1a" stroke-width="1"/>
<line x1="444.50" y1="190.50" x2="516.80" y2="190.50" stroke="#666" stroke-width="1"/>
<text x="505.10" y="149.40" font-size="10.5" font-weight="bold" textLength="9.80" lengthAdjust="spacingAndGlyphs" fill="#111">iv</text>
<text x="490.80" y="172.70" font-size="12" textLength="16.40" lengthAdjust="spacingAndGlyphs" fill="#333">0%</text>
<text x="453.00" y="230.00" font-size="6.5" font-weight="bold" textLength="12.80" lengthAdjust="spacingAndGlyphs" fill="#2a2a2a">FITC</text>
<text x="466.50" y="233.80" font-size="11" textLength="48.90" lengthAdjust="spacingAndGlyphs" fill="#2a2a2a">Vδ2 (a.u.)</text>
<text transform="translate(428.80,205.80) rotate(-90)" x="0" y="0" font-size="8.5" textLength="7.80" lengthAdjust="spacingAndGlyphs" fill="#2a2a2a">PE</text>
<text transform="translate(431.20,196.80) rotate(-90)" x="0" y="0" font-size="11" textLength="55.80" lengthAdjust="spacingAndGlyphs" fill="#2a2a2a">IFN-γ (a.u.)</text>
<line x1="70.50" y1="275.00" x2="70.50" y2="423.50" stroke="#222" stroke-width="1"/>
<line x1="70.40" y1="423.50" x2="245.50" y2="423.50" stroke="#222" stroke-width="1"/>
<line x1="65.80" y1="275.50" x2="70.40" y2="275.50" stroke="#222" stroke-width="1"/>
<text x="62.00" y="279.40" font-size="13.8" text-anchor="end" textLength="19.80" lengthAdjust="spacingAndGlyphs" fill="#2a2a2a">100</text>
<line x1="65.80" y1="304.50" x2="70.40" y2="304.50" stroke="#222" stroke-width="1"/>
<text x="62.00" y="308.80" font-size="13.8" text-anchor="end" textLength="13.20" lengthAdjust="spacingAndGlyphs" fill="#2a2a2a">80</text>
<line x1="65.80" y1="334.50" x2="70.40" y2="334.50" stroke="#222" stroke-width="1"/>
<text x="62.00" y="338.50" font-size="13.8" text-anchor="end" textLength="13.20" lengthAdjust="spacingAndGlyphs" fill="#2a2a2a">60</text>
<line x1="65.80" y1="364.50" x2="70.40" y2="364.50" stroke="#222" stroke-width="1"/>
<text x="62.00" y="368.80" font-size="13.8" text-anchor="end" textLength="13.20" lengthAdjust="spacingAndGlyphs" fill="#2a2a2a">40</text>
<line x1="65.80" y1="393.50" x2="70.40" y2="393.50" stroke="#222" stroke-width="1"/>
<text x="62.00" y="398.20" font-size="13.8" text-anchor="end" textLength="13.20" lengthAdjust="spacingAndGlyphs" fill="#2a2a2a">20</text>
<line x1="65.80" y1="423.50" x2="70.40" y2="423.50" stroke="#222" stroke-width="1"/>
<text x="62.00" y="427.90" font-size="13.8" text-anchor="end" textLength="6.60" lengthAdjust="spacingAndGlyphs" fill="#2a2a2a">0</text>
<line x1="70.50" y1="423.50" x2="70.50" y2="428.10" stroke="#222" stroke-width="1"/>
<line x1="87.50" y1="423.50" x2="87.50" y2="428.10" stroke="#222" stroke-width="1"/>
<line x1="115.50" y1="423.50" x2="115.50" y2="428.10" stroke="#222" stroke-width="1"/>
<line x1="137.50" y1="423.50" x2="137.50" y2="428.10" stroke="#222" stroke-width="1"/>
<line x1="164.50" y1="423.50" x2="164.50" y2="428.10" stroke="#222" stroke-width="1"/>
<line x1="192.50" y1="423.50" x2="192.50" y2="428.10" stroke="#222" stroke-width="1"/>
<line x1="218.50" y1="423.50" x2="218.50" y2="428.10" stroke="#222" stroke-width="1"/>
<line x1="245.50" y1="423.50" x2="245.50" y2="428.10" stroke="#222" stroke-width="1"/>
<rect x="80.25" y="357.10" width="7.65" height="66.40" fill="#333"/>
<line x1="84.50" y1="345.60" x2="84.50" y2="357.60" stroke="#333" stroke-width="1"/>
<rect x="89.50" y="371.50" width="6.00" height="52.00" fill="#fff" stroke="#222" stroke-width="1"/>
<line x1="92.50" y1="359.75" x2="92.50" y2="381.40" stroke="#333" stroke-width="1"/>
<rect x="107.50" y="396.25" width="7.10" height="27.25" fill="#333"/>
<line x1="111.50" y1="390.00" x2="111.50" y2="396.75" stroke="#333" stroke-width="1"/>
<rect x="115.50" y="411.50" width="7.00" height="12.00" fill="#fff" stroke="#222" stroke-width="1"/>
<line x1="119.50" y1="403.75" x2="119.50" y2="416.80" stroke="#333" stroke-width="1"/>
<rect x="127.10" y="336.60" width="7.40" height="86.90" fill="#333"/>
<line x1="130.50" y1="330.60" x2="130.50" y2="337.10" stroke="#333" stroke-width="1"/>
<rect x="134.50" y="408.50" width="8.00" height="15.00" fill="#fff" stroke="#222" stroke-width="1"/>
<line x1="138.50" y1="401.00" x2="138.50" y2="414.50" stroke="#333" stroke-width="1"/>
<rect x="152.10" y="401.25" width="7.50" height="22.25" fill="#333"/>
<line x1="155.50" y1="392.90" x2="155.50" y2="401.75" stroke="#333" stroke-width="1"/>
<rect x="160.50" y="353.50" width="6.00" height="70.00" fill="#fff" stroke="#222" stroke-width="1"/>
<line x1="163.50" y1="342.75" x2="163.50" y2="361.50" stroke="#333" stroke-width="1"/>
<rect x="179.10" y="403.10" width="7.50" height="20.40" fill="#333"/>
<line x1="182.50" y1="393.50" x2="182.50" y2="403.60" stroke="#333" stroke-width="1"/>
<rect x="187.50" y="362.50" width="7.00" height="61.00" fill="#fff" stroke="#222" stroke-width="1"/>
<line x1="191.50" y1="353.10" x2="191.50" y2="371.90" stroke="#333" stroke-width="1"/>
<rect x="203.10" y="397.25" width="7.90" height="26.25" fill="#333"/>
<line x1="207.50" y1="386.90" x2="207.50" y2="397.75" stroke="#333" stroke-width="1"/>
<rect x="211.50" y="410.50" width="6.00" height="13.00" fill="#fff" stroke="#222" stroke-width="1"/>
<line x1="214.50" y1="403.75" x2="214.50" y2="416.80" stroke="#333" stroke-width="1"/>
<rect x="223.75" y="410.40" width="7.85" height="13.10" fill="#333"/>
<line x1="227.50" y1="405.60" x2="227.50" y2="410.90" stroke="#333" stroke-width="1"/>
<rect x="232.50" y="411.50" width="6.00" height="12.00" fill="#fff" stroke="#222" stroke-width="1"/>
<line x1="235.50" y1="403.75" x2="235.50" y2="418.50" stroke="#333" stroke-width="1"/>
<text x="81.70" y="337.70" font-size="12" fill="#222">**</text>
<text x="126.70" y="328.00" font-size="12" fill="#222">*</text>
<text x="160.80" y="336.70" font-size="12" fill="#222">*</text>
<text x="187.80" y="348.00" font-size="12" fill="#222">*</text>
<text transform="translate(94.05,436.20) rotate(-45)" x="0" y="0" font-size="15.5" text-anchor="end" textLength="38.60" lengthAdjust="spacingAndGlyphs" fill="#262626">ex vivo</text>
<text transform="translate(116.55,437.40) rotate(-45)" x="0" y="0" font-size="15.5" text-anchor="end" textLength="25.85" lengthAdjust="spacingAndGlyphs" fill="#262626">none</text>
<text transform="translate(139.00,438.70) rotate(-45)" x="0" y="0" font-size="15.5" text-anchor="end" textLength="13.70" lengthAdjust="spacingAndGlyphs" fill="#262626">Ca</text>
<text transform="translate(166.80,439.80) rotate(-45)" x="0" y="0" font-size="15.5" text-anchor="end" textLength="20.80" lengthAdjust="spacingAndGlyphs" fill="#262626">PPD</text>
<text transform="translate(192.20,437.00) rotate(-45)" x="0" y="0" font-size="15.5" text-anchor="end" textLength="16.50" lengthAdjust="spacingAndGlyphs" fill="#262626">IPP</text>
<text transform="translate(217.30,441.00) rotate(-45)" x="0" y="0" font-size="15.5" text-anchor="end" textLength="15.90" lengthAdjust="spacingAndGlyphs" fill="#262626">PC</text>
<text transform="translate(239.05,442.20) rotate(-45)" x="0" y="0" font-size="15.5" text-anchor="end" textLength="22.40" lengthAdjust="spacingAndGlyphs" fill="#262626">CMV</text>
<text transform="translate(35.60,420.90) rotate(-90)" font-size="13.5" fill="#2a2a2a" textLength="139.80" lengthAdjust="spacingAndGlyphs">Percentage IFN-γ<tspan font-size="9" dy="-5">+</tspan><tspan dy="5"> cells</tspan></text>
<path d="M74.5,346.5 L74.5,340.5 L98.5,340.5 L98.5,346.5" stroke="#222" stroke-width="1" fill="none"/>
<path d="M107.5,311.5 L107.5,306.5 L248.5,306.5 L248.5,311.5" stroke="#222" stroke-width="1" fill="none"/>
<text x="85.50" y="279.30" font-size="13.4" textLength="19.30" lengthAdjust="spacingAndGlyphs" fill="#2a2a2a">Pts</text>
<text x="137.30" y="296.90" font-size="13.3" textLength="53.10" lengthAdjust="spacingAndGlyphs" fill="#2a2a2a">7d culture</text>
<rect x="215.4" y="262.2" width="5.5" height="6.3" fill="#2a2a2a"/>
<text x="222.60" y="270.40" font-size="13.6" textLength="22.00" lengthAdjust="spacingAndGlyphs" fill="#2a2a2a">Vδ1</text>
<rect x="215.9" y="280.7" width="4.6" height="6.6" fill="#fff" stroke="#333" stroke-width="1"/>
<text x="224.50" y="289.10" font-size="14" textLength="23.00" lengthAdjust="spacingAndGlyphs" fill="#2a2a2a">Vδ2</text>
<line x1="340.50" y1="275.50" x2="340.50" y2="425.20" stroke="#222" stroke-width="1"/>
<line x1="340.20" y1="425.50" x2="514.10" y2="425.50" stroke="#222" stroke-width="1"/>
<line x1="335.60" y1="275.50" x2="340.20" y2="275.50" stroke="#222" stroke-width="1"/>
<text x="332.00" y="279.90" font-size="13.8" text-anchor="end" textLength="19.80" lengthAdjust="spacingAndGlyphs" fill="#2a2a2a">100</text>
<line x1="335.60" y1="304.50" x2="340.20" y2="304.50" stroke="#222" stroke-width="1"/>
<text x="332.00" y="309.30" font-size="13.8" text-anchor="end" textLength="13.20" lengthAdjust="spacingAndGlyphs" fill="#2a2a2a">80</text>
<line x1="335.60" y1="335.50" x2="340.20" y2="335.50" stroke="#222" stroke-width="1"/>
<text x="332.00" y="339.40" font-size="13.8" text-anchor="end" textLength="13.20" lengthAdjust="spacingAndGlyphs" fill="#2a2a2a">60</text>
<line x1="335.60" y1="365.50" x2="340.20" y2="365.50" stroke="#222" stroke-width="1"/>
<text x="332.00" y="369.80" font-size="13.8" text-anchor="end" textLength="13.20" lengthAdjust="spacingAndGlyphs" fill="#2a2a2a">40</text>
<line x1="335.60" y1="395.50" x2="340.20" y2="395.50" stroke="#222" stroke-width="1"/>
<text x="332.00" y="399.60" font-size="13.8" text-anchor="end" textLength="13.20" lengthAdjust="spacingAndGlyphs" fill="#2a2a2a">20</text>
<line x1="335.60" y1="425.50" x2="340.20" y2="425.50" stroke="#222" stroke-width="1"/>
<text x="332.00" y="429.60" font-size="13.8" text-anchor="end" textLength="6.60" lengthAdjust="spacingAndGlyphs" fill="#2a2a2a">0</text>
<line x1="340.50" y1="425.20" x2="340.50" y2="429.80" stroke="#222" stroke-width="1"/>
<line x1="386.50" y1="425.20" x2="386.50" y2="429.80" stroke="#222" stroke-width="1"/>
<line x1="412.50" y1="425.20" x2="412.50" y2="429.80" stroke="#222" stroke-width="1"/>
<line x1="438.50" y1="425.20" x2="438.50" y2="429.80" stroke="#222" stroke-width="1"/>
<line x1="467.50" y1="425.20" x2="467.50" y2="429.80" stroke="#222" stroke-width="1"/>
<line x1="488.50" y1="425.20" x2="488.50" y2="429.80" stroke="#222" stroke-width="1"/>
<line x1="514.50" y1="425.20" x2="514.50" y2="429.80" stroke="#222" stroke-width="1"/>
<rect x="352.00" y="422.90" width="7.90" height="2.30" fill="#333"/>
<line x1="355.50" y1="419.30" x2="355.50" y2="423.40" stroke="#333" stroke-width="1"/>
<rect x="359.90" y="422.90" width="7.90" height="2.30" fill="#222"/>
<line x1="364.50" y1="419.30" x2="364.50" y2="423.00" stroke="#333" stroke-width="1"/>
<rect x="378.90" y="422.90" width="7.35" height="2.30" fill="#333"/>
<line x1="382.50" y1="419.30" x2="382.50" y2="423.40" stroke="#333" stroke-width="1"/>
<rect x="386.25" y="422.90" width="7.45" height="2.30" fill="#222"/>
<line x1="390.50" y1="419.30" x2="390.50" y2="423.00" stroke="#333" stroke-width="1"/>
<rect x="400.25" y="332.25" width="7.65" height="92.95" fill="#333"/>
<line x1="404.50" y1="324.40" x2="404.50" y2="332.75" stroke="#333" stroke-width="1"/>
<rect x="408.50" y="414.50" width="6.00" height="10.70" fill="#fff" stroke="#222" stroke-width="1"/>
<line x1="411.50" y1="406.50" x2="411.50" y2="418.00" stroke="#333" stroke-width="1"/>
<rect x="423.40" y="418.75" width="8.10" height="6.45" fill="#333"/>
<line x1="427.50" y1="410.25" x2="427.50" y2="419.25" stroke="#333" stroke-width="1"/>
<rect x="432.50" y="341.50" width="6.00" height="83.70" fill="#fff" stroke="#222" stroke-width="1"/>
<line x1="435.50" y1="334.40" x2="435.50" y2="346.80" stroke="#333" stroke-width="1"/>
<rect x="447.10" y="416.00" width="8.15" height="9.20" fill="#333"/>
<line x1="451.50" y1="409.40" x2="451.50" y2="416.50" stroke="#333" stroke-width="1"/>
<rect x="455.50" y="308.50" width="6.00" height="116.70" fill="#fff" stroke="#222" stroke-width="1"/>
<line x1="458.50" y1="298.75" x2="458.50" y2="317.00" stroke="#333" stroke-width="1"/>
<rect x="468.75" y="418.75" width="7.50" height="6.45" fill="#333"/>
<line x1="472.50" y1="411.25" x2="472.50" y2="419.25" stroke="#333" stroke-width="1"/>
<rect x="476.50" y="422.50" width="6.00" height="2.70" fill="#fff" stroke="#222" stroke-width="1"/>
<line x1="479.50" y1="418.10" x2="479.50" y2="425.00" stroke="#333" stroke-width="1"/>
<rect x="494.00" y="421.80" width="8.00" height="3.40" fill="#333"/>
<line x1="498.50" y1="417.60" x2="498.50" y2="422.30" stroke="#333" stroke-width="1"/>
<rect x="502.50" y="422.50" width="5.00" height="2.70" fill="#fff" stroke="#222" stroke-width="1"/>
<line x1="505.50" y1="418.10" x2="505.50" y2="425.00" stroke="#333" stroke-width="1"/>
<text x="401.70" y="320.40" font-size="12" fill="#222">*</text>
<text x="431.00" y="331.10" font-size="12" fill="#222">*</text>
<text x="455.30" y="299.20" font-size="12" fill="#222">*</text>
<text transform="translate(369.70,437.00) rotate(-45)" x="0" y="0" font-size="15.5" text-anchor="end" textLength="38.60" lengthAdjust="spacingAndGlyphs" fill="#262626">ex vivo</text>
<text transform="translate(392.20,439.00) rotate(-45)" x="0" y="0" font-size="15.5" text-anchor="end" textLength="25.85" lengthAdjust="spacingAndGlyphs" fill="#262626">none</text>
<text transform="translate(414.90,439.90) rotate(-45)" x="0" y="0" font-size="15.5" text-anchor="end" textLength="12.70" lengthAdjust="spacingAndGlyphs" fill="#262626">Ca</text>
<text transform="translate(441.00,439.60) rotate(-45)" x="0" y="0" font-size="15.5" text-anchor="end" textLength="23.50" lengthAdjust="spacingAndGlyphs" fill="#262626">PPD</text>
<text transform="translate(460.00,437.50) rotate(-45)" x="0" y="0" font-size="15.5" text-anchor="end" textLength="17.90" lengthAdjust="spacingAndGlyphs" fill="#262626">IPP</text>
<text transform="translate(487.90,440.20) rotate(-45)" x="0" y="0" font-size="15.5" text-anchor="end" textLength="15.90" lengthAdjust="spacingAndGlyphs" fill="#262626">PC</text>
<text transform="translate(509.70,437.50) rotate(-45)" x="0" y="0" font-size="15.5" text-anchor="end" textLength="22.00" lengthAdjust="spacingAndGlyphs" fill="#262626">CMV</text>
<text transform="translate(305.60,420.90) rotate(-90)" font-size="13.5" fill="#2a2a2a" textLength="137.90" lengthAdjust="spacingAndGlyphs">Percentage IFN-γ<tspan font-size="9" dy="-5">+</tspan><tspan dy="5"> cells</tspan></text>
<path d="M375.5,291.5 L375.5,286.5 L513.5,286.5 L513.5,291.5" stroke="#222" stroke-width="1" fill="none"/>
<text x="349.80" y="267.90" font-size="13.4" textLength="23.60" lengthAdjust="spacingAndGlyphs" fill="#2a2a2a">Hds</text>
<text x="349.00" y="281.70" font-size="9.6" textLength="22.80" lengthAdjust="spacingAndGlyphs" fill="#222" stroke="#222" stroke-width="0.2">n=10</text>
<text x="404.00" y="278.70" font-size="13.3" textLength="52.90" lengthAdjust="spacingAndGlyphs" fill="#2a2a2a">7d culture</text>
<rect x="485.2" y="256.0" width="4.3" height="6.1" fill="#2a2a2a"/>
<text x="490.80" y="265.40" font-size="14" textLength="21.00" lengthAdjust="spacingAndGlyphs" fill="#2a2a2a">Vδ1</text>
<rect x="485.7" y="273.4" width="3.4" height="6.9" fill="#fff" stroke="#333" stroke-width="1"/>
<text x="491.70" y="282.40" font-size="14" textLength="23.00" lengthAdjust="spacingAndGlyphs" fill="#2a2a2a">Vδ2</text>
<rect x="5.2" y="460.4" width="1.8" height="3.6" fill="#333"/>
</svg></body></html>
